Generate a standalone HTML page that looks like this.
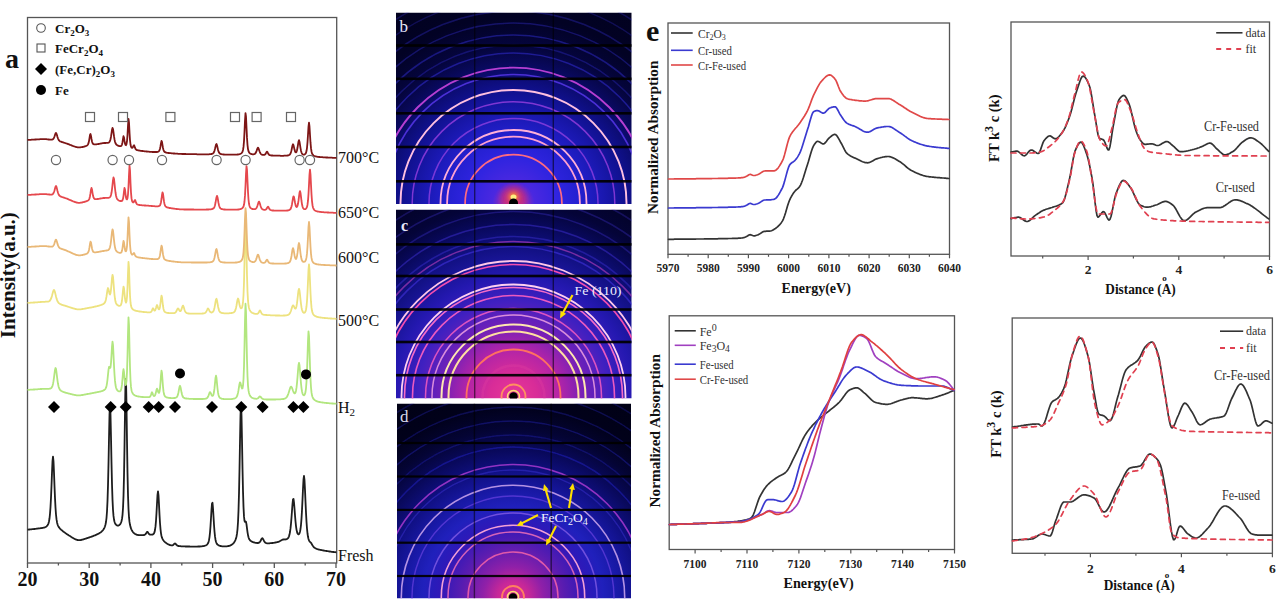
<!DOCTYPE html>
<html><head><meta charset="utf-8"><style>
html,body{margin:0;padding:0;background:#fff;width:1279px;height:600px;overflow:hidden}
svg{display:block}
.s{font-family:"Liberation Serif",serif;fill:#111}
.sb{font-family:"Liberation Serif",serif;font-weight:bold;fill:#111}
</style></head><body>
<svg width="1279" height="600" viewBox="0 0 1279 600">
<rect x="27.5" y="17.5" width="309.2" height="545.5" fill="none" stroke="#555" stroke-width="1.3"/>
<line x1="27.5" y1="563" x2="27.5" y2="568.0" stroke="#555" stroke-width="1.3"/>
<line x1="58.4" y1="563" x2="58.4" y2="565.5" stroke="#555" stroke-width="1.3"/>
<line x1="89.2" y1="563" x2="89.2" y2="568.0" stroke="#555" stroke-width="1.3"/>
<line x1="120.1" y1="563" x2="120.1" y2="565.5" stroke="#555" stroke-width="1.3"/>
<line x1="150.9" y1="563" x2="150.9" y2="568.0" stroke="#555" stroke-width="1.3"/>
<line x1="181.8" y1="563" x2="181.8" y2="565.5" stroke="#555" stroke-width="1.3"/>
<line x1="212.6" y1="563" x2="212.6" y2="568.0" stroke="#555" stroke-width="1.3"/>
<line x1="243.5" y1="563" x2="243.5" y2="565.5" stroke="#555" stroke-width="1.3"/>
<line x1="274.3" y1="563" x2="274.3" y2="568.0" stroke="#555" stroke-width="1.3"/>
<line x1="305.2" y1="563" x2="305.2" y2="565.5" stroke="#555" stroke-width="1.3"/>
<line x1="336.0" y1="563" x2="336.0" y2="568.0" stroke="#555" stroke-width="1.3"/>
<text x="27.5" y="586" class="sb" font-size="20" text-anchor="middle">20</text>
<text x="89.2" y="586" class="sb" font-size="20" text-anchor="middle">30</text>
<text x="150.9" y="586" class="sb" font-size="20" text-anchor="middle">40</text>
<text x="212.6" y="586" class="sb" font-size="20" text-anchor="middle">50</text>
<text x="274.3" y="586" class="sb" font-size="20" text-anchor="middle">60</text>
<text x="336.0" y="586" class="sb" font-size="20" text-anchor="middle">70</text>
<path d="M27.5,529.6 L28.0,529.6 L28.5,529.6 L29.0,529.5 L29.5,529.5 L30.0,529.4 L30.5,529.4 L31.0,529.4 L31.5,529.3 L32.0,529.2 L32.5,529.2 L33.0,529.1 L33.5,529.1 L34.0,529.0 L34.5,529.0 L35.0,528.9 L35.5,528.8 L36.0,528.8 L36.5,528.7 L37.0,528.6 L37.5,528.6 L38.0,528.5 L38.5,528.4 L39.0,528.4 L39.5,528.3 L40.0,528.3 L40.5,528.2 L41.0,528.1 L41.5,528.1 L42.0,528.0 L42.5,527.9 L43.0,527.8 L43.5,527.7 L44.0,527.6 L44.5,527.5 L45.0,527.3 L45.5,527.0 L46.0,526.8 L46.5,526.4 L47.0,525.9 L47.5,525.3 L48.0,524.5 L48.5,523.3 L49.0,521.4 L49.5,518.5 L50.0,513.9 L50.5,507.1 L51.0,497.7 L51.5,485.8 L52.0,472.6 L52.5,461.2 L53.0,456.6 L53.5,461.3 L54.0,472.8 L54.5,486.1 L55.0,498.1 L55.5,507.6 L56.0,514.5 L56.5,519.2 L57.0,522.2 L57.5,524.2 L58.0,525.6 L58.5,526.6 L59.0,527.4 L59.5,528.0 L60.0,528.6 L60.5,529.1 L61.0,529.6 L61.5,530.0 L62.0,530.4 L62.5,530.9 L63.0,531.3 L63.5,531.7 L64.0,532.0 L64.5,532.4 L65.0,532.8 L65.5,533.1 L66.0,533.5 L66.5,533.8 L67.0,534.2 L67.5,534.5 L68.0,534.8 L68.5,535.2 L69.0,535.5 L69.5,535.8 L70.0,536.1 L70.5,536.4 L71.0,536.8 L71.5,537.1 L72.0,537.4 L72.5,537.7 L73.0,538.0 L73.5,538.3 L74.0,538.6 L74.5,538.8 L75.0,539.1 L75.5,539.3 L76.0,539.6 L76.5,539.7 L77.0,539.9 L77.5,540.0 L78.0,540.1 L78.5,540.2 L79.0,540.2 L79.5,540.2 L80.0,540.1 L80.5,540.1 L81.0,540.0 L81.5,539.9 L82.0,539.7 L82.5,539.6 L83.0,539.5 L83.5,539.3 L84.0,539.1 L84.5,539.0 L85.0,538.8 L85.5,538.7 L86.0,538.5 L86.5,538.4 L87.0,538.2 L87.5,538.0 L88.0,537.9 L88.5,537.7 L89.0,537.5 L89.5,537.4 L90.0,537.2 L90.5,537.0 L91.0,536.8 L91.5,536.6 L92.0,536.5 L92.5,536.3 L93.0,536.1 L93.5,535.9 L94.0,535.7 L94.5,535.5 L95.0,535.3 L95.5,535.1 L96.0,534.9 L96.5,534.6 L97.0,534.4 L97.5,534.2 L98.0,533.9 L98.5,533.7 L99.0,533.4 L99.5,533.1 L100.0,532.8 L100.5,532.5 L101.0,532.1 L101.5,531.7 L102.0,531.2 L102.5,530.7 L103.0,530.1 L103.5,529.4 L104.0,528.6 L104.5,527.6 L105.0,526.3 L105.5,524.5 L106.0,522.0 L106.5,518.0 L107.0,511.5 L107.5,501.1 L108.0,485.4 L108.5,463.9 L109.0,438.2 L109.5,414.5 L110.0,404.2 L110.5,414.2 L111.0,437.6 L111.5,463.0 L112.0,484.2 L112.5,499.6 L113.0,509.7 L113.5,515.9 L114.0,519.5 L114.5,521.7 L115.0,523.1 L115.5,524.1 L116.0,524.7 L116.5,525.2 L117.0,525.4 L117.5,525.6 L118.0,525.6 L118.5,525.5 L119.0,525.2 L119.5,524.9 L120.0,524.4 L120.5,523.7 L121.0,522.6 L121.5,521.2 L122.0,518.9 L122.5,515.1 L123.0,508.3 L123.5,496.3 L124.0,476.3 L124.5,447.0 L125.0,411.4 L125.5,382.0 L126.0,378.9 L126.5,405.1 L127.0,441.3 L127.5,472.8 L128.0,495.1 L128.5,509.0 L129.0,517.2 L129.5,521.9 L130.0,524.8 L130.5,526.9 L131.0,528.4 L131.5,529.6 L132.0,530.6 L132.5,531.4 L133.0,532.1 L133.5,532.7 L134.0,533.1 L134.5,533.5 L135.0,533.9 L135.5,534.2 L136.0,534.4 L136.5,534.6 L137.0,534.8 L137.5,534.9 L138.0,535.0 L138.5,535.1 L139.0,535.1 L139.5,535.2 L140.0,535.2 L140.5,535.2 L141.0,535.2 L141.5,535.2 L142.0,535.2 L142.5,535.2 L143.0,535.1 L143.5,535.1 L144.0,535.0 L144.5,534.9 L145.0,534.6 L145.5,534.3 L146.0,533.6 L146.5,532.7 L147.0,531.9 L147.5,531.8 L148.0,532.5 L148.5,533.3 L149.0,534.0 L149.5,534.4 L150.0,534.6 L150.5,534.7 L151.0,534.7 L151.5,534.7 L152.0,534.7 L152.5,534.6 L153.0,534.4 L153.5,534.0 L154.0,533.4 L154.5,532.2 L155.0,530.0 L155.5,526.4 L156.0,520.8 L156.5,513.0 L157.0,503.5 L157.5,494.9 L158.0,491.3 L158.5,495.4 L159.0,504.6 L159.5,514.6 L160.0,523.0 L160.5,529.1 L161.0,533.3 L161.5,536.0 L162.0,537.7 L162.5,538.9 L163.0,539.8 L163.5,540.5 L164.0,541.1 L164.5,541.6 L165.0,542.1 L165.5,542.5 L166.0,542.9 L166.5,543.3 L167.0,543.6 L167.5,544.0 L168.0,544.2 L168.5,544.5 L169.0,544.7 L169.5,544.9 L170.0,545.1 L170.5,545.2 L171.0,545.3 L171.5,545.4 L172.0,545.4 L172.5,545.3 L173.0,545.1 L173.5,544.7 L174.0,544.2 L174.5,543.7 L175.0,543.5 L175.5,543.7 L176.0,544.3 L176.5,544.9 L177.0,545.3 L177.5,545.7 L178.0,545.9 L178.5,546.0 L179.0,546.1 L179.5,546.1 L180.0,546.2 L180.5,546.2 L181.0,546.3 L181.5,546.3 L182.0,546.3 L182.5,546.3 L183.0,546.4 L183.5,546.4 L184.0,546.4 L184.5,546.4 L185.0,546.4 L185.5,546.5 L186.0,546.5 L186.5,546.5 L187.0,546.5 L187.5,546.5 L188.0,546.5 L188.5,546.5 L189.0,546.5 L189.5,546.5 L190.0,546.6 L190.5,546.6 L191.0,546.6 L191.5,546.6 L192.0,546.6 L192.5,546.6 L193.0,546.6 L193.5,546.6 L194.0,546.6 L194.5,546.6 L195.0,546.6 L195.5,546.6 L196.0,546.6 L196.5,546.6 L197.0,546.6 L197.5,546.6 L198.0,546.5 L198.5,546.5 L199.0,546.5 L199.5,546.5 L200.0,546.5 L200.5,546.4 L201.0,546.4 L201.5,546.4 L202.0,546.3 L202.5,546.2 L203.0,546.2 L203.5,546.1 L204.0,546.0 L204.5,545.8 L205.0,545.7 L205.5,545.5 L206.0,545.3 L206.5,545.0 L207.0,544.6 L207.5,544.0 L208.0,543.3 L208.5,542.1 L209.0,540.2 L209.5,537.1 L210.0,532.6 L210.5,526.2 L211.0,518.2 L211.5,509.7 L212.0,503.5 L212.5,502.8 L213.0,508.2 L213.5,516.5 L214.0,524.7 L214.5,531.5 L215.0,536.4 L215.5,539.7 L216.0,541.8 L216.5,543.1 L217.0,544.0 L217.5,544.5 L218.0,544.9 L218.5,545.3 L219.0,545.5 L219.5,545.7 L220.0,545.9 L220.5,546.0 L221.0,546.1 L221.5,546.2 L222.0,546.3 L222.5,546.3 L223.0,546.3 L223.5,546.4 L224.0,546.4 L224.5,546.4 L225.0,546.4 L225.5,546.4 L226.0,546.4 L226.5,546.3 L227.0,546.3 L227.5,546.2 L228.0,546.1 L228.5,546.0 L229.0,545.9 L229.5,545.8 L230.0,545.6 L230.5,545.4 L231.0,545.1 L231.5,544.9 L232.0,544.5 L232.5,544.1 L233.0,543.7 L233.5,543.2 L234.0,542.6 L234.5,541.8 L235.0,540.9 L235.5,539.8 L236.0,538.4 L236.5,536.5 L237.0,533.7 L237.5,529.3 L238.0,522.2 L238.5,510.8 L239.0,493.5 L239.5,469.8 L240.0,441.5 L240.5,415.4 L241.0,404.0 L241.5,415.0 L242.0,440.5 L242.5,468.2 L243.0,491.0 L243.5,506.9 L244.0,516.4 L244.5,520.8 L245.0,521.9 L245.5,521.5 L246.0,521.8 L246.5,524.4 L247.0,528.3 L247.5,532.1 L248.0,535.1 L248.5,537.3 L249.0,538.7 L249.5,539.6 L250.0,540.3 L250.5,540.7 L251.0,541.1 L251.5,541.4 L252.0,541.7 L252.5,541.9 L253.0,542.1 L253.5,542.3 L254.0,542.4 L254.5,542.5 L255.0,542.7 L255.5,542.8 L256.0,542.9 L256.5,542.9 L257.0,543.0 L257.5,543.0 L258.0,543.0 L258.5,542.9 L259.0,542.7 L259.5,542.3 L260.0,541.8 L260.5,541.0 L261.0,540.0 L261.5,539.0 L262.0,538.3 L262.5,538.2 L263.0,538.9 L263.5,539.9 L264.0,540.9 L264.5,541.7 L265.0,542.3 L265.5,542.8 L266.0,543.0 L266.5,543.2 L267.0,543.3 L267.5,543.3 L268.0,543.3 L268.5,543.3 L269.0,543.3 L269.5,543.3 L270.0,543.2 L270.5,543.2 L271.0,543.1 L271.5,543.1 L272.0,543.0 L272.5,543.0 L273.0,542.9 L273.5,542.8 L274.0,542.8 L274.5,542.7 L275.0,542.6 L275.5,542.5 L276.0,542.4 L276.5,542.3 L277.0,542.2 L277.5,542.1 L278.0,541.9 L278.5,541.8 L279.0,541.6 L279.5,541.3 L280.0,541.1 L280.5,540.8 L281.0,540.5 L281.5,540.2 L282.0,539.9 L282.5,539.7 L283.0,539.5 L283.5,539.5 L284.0,539.4 L284.5,539.4 L285.0,539.5 L285.5,539.4 L286.0,539.4 L286.5,539.2 L287.0,539.0 L287.5,538.7 L288.0,538.2 L288.5,537.4 L289.0,536.3 L289.5,534.6 L290.0,532.0 L290.5,528.4 L291.0,523.6 L291.5,517.5 L292.0,510.7 L292.5,504.0 L293.0,499.4 L293.5,498.9 L294.0,502.5 L294.5,508.6 L295.0,515.3 L295.5,521.3 L296.0,526.1 L296.5,529.6 L297.0,531.9 L297.5,533.4 L298.0,534.1 L298.5,534.3 L299.0,534.1 L299.5,533.2 L300.0,531.7 L300.5,529.0 L301.0,524.8 L301.5,518.6 L302.0,510.2 L302.5,499.9 L303.0,488.7 L303.5,479.5 L304.0,476.0 L304.5,480.2 L305.0,490.1 L305.5,501.8 L306.0,512.8 L306.5,521.8 L307.0,528.6 L307.5,533.5 L308.0,536.8 L308.5,539.0 L309.0,540.4 L309.5,541.3 L310.0,541.9 L310.5,542.3 L311.0,542.8 L311.5,543.6 L312.0,544.5 L312.5,545.4 L313.0,546.1 L313.5,546.8 L314.0,547.3 L314.5,547.7 L315.0,548.0 L315.5,548.3 L316.0,548.6 L316.5,548.8 L317.0,549.0 L317.5,549.2 L318.0,549.3 L318.5,549.5 L319.0,549.6 L319.5,549.7 L320.0,549.8 L320.5,549.9 L321.0,550.0 L321.5,550.1 L322.0,550.2 L322.5,550.3 L323.0,550.4 L323.5,550.5 L324.0,550.6 L324.5,550.7 L325.0,550.8 L325.5,550.8 L326.0,550.9 L326.5,551.0 L327.0,551.1 L327.5,551.2 L328.0,551.2 L328.5,551.3 L329.0,551.4 L329.5,551.5 L330.0,551.5 L330.5,551.6 L331.0,551.7 L331.5,551.8 L332.0,551.8 L332.5,551.9 L333.0,552.0 L333.5,552.0 L334.0,552.1 L334.5,552.1 L335.0,552.2 L335.5,552.2 L336.0,552.3 L336.5,552.3" fill="none" stroke="#1e1e1e" stroke-width="1.8" stroke-linejoin="round"/>
<path d="M27.5,389.9 L28.0,389.8 L28.5,389.8 L29.0,389.8 L29.5,389.8 L30.0,389.7 L30.5,389.7 L31.0,389.7 L31.5,389.7 L32.0,389.6 L32.5,389.6 L33.0,389.6 L33.5,389.5 L34.0,389.5 L34.5,389.5 L35.0,389.4 L35.5,389.4 L36.0,389.4 L36.5,389.3 L37.0,389.3 L37.5,389.3 L38.0,389.2 L38.5,389.2 L39.0,389.1 L39.5,389.1 L40.0,389.1 L40.5,389.0 L41.0,389.0 L41.5,389.0 L42.0,388.9 L42.5,388.9 L43.0,388.9 L43.5,388.8 L44.0,388.8 L44.5,388.8 L45.0,388.8 L45.5,388.8 L46.0,388.8 L46.5,388.8 L47.0,388.8 L47.5,388.8 L48.0,388.8 L48.5,388.8 L49.0,388.8 L49.5,388.7 L50.0,388.6 L50.5,388.5 L51.0,388.2 L51.5,387.8 L52.0,387.0 L52.5,385.8 L53.0,383.9 L53.5,381.2 L54.0,377.6 L54.5,373.6 L55.0,369.9 L55.5,368.0 L56.0,369.0 L56.5,372.4 L57.0,376.6 L57.5,380.6 L58.0,383.8 L58.5,386.2 L59.0,387.9 L59.5,389.0 L60.0,389.8 L60.5,390.3 L61.0,390.7 L61.5,391.0 L62.0,391.3 L62.5,391.5 L63.0,391.8 L63.5,392.0 L64.0,392.1 L64.5,392.3 L65.0,392.5 L65.5,392.6 L66.0,392.8 L66.5,392.9 L67.0,393.0 L67.5,393.2 L68.0,393.3 L68.5,393.5 L69.0,393.6 L69.5,393.7 L70.0,393.8 L70.5,394.0 L71.0,394.1 L71.5,394.2 L72.0,394.3 L72.5,394.5 L73.0,394.6 L73.5,394.7 L74.0,394.8 L74.5,394.9 L75.0,395.0 L75.5,395.1 L76.0,395.2 L76.5,395.3 L77.0,395.3 L77.5,395.4 L78.0,395.4 L78.5,395.4 L79.0,395.4 L79.5,395.4 L80.0,395.3 L80.5,395.3 L81.0,395.2 L81.5,395.1 L82.0,395.0 L82.5,395.0 L83.0,394.9 L83.5,394.8 L84.0,394.7 L84.5,394.6 L85.0,394.5 L85.5,394.4 L86.0,394.3 L86.5,394.2 L87.0,394.1 L87.5,394.0 L88.0,393.9 L88.5,393.9 L89.0,393.8 L89.5,393.7 L90.0,393.6 L90.5,393.5 L91.0,393.4 L91.5,393.3 L92.0,393.2 L92.5,393.1 L93.0,393.0 L93.5,392.9 L94.0,392.8 L94.5,392.7 L95.0,392.6 L95.5,392.5 L96.0,392.4 L96.5,392.3 L97.0,392.2 L97.5,392.1 L98.0,392.0 L98.5,391.9 L99.0,391.8 L99.5,391.7 L100.0,391.6 L100.5,391.5 L101.0,391.3 L101.5,391.2 L102.0,391.0 L102.5,390.9 L103.0,390.7 L103.5,390.4 L104.0,390.2 L104.5,389.8 L105.0,389.4 L105.5,388.7 L106.0,387.7 L106.5,386.0 L107.0,383.3 L107.5,379.5 L108.0,374.7 L108.5,369.9 L109.0,366.9 L109.5,367.0 L110.0,368.0 L110.5,367.2 L111.0,363.0 L111.5,355.4 L112.0,346.6 L112.5,341.6 L113.0,344.9 L113.5,354.7 L114.0,365.5 L114.5,374.5 L115.0,380.9 L115.5,385.0 L116.0,387.5 L116.5,389.0 L117.0,389.9 L117.5,390.5 L118.0,390.9 L118.5,391.2 L119.0,391.4 L119.5,391.4 L120.0,391.3 L120.5,390.9 L121.0,389.9 L121.5,388.0 L122.0,384.4 L122.5,378.9 L123.0,372.5 L123.5,369.2 L124.0,372.0 L124.5,377.8 L125.0,382.6 L125.5,385.0 L126.0,384.7 L126.5,381.0 L127.0,372.0 L127.5,355.5 L128.0,333.2 L128.5,317.4 L129.0,325.3 L129.5,347.8 L130.0,367.8 L130.5,380.3 L131.0,386.9 L131.5,390.2 L132.0,392.0 L132.5,393.1 L133.0,393.8 L133.5,394.4 L134.0,394.8 L134.5,395.2 L135.0,395.5 L135.5,395.7 L136.0,395.9 L136.5,396.0 L137.0,396.2 L137.5,396.3 L138.0,396.4 L138.5,396.5 L139.0,396.6 L139.5,396.7 L140.0,396.7 L140.5,396.8 L141.0,396.9 L141.5,396.9 L142.0,397.0 L142.5,397.0 L143.0,397.0 L143.5,397.1 L144.0,397.1 L144.5,397.1 L145.0,397.2 L145.5,397.2 L146.0,397.2 L146.5,397.2 L147.0,397.2 L147.5,397.2 L148.0,397.2 L148.5,397.2 L149.0,397.1 L149.5,397.0 L150.0,396.7 L150.5,396.0 L151.0,394.8 L151.5,393.2 L152.0,392.2 L152.5,393.1 L153.0,394.6 L153.5,395.6 L154.0,396.0 L154.5,395.9 L155.0,395.3 L155.5,394.1 L156.0,392.1 L156.5,389.9 L157.0,388.6 L157.5,389.5 L158.0,391.4 L158.5,392.7 L159.0,392.9 L159.5,391.6 L160.0,388.3 L160.5,382.5 L161.0,375.4 L161.5,370.6 L162.0,373.0 L162.5,380.0 L163.0,386.8 L163.5,391.4 L164.0,394.1 L164.5,395.5 L165.0,396.3 L165.5,396.8 L166.0,397.1 L166.5,397.3 L167.0,397.5 L167.5,397.6 L168.0,397.7 L168.5,397.8 L169.0,397.9 L169.5,397.9 L170.0,398.0 L170.5,398.0 L171.0,398.1 L171.5,398.1 L172.0,398.1 L172.5,398.1 L173.0,398.1 L173.5,398.1 L174.0,398.0 L174.5,398.0 L175.0,397.9 L175.5,397.8 L176.0,397.6 L176.5,397.3 L177.0,396.8 L177.5,395.9 L178.0,394.4 L178.5,392.2 L179.0,389.5 L179.5,386.9 L180.0,385.8 L180.5,387.0 L181.0,389.6 L181.5,392.3 L182.0,394.5 L182.5,396.0 L183.0,397.0 L183.5,397.5 L184.0,397.9 L184.5,398.1 L185.0,398.3 L185.5,398.4 L186.0,398.5 L186.5,398.5 L187.0,398.6 L187.5,398.7 L188.0,398.7 L188.5,398.7 L189.0,398.8 L189.5,398.8 L190.0,398.8 L190.5,398.9 L191.0,398.9 L191.5,398.9 L192.0,398.9 L192.5,398.9 L193.0,398.9 L193.5,399.0 L194.0,399.0 L194.5,399.0 L195.0,399.0 L195.5,399.0 L196.0,399.0 L196.5,399.0 L197.0,399.0 L197.5,399.0 L198.0,399.0 L198.5,399.0 L199.0,399.0 L199.5,399.0 L200.0,399.0 L200.5,399.0 L201.0,399.0 L201.5,399.0 L202.0,399.0 L202.5,399.0 L203.0,399.0 L203.5,398.9 L204.0,398.9 L204.5,398.8 L205.0,398.8 L205.5,398.7 L206.0,398.6 L206.5,398.4 L207.0,398.1 L207.5,397.6 L208.0,396.8 L208.5,395.6 L209.0,394.2 L209.5,392.8 L210.0,392.1 L210.5,392.6 L211.0,393.7 L211.5,394.9 L212.0,395.7 L212.5,395.9 L213.0,395.6 L213.5,394.4 L214.0,392.0 L214.5,388.2 L215.0,383.1 L215.5,377.9 L216.0,375.6 L216.5,378.0 L217.0,383.3 L217.5,388.5 L218.0,392.4 L218.5,395.0 L219.0,396.5 L219.5,397.4 L220.0,397.9 L220.5,398.2 L221.0,398.4 L221.5,398.6 L222.0,398.8 L222.5,398.9 L223.0,398.9 L223.5,399.0 L224.0,399.1 L224.5,399.1 L225.0,399.2 L225.5,399.2 L226.0,399.2 L226.5,399.2 L227.0,399.2 L227.5,399.2 L228.0,399.2 L228.5,399.2 L229.0,399.2 L229.5,399.2 L230.0,399.2 L230.5,399.1 L231.0,399.1 L231.5,399.1 L232.0,399.0 L232.5,398.9 L233.0,398.8 L233.5,398.7 L234.0,398.6 L234.5,398.5 L235.0,398.3 L235.5,398.0 L236.0,397.6 L236.5,397.1 L237.0,396.2 L237.5,394.9 L238.0,392.9 L238.5,390.2 L239.0,387.0 L239.5,383.9 L240.0,382.3 L240.5,383.0 L241.0,385.1 L241.5,387.2 L242.0,388.5 L242.5,388.3 L243.0,385.7 L243.5,379.3 L244.0,366.6 L244.5,346.1 L245.0,320.6 L245.5,303.7 L246.0,311.9 L246.5,336.5 L247.0,360.1 L247.5,376.3 L248.0,385.6 L248.5,390.4 L249.0,393.0 L249.5,394.6 L250.0,395.6 L250.5,396.4 L251.0,396.9 L251.5,397.4 L252.0,397.7 L252.5,398.0 L253.0,398.2 L253.5,398.3 L254.0,398.5 L254.5,398.6 L255.0,398.7 L255.5,398.7 L256.0,398.8 L256.5,398.8 L257.0,398.7 L257.5,398.5 L258.0,398.2 L258.5,397.8 L259.0,397.2 L259.5,396.6 L260.0,396.4 L260.5,396.7 L261.0,397.3 L261.5,397.9 L262.0,398.5 L262.5,398.8 L263.0,399.1 L263.5,399.2 L264.0,399.3 L264.5,399.3 L265.0,399.4 L265.5,399.4 L266.0,399.4 L266.5,399.5 L267.0,399.5 L267.5,399.5 L268.0,399.5 L268.5,399.5 L269.0,399.5 L269.5,399.5 L270.0,399.5 L270.5,399.5 L271.0,399.5 L271.5,399.5 L272.0,399.5 L272.5,399.5 L273.0,399.5 L273.5,399.5 L274.0,399.5 L274.5,399.5 L275.0,399.5 L275.5,399.5 L276.0,399.4 L276.5,399.4 L277.0,399.4 L277.5,399.4 L278.0,399.4 L278.5,399.3 L279.0,399.3 L279.5,399.3 L280.0,399.3 L280.5,399.3 L281.0,399.2 L281.5,399.2 L282.0,399.2 L282.5,399.1 L283.0,399.0 L283.5,399.0 L284.0,398.9 L284.5,398.7 L285.0,398.5 L285.5,398.3 L286.0,397.9 L286.5,397.4 L287.0,396.7 L287.5,395.8 L288.0,394.7 L288.5,393.3 L289.0,391.7 L289.5,390.0 L290.0,388.4 L290.5,387.1 L291.0,386.6 L291.5,386.9 L292.0,387.9 L292.5,389.3 L293.0,390.7 L293.5,392.0 L294.0,392.9 L294.5,393.4 L295.0,393.4 L295.5,392.5 L296.0,390.7 L296.5,387.7 L297.0,383.1 L297.5,377.3 L298.0,370.7 L298.5,365.1 L299.0,362.8 L299.5,365.2 L300.0,370.9 L300.5,377.5 L301.0,383.5 L301.5,388.1 L302.0,391.4 L302.5,393.5 L303.0,394.7 L303.5,395.2 L304.0,395.3 L304.5,394.9 L305.0,393.9 L305.5,392.0 L306.0,388.3 L306.5,381.7 L307.0,371.1 L307.5,356.6 L308.0,340.8 L308.5,331.3 L309.0,335.9 L309.5,350.6 L310.0,366.4 L310.5,379.0 L311.0,387.3 L311.5,392.4 L312.0,395.3 L312.5,397.0 L313.0,398.1 L313.5,398.9 L314.0,399.5 L314.5,399.9 L315.0,400.3 L315.5,400.6 L316.0,400.9 L316.5,401.1 L317.0,401.3 L317.5,401.5 L318.0,401.6 L318.5,401.8 L319.0,401.9 L319.5,402.0 L320.0,402.1 L320.5,402.2 L321.0,402.3 L321.5,402.4 L322.0,402.4 L322.5,402.5 L323.0,402.6 L323.5,402.7 L324.0,402.7 L324.5,402.8 L325.0,402.8 L325.5,402.9 L326.0,402.9 L326.5,403.0 L327.0,403.0 L327.5,403.1 L328.0,403.1 L328.5,403.2 L329.0,403.2 L329.5,403.3 L330.0,403.3 L330.5,403.3 L331.0,403.4 L331.5,403.4 L332.0,403.5 L332.5,403.5 L333.0,403.5 L333.5,403.6 L334.0,403.6 L334.5,403.6 L335.0,403.7 L335.5,403.7 L336.0,403.7 L336.5,403.7" fill="none" stroke="#b2e67f" stroke-width="1.8" stroke-linejoin="round"/>
<path d="M27.5,302.9 L28.0,302.8 L28.5,302.8 L29.0,302.8 L29.5,302.8 L30.0,302.8 L30.5,302.7 L31.0,302.7 L31.5,302.7 L32.0,302.6 L32.5,302.6 L33.0,302.6 L33.5,302.5 L34.0,302.5 L34.5,302.5 L35.0,302.4 L35.5,302.4 L36.0,302.4 L36.5,302.3 L37.0,302.3 L37.5,302.3 L38.0,302.2 L38.5,302.2 L39.0,302.1 L39.5,302.1 L40.0,302.1 L40.5,302.0 L41.0,302.0 L41.5,301.9 L42.0,301.9 L42.5,301.9 L43.0,301.8 L43.5,301.8 L44.0,301.8 L44.5,301.8 L45.0,301.8 L45.5,301.7 L46.0,301.7 L46.5,301.7 L47.0,301.7 L47.5,301.7 L48.0,301.6 L48.5,301.5 L49.0,301.3 L49.5,301.0 L50.0,300.5 L50.5,299.8 L51.0,298.7 L51.5,297.4 L52.0,295.7 L52.5,293.8 L53.0,291.9 L53.5,290.5 L54.0,290.0 L54.5,290.7 L55.0,292.3 L55.5,294.4 L56.0,296.5 L56.5,298.4 L57.0,299.9 L57.5,301.2 L58.0,302.1 L58.5,302.8 L59.0,303.3 L59.5,303.6 L60.0,303.9 L60.5,304.2 L61.0,304.4 L61.5,304.6 L62.0,304.8 L62.5,305.0 L63.0,305.1 L63.5,305.3 L64.0,305.4 L64.5,305.6 L65.0,305.7 L65.5,305.9 L66.0,306.0 L66.5,306.2 L67.0,306.4 L67.5,306.5 L68.0,306.7 L68.5,306.8 L69.0,307.0 L69.5,307.2 L70.0,307.3 L70.5,307.5 L71.0,307.6 L71.5,307.8 L72.0,308.0 L72.5,308.1 L73.0,308.3 L73.5,308.4 L74.0,308.6 L74.5,308.7 L75.0,308.9 L75.5,309.0 L76.0,309.1 L76.5,309.2 L77.0,309.3 L77.5,309.3 L78.0,309.4 L78.5,309.4 L79.0,309.4 L79.5,309.4 L80.0,309.4 L80.5,309.3 L81.0,309.3 L81.5,309.2 L82.0,309.1 L82.5,309.0 L83.0,308.9 L83.5,308.9 L84.0,308.8 L84.5,308.7 L85.0,308.6 L85.5,308.5 L86.0,308.4 L86.5,308.3 L87.0,308.2 L87.5,308.1 L88.0,308.0 L88.5,307.9 L89.0,307.8 L89.5,307.7 L90.0,307.7 L90.5,307.6 L91.0,307.5 L91.5,307.4 L92.0,307.3 L92.5,307.2 L93.0,307.1 L93.5,307.0 L94.0,306.9 L94.5,306.7 L95.0,306.6 L95.5,306.5 L96.0,306.4 L96.5,306.3 L97.0,306.2 L97.5,306.0 L98.0,305.9 L98.5,305.8 L99.0,305.6 L99.5,305.5 L100.0,305.3 L100.5,305.2 L101.0,305.0 L101.5,304.8 L102.0,304.6 L102.5,304.4 L103.0,304.2 L103.5,303.9 L104.0,303.5 L104.5,303.0 L105.0,302.3 L105.5,301.1 L106.0,299.2 L106.5,296.4 L107.0,293.0 L107.5,289.7 L108.0,288.0 L108.5,289.1 L109.0,291.6 L109.5,293.8 L110.0,294.5 L110.5,293.1 L111.0,289.6 L111.5,284.1 L112.0,278.2 L112.5,274.8 L113.0,276.8 L113.5,282.7 L114.0,289.4 L114.5,295.0 L115.0,299.0 L115.5,301.6 L116.0,303.1 L116.5,304.1 L117.0,304.7 L117.5,305.1 L118.0,305.4 L118.5,305.6 L119.0,305.8 L119.5,305.8 L120.0,305.7 L120.5,305.5 L121.0,304.8 L121.5,303.3 L122.0,300.5 L122.5,296.0 L123.0,290.3 L123.5,286.6 L124.0,288.3 L124.5,293.6 L125.0,298.5 L125.5,301.5 L126.0,302.6 L126.5,301.5 L127.0,297.0 L127.5,287.5 L128.0,273.0 L128.5,261.8 L129.0,267.6 L129.5,283.0 L130.0,295.5 L130.5,302.5 L131.0,305.8 L131.5,307.5 L132.0,308.4 L132.5,309.0 L133.0,309.5 L133.5,309.8 L134.0,310.1 L134.5,310.3 L135.0,310.5 L135.5,310.6 L136.0,310.8 L136.5,310.9 L137.0,311.0 L137.5,311.1 L138.0,311.2 L138.5,311.3 L139.0,311.4 L139.5,311.5 L140.0,311.5 L140.5,311.6 L141.0,311.7 L141.5,311.7 L142.0,311.8 L142.5,311.9 L143.0,311.9 L143.5,312.0 L144.0,312.0 L144.5,312.1 L145.0,312.1 L145.5,312.2 L146.0,312.2 L146.5,312.2 L147.0,312.3 L147.5,312.3 L148.0,312.3 L148.5,312.3 L149.0,312.3 L149.5,312.3 L150.0,312.3 L150.5,312.2 L151.0,311.9 L151.5,311.4 L152.0,310.4 L152.5,309.1 L153.0,308.3 L153.5,308.9 L154.0,310.0 L154.5,310.7 L155.0,310.5 L155.5,309.6 L156.0,308.0 L156.5,306.1 L157.0,305.0 L157.5,305.9 L158.0,307.6 L158.5,309.0 L159.0,309.4 L159.5,308.8 L160.0,306.7 L160.5,303.1 L161.0,298.6 L161.5,295.6 L162.0,297.2 L162.5,301.7 L163.0,306.0 L163.5,308.9 L164.0,310.6 L164.5,311.5 L165.0,312.0 L165.5,312.3 L166.0,312.5 L166.5,312.7 L167.0,312.8 L167.5,312.9 L168.0,313.0 L168.5,313.0 L169.0,313.1 L169.5,313.1 L170.0,313.2 L170.5,313.2 L171.0,313.2 L171.5,313.2 L172.0,313.2 L172.5,313.2 L173.0,313.2 L173.5,313.1 L174.0,313.1 L174.5,313.0 L175.0,312.8 L175.5,312.4 L176.0,311.8 L176.5,311.0 L177.0,309.9 L177.5,308.9 L178.0,308.4 L178.5,308.8 L179.0,309.7 L179.5,310.5 L180.0,311.0 L180.5,311.0 L181.0,310.5 L181.5,309.3 L182.0,307.8 L182.5,306.3 L183.0,305.6 L183.5,306.4 L184.0,308.0 L184.5,309.7 L185.0,311.1 L185.5,312.0 L186.0,312.6 L186.5,312.9 L187.0,313.2 L187.5,313.3 L188.0,313.4 L188.5,313.5 L189.0,313.5 L189.5,313.6 L190.0,313.6 L190.5,313.6 L191.0,313.6 L191.5,313.7 L192.0,313.7 L192.5,313.7 L193.0,313.7 L193.5,313.7 L194.0,313.7 L194.5,313.7 L195.0,313.7 L195.5,313.7 L196.0,313.7 L196.5,313.7 L197.0,313.7 L197.5,313.7 L198.0,313.7 L198.5,313.7 L199.0,313.7 L199.5,313.7 L200.0,313.7 L200.5,313.6 L201.0,313.6 L201.5,313.6 L202.0,313.6 L202.5,313.5 L203.0,313.5 L203.5,313.4 L204.0,313.3 L204.5,313.2 L205.0,313.0 L205.5,312.6 L206.0,312.0 L206.5,311.1 L207.0,310.1 L207.5,309.0 L208.0,308.5 L208.5,308.9 L209.0,309.9 L209.5,310.9 L210.0,311.7 L210.5,312.1 L211.0,312.4 L211.5,312.5 L212.0,312.4 L212.5,312.1 L213.0,311.7 L213.5,310.9 L214.0,309.6 L214.5,307.7 L215.0,305.1 L215.5,302.0 L216.0,299.5 L216.5,298.8 L217.0,300.4 L217.5,303.3 L218.0,306.2 L218.5,308.6 L219.0,310.3 L219.5,311.4 L220.0,312.0 L220.5,312.5 L221.0,312.7 L221.5,312.9 L222.0,313.0 L222.5,313.1 L223.0,313.2 L223.5,313.2 L224.0,313.3 L224.5,313.3 L225.0,313.3 L225.5,313.3 L226.0,313.3 L226.5,313.3 L227.0,313.3 L227.5,313.3 L228.0,313.3 L228.5,313.3 L229.0,313.3 L229.5,313.2 L230.0,313.2 L230.5,313.1 L231.0,313.1 L231.5,313.0 L232.0,312.9 L232.5,312.8 L233.0,312.7 L233.5,312.5 L234.0,312.2 L234.5,311.7 L235.0,310.9 L235.5,309.7 L236.0,307.9 L236.5,305.5 L237.0,302.5 L237.5,299.8 L238.0,298.5 L238.5,299.5 L239.0,301.9 L239.5,304.5 L240.0,306.5 L240.5,307.8 L241.0,308.3 L241.5,308.2 L242.0,307.4 L242.5,305.6 L243.0,302.2 L243.5,295.3 L244.0,282.4 L244.5,262.0 L245.0,236.8 L245.5,220.1 L246.0,228.1 L246.5,252.3 L247.0,275.5 L247.5,291.5 L248.0,300.7 L248.5,305.5 L249.0,308.0 L249.5,309.6 L250.0,310.6 L250.5,311.3 L251.0,311.9 L251.5,312.3 L252.0,312.7 L252.5,313.0 L253.0,313.2 L253.5,313.4 L254.0,313.5 L254.5,313.7 L255.0,313.8 L255.5,313.9 L256.0,313.9 L256.5,313.9 L257.0,313.9 L257.5,313.8 L258.0,313.5 L258.5,312.9 L259.0,312.0 L259.5,311.0 L260.0,310.5 L260.5,311.1 L261.0,312.2 L261.5,313.2 L262.0,313.9 L262.5,314.3 L263.0,314.5 L263.5,314.7 L264.0,314.8 L264.5,314.8 L265.0,314.9 L265.5,314.9 L266.0,315.0 L266.5,315.0 L267.0,315.1 L267.5,315.1 L268.0,315.1 L268.5,315.2 L269.0,315.2 L269.5,315.2 L270.0,315.2 L270.5,315.3 L271.0,315.3 L271.5,315.3 L272.0,315.3 L272.5,315.4 L273.0,315.4 L273.5,315.4 L274.0,315.4 L274.5,315.4 L275.0,315.4 L275.5,315.5 L276.0,315.5 L276.5,315.5 L277.0,315.5 L277.5,315.5 L278.0,315.5 L278.5,315.5 L279.0,315.5 L279.5,315.5 L280.0,315.6 L280.5,315.6 L281.0,315.6 L281.5,315.6 L282.0,315.6 L282.5,315.6 L283.0,315.6 L283.5,315.5 L284.0,315.5 L284.5,315.5 L285.0,315.5 L285.5,315.4 L286.0,315.4 L286.5,315.3 L287.0,315.2 L287.5,315.1 L288.0,314.9 L288.5,314.7 L289.0,314.3 L289.5,313.8 L290.0,313.1 L290.5,312.0 L291.0,310.7 L291.5,309.1 L292.0,307.4 L292.5,306.0 L293.0,305.4 L293.5,305.6 L294.0,306.6 L294.5,307.7 L295.0,308.5 L295.5,308.7 L296.0,308.0 L296.5,306.2 L297.0,303.2 L297.5,299.1 L298.0,294.4 L298.5,290.4 L299.0,288.8 L299.5,290.5 L300.0,294.7 L300.5,299.6 L301.0,303.9 L301.5,307.4 L302.0,309.8 L302.5,311.3 L303.0,312.2 L303.5,312.7 L304.0,312.8 L304.5,312.7 L305.0,312.3 L305.5,311.4 L306.0,309.7 L306.5,306.5 L307.0,301.0 L307.5,292.5 L308.0,281.1 L308.5,269.6 L309.0,264.4 L309.5,269.8 L310.0,281.4 L310.5,293.0 L311.0,301.7 L311.5,307.4 L312.0,310.8 L312.5,312.7 L313.0,313.9 L313.5,314.6 L314.0,315.2 L314.5,315.6 L315.0,316.0 L315.5,316.2 L316.0,316.4 L316.5,316.6 L317.0,316.8 L317.5,316.9 L318.0,317.1 L318.5,317.2 L319.0,317.3 L319.5,317.4 L320.0,317.4 L320.5,317.5 L321.0,317.6 L321.5,317.7 L322.0,317.7 L322.5,317.8 L323.0,317.8 L323.5,317.9 L324.0,317.9 L324.5,318.0 L325.0,318.0 L325.5,318.1 L326.0,318.1 L326.5,318.2 L327.0,318.2 L327.5,318.2 L328.0,318.3 L328.5,318.3 L329.0,318.3 L329.5,318.4 L330.0,318.4 L330.5,318.5 L331.0,318.5 L331.5,318.5 L332.0,318.6 L332.5,318.6 L333.0,318.6 L333.5,318.7 L334.0,318.7 L334.5,318.7 L335.0,318.7 L335.5,318.8 L336.0,318.8 L336.5,318.8" fill="none" stroke="#ede27f" stroke-width="1.8" stroke-linejoin="round"/>
<path d="M27.5,246.9 L28.0,246.9 L28.5,246.9 L29.0,246.9 L29.5,246.8 L30.0,246.8 L30.5,246.8 L31.0,246.8 L31.5,246.7 L32.0,246.7 L32.5,246.7 L33.0,246.6 L33.5,246.6 L34.0,246.6 L34.5,246.6 L35.0,246.5 L35.5,246.5 L36.0,246.5 L36.5,246.4 L37.0,246.4 L37.5,246.4 L38.0,246.3 L38.5,246.3 L39.0,246.3 L39.5,246.2 L40.0,246.2 L40.5,246.2 L41.0,246.2 L41.5,246.1 L42.0,246.1 L42.5,246.1 L43.0,246.1 L43.5,246.1 L44.0,246.1 L44.5,246.1 L45.0,246.1 L45.5,246.1 L46.0,246.2 L46.5,246.2 L47.0,246.3 L47.5,246.3 L48.0,246.4 L48.5,246.5 L49.0,246.5 L49.5,246.6 L50.0,246.6 L50.5,246.7 L51.0,246.7 L51.5,246.7 L52.0,246.6 L52.5,246.5 L53.0,246.1 L53.5,245.5 L54.0,244.6 L54.5,243.3 L55.0,241.6 L55.5,240.2 L56.0,239.6 L56.5,240.4 L57.0,242.0 L57.5,243.9 L58.0,245.4 L58.5,246.5 L59.0,247.3 L59.5,247.8 L60.0,248.2 L60.5,248.5 L61.0,248.7 L61.5,248.9 L62.0,249.0 L62.5,249.2 L63.0,249.4 L63.5,249.5 L64.0,249.7 L64.5,249.9 L65.0,250.0 L65.5,250.2 L66.0,250.4 L66.5,250.6 L67.0,250.8 L67.5,251.1 L68.0,251.3 L68.5,251.5 L69.0,251.7 L69.5,252.0 L70.0,252.2 L70.5,252.4 L71.0,252.6 L71.5,252.9 L72.0,253.1 L72.5,253.3 L73.0,253.6 L73.5,253.8 L74.0,254.0 L74.5,254.2 L75.0,254.4 L75.5,254.6 L76.0,254.8 L76.5,254.9 L77.0,255.1 L77.5,255.2 L78.0,255.2 L78.5,255.3 L79.0,255.3 L79.5,255.3 L80.0,255.3 L80.5,255.3 L81.0,255.2 L81.5,255.1 L82.0,255.1 L82.5,255.0 L83.0,254.9 L83.5,254.7 L84.0,254.6 L84.5,254.5 L85.0,254.4 L85.5,254.2 L86.0,254.0 L86.5,253.8 L87.0,253.6 L87.5,253.2 L88.0,252.7 L88.5,251.7 L89.0,249.9 L89.5,247.2 L90.0,243.8 L90.5,241.6 L91.0,242.5 L91.5,245.5 L92.0,248.4 L92.5,250.4 L93.0,251.5 L93.5,252.0 L94.0,252.2 L94.5,252.3 L95.0,252.3 L95.5,252.3 L96.0,252.3 L96.5,252.2 L97.0,252.2 L97.5,252.1 L98.0,252.0 L98.5,251.9 L99.0,251.8 L99.5,251.7 L100.0,251.6 L100.5,251.5 L101.0,251.4 L101.5,251.3 L102.0,251.2 L102.5,251.1 L103.0,251.0 L103.5,251.0 L104.0,250.9 L104.5,250.8 L105.0,250.7 L105.5,250.7 L106.0,250.6 L106.5,250.5 L107.0,250.4 L107.5,250.3 L108.0,250.2 L108.5,249.9 L109.0,249.4 L109.5,248.6 L110.0,247.2 L110.5,244.9 L111.0,241.3 L111.5,236.7 L112.0,232.0 L112.5,229.3 L113.0,230.6 L113.5,235.1 L114.0,240.1 L114.5,244.3 L115.0,247.3 L115.5,249.3 L116.0,250.5 L116.5,251.2 L117.0,251.7 L117.5,252.0 L118.0,252.3 L118.5,252.5 L119.0,252.7 L119.5,252.8 L120.0,252.9 L120.5,252.8 L121.0,252.7 L121.5,252.1 L122.0,250.8 L122.5,248.1 L123.0,244.1 L123.5,240.9 L124.0,242.4 L124.5,246.5 L125.0,249.7 L125.5,251.2 L126.0,251.3 L126.5,249.9 L127.0,246.1 L127.5,238.3 L128.0,226.5 L128.5,217.4 L129.0,222.1 L129.5,234.5 L130.0,244.5 L130.5,250.1 L131.0,252.8 L131.5,254.0 L132.0,254.6 L132.5,254.7 L133.0,254.2 L133.5,253.4 L134.0,253.0 L134.5,253.9 L135.0,255.1 L135.5,256.0 L136.0,256.5 L136.5,256.8 L137.0,257.0 L137.5,257.2 L138.0,257.3 L138.5,257.4 L139.0,257.5 L139.5,257.6 L140.0,257.7 L140.5,257.7 L141.0,257.8 L141.5,257.9 L142.0,257.9 L142.5,258.0 L143.0,258.1 L143.5,258.1 L144.0,258.2 L144.5,258.2 L145.0,258.3 L145.5,258.3 L146.0,258.4 L146.5,258.4 L147.0,258.5 L147.5,258.6 L148.0,258.6 L148.5,258.7 L149.0,258.7 L149.5,258.8 L150.0,258.8 L150.5,258.9 L151.0,258.9 L151.5,259.0 L152.0,259.0 L152.5,259.0 L153.0,259.1 L153.5,259.1 L154.0,259.2 L154.5,259.2 L155.0,259.2 L155.5,259.2 L156.0,259.2 L156.5,259.2 L157.0,259.2 L157.5,259.1 L158.0,258.9 L158.5,258.7 L159.0,258.2 L159.5,257.1 L160.0,255.2 L160.5,252.0 L161.0,248.2 L161.5,245.6 L162.0,246.9 L162.5,250.7 L163.0,254.4 L163.5,256.9 L164.0,258.4 L164.5,259.2 L165.0,259.6 L165.5,259.9 L166.0,260.1 L166.5,260.3 L167.0,260.5 L167.5,260.6 L168.0,260.7 L168.5,260.8 L169.0,260.9 L169.5,261.0 L170.0,261.0 L170.5,261.1 L171.0,261.2 L171.5,261.3 L172.0,261.3 L172.5,261.4 L173.0,261.5 L173.5,261.5 L174.0,261.6 L174.5,261.6 L175.0,261.7 L175.5,261.8 L176.0,261.8 L176.5,261.9 L177.0,261.9 L177.5,262.0 L178.0,262.0 L178.5,262.1 L179.0,262.1 L179.5,262.2 L180.0,262.2 L180.5,262.2 L181.0,262.3 L181.5,262.3 L182.0,262.3 L182.5,262.3 L183.0,262.3 L183.5,262.4 L184.0,262.4 L184.5,262.4 L185.0,262.4 L185.5,262.4 L186.0,262.4 L186.5,262.4 L187.0,262.4 L187.5,262.4 L188.0,262.4 L188.5,262.4 L189.0,262.4 L189.5,262.4 L190.0,262.4 L190.5,262.4 L191.0,262.4 L191.5,262.5 L192.0,262.5 L192.5,262.5 L193.0,262.5 L193.5,262.5 L194.0,262.5 L194.5,262.5 L195.0,262.5 L195.5,262.5 L196.0,262.5 L196.5,262.5 L197.0,262.5 L197.5,262.5 L198.0,262.5 L198.5,262.5 L199.0,262.5 L199.5,262.5 L200.0,262.5 L200.5,262.5 L201.0,262.5 L201.5,262.5 L202.0,262.5 L202.5,262.5 L203.0,262.5 L203.5,262.5 L204.0,262.5 L204.5,262.5 L205.0,262.5 L205.5,262.5 L206.0,262.5 L206.5,262.5 L207.0,262.5 L207.5,262.4 L208.0,262.4 L208.5,262.4 L209.0,262.4 L209.5,262.3 L210.0,262.3 L210.5,262.2 L211.0,262.1 L211.5,262.0 L212.0,261.8 L212.5,261.6 L213.0,261.2 L213.5,260.6 L214.0,259.5 L214.5,257.7 L215.0,255.3 L215.5,252.3 L216.0,249.7 L216.5,249.0 L217.0,250.6 L217.5,253.5 L218.0,256.4 L218.5,258.5 L219.0,260.0 L219.5,260.9 L220.0,261.4 L220.5,261.8 L221.0,262.0 L221.5,262.1 L222.0,262.2 L222.5,262.3 L223.0,262.4 L223.5,262.4 L224.0,262.5 L224.5,262.5 L225.0,262.5 L225.5,262.6 L226.0,262.6 L226.5,262.6 L227.0,262.6 L227.5,262.6 L228.0,262.6 L228.5,262.7 L229.0,262.7 L229.5,262.7 L230.0,262.7 L230.5,262.7 L231.0,262.7 L231.5,262.7 L232.0,262.7 L232.5,262.7 L233.0,262.6 L233.5,262.6 L234.0,262.6 L234.5,262.6 L235.0,262.6 L235.5,262.5 L236.0,262.5 L236.5,262.5 L237.0,262.4 L237.5,262.3 L238.0,262.2 L238.5,262.1 L239.0,262.0 L239.5,261.8 L240.0,261.6 L240.5,261.4 L241.0,261.0 L241.5,260.5 L242.0,259.8 L242.5,258.6 L243.0,256.5 L243.5,252.3 L244.0,244.7 L244.5,232.8 L245.0,218.0 L245.5,208.2 L246.0,212.8 L246.5,226.9 L247.0,240.5 L247.5,249.8 L248.0,255.1 L248.5,257.9 L249.0,259.4 L249.5,260.3 L250.0,260.8 L250.5,261.2 L251.0,261.5 L251.5,261.7 L252.0,261.9 L252.5,262.0 L253.0,262.1 L253.5,262.1 L254.0,262.0 L254.5,261.8 L255.0,261.4 L255.5,260.8 L256.0,259.8 L256.5,258.4 L257.0,256.8 L257.5,255.2 L258.0,254.6 L258.5,255.3 L259.0,256.9 L259.5,258.6 L260.0,260.1 L260.5,261.1 L261.0,261.8 L261.5,262.3 L262.0,262.5 L262.5,262.7 L263.0,262.8 L263.5,262.8 L264.0,262.8 L264.5,262.7 L265.0,262.4 L265.5,261.9 L266.0,261.1 L266.5,260.1 L267.0,259.6 L267.5,260.2 L268.0,261.2 L268.5,262.1 L269.0,262.7 L269.5,263.0 L270.0,263.2 L270.5,263.3 L271.0,263.4 L271.5,263.4 L272.0,263.5 L272.5,263.5 L273.0,263.5 L273.5,263.5 L274.0,263.6 L274.5,263.6 L275.0,263.6 L275.5,263.6 L276.0,263.6 L276.5,263.6 L277.0,263.6 L277.5,263.6 L278.0,263.7 L278.5,263.7 L279.0,263.7 L279.5,263.7 L280.0,263.7 L280.5,263.7 L281.0,263.7 L281.5,263.7 L282.0,263.7 L282.5,263.6 L283.0,263.6 L283.5,263.6 L284.0,263.6 L284.5,263.6 L285.0,263.5 L285.5,263.5 L286.0,263.5 L286.5,263.4 L287.0,263.3 L287.5,263.2 L288.0,263.1 L288.5,262.9 L289.0,262.6 L289.5,262.2 L290.0,261.6 L290.5,260.4 L291.0,258.6 L291.5,256.0 L292.0,252.7 L292.5,249.5 L293.0,248.1 L293.5,249.3 L294.0,252.2 L294.5,255.2 L295.0,257.5 L295.5,258.7 L296.0,259.0 L296.5,258.1 L297.0,256.1 L297.5,252.9 L298.0,248.8 L298.5,244.8 L299.0,243.0 L299.5,244.9 L300.0,249.0 L300.5,253.3 L301.0,256.8 L301.5,259.1 L302.0,260.5 L302.5,261.3 L303.0,261.7 L303.5,261.9 L304.0,261.8 L304.5,261.7 L305.0,261.4 L305.5,260.7 L306.0,259.6 L306.5,257.4 L307.0,253.4 L307.5,246.6 L308.0,237.1 L308.5,226.9 L309.0,222.0 L309.5,227.0 L310.0,237.3 L310.5,246.9 L311.0,253.8 L311.5,257.9 L312.0,260.2 L312.5,261.5 L313.0,262.3 L313.5,262.8 L314.0,263.2 L314.5,263.5 L315.0,263.7 L315.5,263.9 L316.0,264.0 L316.5,264.1 L317.0,264.3 L317.5,264.3 L318.0,264.4 L318.5,264.5 L319.0,264.6 L319.5,264.6 L320.0,264.7 L320.5,264.7 L321.0,264.8 L321.5,264.8 L322.0,264.8 L322.5,264.9 L323.0,264.9 L323.5,264.9 L324.0,265.0 L324.5,265.0 L325.0,265.0 L325.5,265.1 L326.0,265.1 L326.5,265.1 L327.0,265.1 L327.5,265.2 L328.0,265.2 L328.5,265.2 L329.0,265.2 L329.5,265.2 L330.0,265.3 L330.5,265.3 L331.0,265.3 L331.5,265.3 L332.0,265.3 L332.5,265.4 L333.0,265.4 L333.5,265.4 L334.0,265.4 L334.5,265.4 L335.0,265.4 L335.5,265.5 L336.0,265.5 L336.5,265.5" fill="none" stroke="#e9b877" stroke-width="1.8" stroke-linejoin="round"/>
<path d="M27.5,194.9 L28.0,194.9 L28.5,194.9 L29.0,194.9 L29.5,194.8 L30.0,194.8 L30.5,194.8 L31.0,194.8 L31.5,194.7 L32.0,194.7 L32.5,194.7 L33.0,194.6 L33.5,194.6 L34.0,194.6 L34.5,194.6 L35.0,194.5 L35.5,194.5 L36.0,194.5 L36.5,194.4 L37.0,194.4 L37.5,194.4 L38.0,194.3 L38.5,194.3 L39.0,194.3 L39.5,194.2 L40.0,194.2 L40.5,194.2 L41.0,194.2 L41.5,194.1 L42.0,194.1 L42.5,194.1 L43.0,194.1 L43.5,194.1 L44.0,194.1 L44.5,194.1 L45.0,194.1 L45.5,194.1 L46.0,194.2 L46.5,194.2 L47.0,194.3 L47.5,194.3 L48.0,194.4 L48.5,194.4 L49.0,194.5 L49.5,194.5 L50.0,194.6 L50.5,194.6 L51.0,194.6 L51.5,194.6 L52.0,194.5 L52.5,194.3 L53.0,193.9 L53.5,193.1 L54.0,192.0 L54.5,190.4 L55.0,188.5 L55.5,186.7 L56.0,186.0 L56.5,186.9 L57.0,188.9 L57.5,191.0 L58.0,192.8 L58.5,194.1 L59.0,195.1 L59.5,195.7 L60.0,196.1 L60.5,196.4 L61.0,196.6 L61.5,196.8 L62.0,197.0 L62.5,197.2 L63.0,197.3 L63.5,197.5 L64.0,197.6 L64.5,197.8 L65.0,198.0 L65.5,198.2 L66.0,198.3 L66.5,198.5 L67.0,198.7 L67.5,198.9 L68.0,199.1 L68.5,199.3 L69.0,199.6 L69.5,199.8 L70.0,200.0 L70.5,200.2 L71.0,200.4 L71.5,200.6 L72.0,200.8 L72.5,201.0 L73.0,201.3 L73.5,201.5 L74.0,201.7 L74.5,201.9 L75.0,202.0 L75.5,202.2 L76.0,202.4 L76.5,202.5 L77.0,202.6 L77.5,202.7 L78.0,202.8 L78.5,202.8 L79.0,202.8 L79.5,202.8 L80.0,202.8 L80.5,202.7 L81.0,202.6 L81.5,202.6 L82.0,202.5 L82.5,202.4 L83.0,202.2 L83.5,202.1 L84.0,202.0 L84.5,201.9 L85.0,201.7 L85.5,201.6 L86.0,201.4 L86.5,201.2 L87.0,201.1 L87.5,200.8 L88.0,200.5 L88.5,200.1 L89.0,199.5 L89.5,198.3 L90.0,196.2 L90.5,193.2 L91.0,189.7 L91.5,187.9 L92.0,189.5 L92.5,192.8 L93.0,195.6 L93.5,197.4 L94.0,198.4 L94.5,198.9 L95.0,199.1 L95.5,199.1 L96.0,199.1 L96.5,199.1 L97.0,199.1 L97.5,199.0 L98.0,199.0 L98.5,198.9 L99.0,198.8 L99.5,198.7 L100.0,198.6 L100.5,198.5 L101.0,198.4 L101.5,198.4 L102.0,198.3 L102.5,198.2 L103.0,198.1 L103.5,198.0 L104.0,198.0 L104.5,198.0 L105.0,197.9 L105.5,197.9 L106.0,197.9 L106.5,197.9 L107.0,197.9 L107.5,197.9 L108.0,197.9 L108.5,197.8 L109.0,197.7 L109.5,197.5 L110.0,197.1 L110.5,196.4 L111.0,195.0 L111.5,192.8 L112.0,189.3 L112.5,184.8 L113.0,180.1 L113.5,177.5 L114.0,178.9 L114.5,183.3 L115.0,188.3 L115.5,192.5 L116.0,195.5 L116.5,197.5 L117.0,198.7 L117.5,199.4 L118.0,199.9 L118.5,200.3 L119.0,200.6 L119.5,200.8 L120.0,200.9 L120.5,201.0 L121.0,201.1 L121.5,201.0 L122.0,200.8 L122.5,200.2 L123.0,198.8 L123.5,195.8 L124.0,191.4 L124.5,187.9 L125.0,189.6 L125.5,194.1 L126.0,197.5 L126.5,199.2 L127.0,199.4 L127.5,198.1 L128.0,194.3 L128.5,186.5 L129.0,174.8 L129.5,165.7 L130.0,170.4 L130.5,182.7 L131.0,192.6 L131.5,198.2 L132.0,200.8 L132.5,201.9 L133.0,202.4 L133.5,202.4 L134.0,201.7 L134.5,200.6 L135.0,200.0 L135.5,201.0 L136.0,202.5 L136.5,203.5 L137.0,204.2 L137.5,204.5 L138.0,204.7 L138.5,204.8 L139.0,204.9 L139.5,205.0 L140.0,205.1 L140.5,205.1 L141.0,205.2 L141.5,205.2 L142.0,205.3 L142.5,205.3 L143.0,205.4 L143.5,205.4 L144.0,205.4 L144.5,205.5 L145.0,205.5 L145.5,205.5 L146.0,205.6 L146.5,205.6 L147.0,205.6 L147.5,205.7 L148.0,205.7 L148.5,205.7 L149.0,205.8 L149.5,205.8 L150.0,205.9 L150.5,205.9 L151.0,205.9 L151.5,206.0 L152.0,206.0 L152.5,206.1 L153.0,206.1 L153.5,206.2 L154.0,206.2 L154.5,206.2 L155.0,206.3 L155.5,206.3 L156.0,206.3 L156.5,206.3 L157.0,206.3 L157.5,206.3 L158.0,206.3 L158.5,206.2 L159.0,206.1 L159.5,205.8 L160.0,205.3 L160.5,204.2 L161.0,202.2 L161.5,199.0 L162.0,195.0 L162.5,192.4 L163.0,193.7 L163.5,197.6 L164.0,201.4 L164.5,204.0 L165.0,205.5 L165.5,206.3 L166.0,206.8 L166.5,207.1 L167.0,207.3 L167.5,207.5 L168.0,207.6 L168.5,207.7 L169.0,207.9 L169.5,208.0 L170.0,208.0 L170.5,208.1 L171.0,208.2 L171.5,208.3 L172.0,208.4 L172.5,208.4 L173.0,208.5 L173.5,208.6 L174.0,208.6 L174.5,208.7 L175.0,208.8 L175.5,208.8 L176.0,208.9 L176.5,209.0 L177.0,209.0 L177.5,209.1 L178.0,209.1 L178.5,209.2 L179.0,209.2 L179.5,209.3 L180.0,209.3 L180.5,209.3 L181.0,209.4 L181.5,209.4 L182.0,209.4 L182.5,209.4 L183.0,209.4 L183.5,209.4 L184.0,209.5 L184.5,209.5 L185.0,209.5 L185.5,209.5 L186.0,209.5 L186.5,209.5 L187.0,209.5 L187.5,209.5 L188.0,209.5 L188.5,209.5 L189.0,209.5 L189.5,209.5 L190.0,209.5 L190.5,209.5 L191.0,209.5 L191.5,209.5 L192.0,209.5 L192.5,209.5 L193.0,209.5 L193.5,209.5 L194.0,209.6 L194.5,209.6 L195.0,209.6 L195.5,209.6 L196.0,209.6 L196.5,209.6 L197.0,209.6 L197.5,209.6 L198.0,209.6 L198.5,209.6 L199.0,209.6 L199.5,209.6 L200.0,209.6 L200.5,209.6 L201.0,209.6 L201.5,209.6 L202.0,209.6 L202.5,209.6 L203.0,209.6 L203.5,209.6 L204.0,209.6 L204.5,209.6 L205.0,209.6 L205.5,209.6 L206.0,209.6 L206.5,209.5 L207.0,209.5 L207.5,209.5 L208.0,209.5 L208.5,209.5 L209.0,209.4 L209.5,209.4 L210.0,209.4 L210.5,209.3 L211.0,209.3 L211.5,209.2 L212.0,209.1 L212.5,208.9 L213.0,208.7 L213.5,208.3 L214.0,207.8 L214.5,206.8 L215.0,205.2 L215.5,202.8 L216.0,199.9 L216.5,197.2 L217.0,195.9 L217.5,197.2 L218.0,200.0 L218.5,202.9 L219.0,205.2 L219.5,206.8 L220.0,207.8 L220.5,208.4 L221.0,208.7 L221.5,209.0 L222.0,209.1 L222.5,209.2 L223.0,209.3 L223.5,209.4 L224.0,209.5 L224.5,209.5 L225.0,209.5 L225.5,209.6 L226.0,209.6 L226.5,209.6 L227.0,209.6 L227.5,209.7 L228.0,209.7 L228.5,209.7 L229.0,209.7 L229.5,209.7 L230.0,209.7 L230.5,209.7 L231.0,209.7 L231.5,209.7 L232.0,209.7 L232.5,209.7 L233.0,209.7 L233.5,209.7 L234.0,209.7 L234.5,209.7 L235.0,209.7 L235.5,209.7 L236.0,209.7 L236.5,209.7 L237.0,209.6 L237.5,209.6 L238.0,209.5 L238.5,209.5 L239.0,209.4 L239.5,209.3 L240.0,209.2 L240.5,209.1 L241.0,208.9 L241.5,208.7 L242.0,208.4 L242.5,208.0 L243.0,207.4 L243.5,206.5 L244.0,204.8 L244.5,201.5 L245.0,195.4 L245.5,185.8 L246.0,174.0 L246.5,166.1 L247.0,169.8 L247.5,181.2 L248.0,192.0 L248.5,199.5 L249.0,203.8 L249.5,206.0 L250.0,207.2 L250.5,207.9 L251.0,208.3 L251.5,208.6 L252.0,208.9 L252.5,209.0 L253.0,209.1 L253.5,209.2 L254.0,209.2 L254.5,209.2 L255.0,209.1 L255.5,208.9 L256.0,208.6 L256.5,207.9 L257.0,206.9 L257.5,205.5 L258.0,203.9 L258.5,202.3 L259.0,201.6 L259.5,202.4 L260.0,204.0 L260.5,205.7 L261.0,207.1 L261.5,208.2 L262.0,208.9 L262.5,209.3 L263.0,209.6 L263.5,209.7 L264.0,209.8 L264.5,209.8 L265.0,209.8 L265.5,209.7 L266.0,209.5 L266.5,208.9 L267.0,208.1 L267.5,207.1 L268.0,206.7 L268.5,207.2 L269.0,208.2 L269.5,209.1 L270.0,209.7 L270.5,210.0 L271.0,210.2 L271.5,210.3 L272.0,210.4 L272.5,210.5 L273.0,210.5 L273.5,210.5 L274.0,210.6 L274.5,210.6 L275.0,210.6 L275.5,210.6 L276.0,210.6 L276.5,210.6 L277.0,210.7 L277.5,210.7 L278.0,210.7 L278.5,210.7 L279.0,210.7 L279.5,210.7 L280.0,210.7 L280.5,210.7 L281.0,210.7 L281.5,210.7 L282.0,210.7 L282.5,210.7 L283.0,210.7 L283.5,210.7 L284.0,210.7 L284.5,210.7 L285.0,210.7 L285.5,210.6 L286.0,210.6 L286.5,210.6 L287.0,210.5 L287.5,210.5 L288.0,210.4 L288.5,210.3 L289.0,210.1 L289.5,209.9 L290.0,209.5 L290.5,209.0 L291.0,208.0 L291.5,206.5 L292.0,204.2 L292.5,201.2 L293.0,198.1 L293.5,196.3 L294.0,197.0 L294.5,199.6 L295.0,202.5 L295.5,204.9 L296.0,206.4 L296.5,207.0 L297.0,206.9 L297.5,205.9 L298.0,203.8 L298.5,200.7 L299.0,196.7 L299.5,192.8 L300.0,191.1 L300.5,192.9 L301.0,196.9 L301.5,201.0 L302.0,204.3 L302.5,206.5 L303.0,207.9 L303.5,208.6 L304.0,209.0 L304.5,209.1 L305.0,209.1 L305.5,209.0 L306.0,208.6 L306.5,208.0 L307.0,206.9 L307.5,204.7 L308.0,200.7 L308.5,194.0 L309.0,184.6 L309.5,174.5 L310.0,169.6 L310.5,174.6 L311.0,184.8 L311.5,194.3 L312.0,201.1 L312.5,205.2 L313.0,207.5 L313.5,208.8 L314.0,209.6 L314.5,210.1 L315.0,210.5 L315.5,210.8 L316.0,211.0 L316.5,211.2 L317.0,211.3 L317.5,211.5 L318.0,211.6 L318.5,211.7 L319.0,211.7 L319.5,211.8 L320.0,211.9 L320.5,211.9 L321.0,212.0 L321.5,212.1 L322.0,212.1 L322.5,212.1 L323.0,212.2 L323.5,212.2 L324.0,212.3 L324.5,212.3 L325.0,212.3 L325.5,212.4 L326.0,212.4 L326.5,212.4 L327.0,212.4 L327.5,212.5 L328.0,212.5 L328.5,212.5 L329.0,212.6 L329.5,212.6 L330.0,212.6 L330.5,212.6 L331.0,212.7 L331.5,212.7 L332.0,212.7 L332.5,212.7 L333.0,212.7 L333.5,212.8 L334.0,212.8 L334.5,212.8 L335.0,212.8 L335.5,212.8 L336.0,212.9 L336.5,212.9" fill="none" stroke="#e5484d" stroke-width="1.8" stroke-linejoin="round"/>
<path d="M27.5,139.9 L28.0,139.9 L28.5,139.9 L29.0,139.9 L29.5,139.8 L30.0,139.8 L30.5,139.8 L31.0,139.8 L31.5,139.7 L32.0,139.7 L32.5,139.7 L33.0,139.6 L33.5,139.6 L34.0,139.6 L34.5,139.6 L35.0,139.5 L35.5,139.5 L36.0,139.5 L36.5,139.4 L37.0,139.4 L37.5,139.4 L38.0,139.3 L38.5,139.3 L39.0,139.3 L39.5,139.3 L40.0,139.2 L40.5,139.2 L41.0,139.2 L41.5,139.1 L42.0,139.1 L42.5,139.1 L43.0,139.1 L43.5,139.1 L44.0,139.1 L44.5,139.1 L45.0,139.1 L45.5,139.2 L46.0,139.2 L46.5,139.2 L47.0,139.3 L47.5,139.4 L48.0,139.4 L48.5,139.5 L49.0,139.5 L49.5,139.6 L50.0,139.7 L50.5,139.7 L51.0,139.7 L51.5,139.7 L52.0,139.7 L52.5,139.5 L53.0,139.2 L53.5,138.6 L54.0,137.7 L54.5,136.5 L55.0,134.9 L55.5,133.5 L56.0,133.0 L56.5,133.7 L57.0,135.3 L57.5,137.1 L58.0,138.5 L58.5,139.6 L59.0,140.4 L59.5,140.9 L60.0,141.3 L60.5,141.5 L61.0,141.7 L61.5,141.9 L62.0,142.1 L62.5,142.2 L63.0,142.4 L63.5,142.5 L64.0,142.7 L64.5,142.8 L65.0,143.0 L65.5,143.2 L66.0,143.3 L66.5,143.5 L67.0,143.7 L67.5,143.9 L68.0,144.0 L68.5,144.2 L69.0,144.4 L69.5,144.6 L70.0,144.8 L70.5,145.0 L71.0,145.2 L71.5,145.4 L72.0,145.6 L72.5,145.8 L73.0,146.0 L73.5,146.2 L74.0,146.3 L74.5,146.5 L75.0,146.7 L75.5,146.8 L76.0,147.0 L76.5,147.1 L77.0,147.2 L77.5,147.3 L78.0,147.3 L78.5,147.4 L79.0,147.4 L79.5,147.4 L80.0,147.3 L80.5,147.3 L81.0,147.2 L81.5,147.2 L82.0,147.1 L82.5,147.0 L83.0,146.9 L83.5,146.8 L84.0,146.6 L84.5,146.5 L85.0,146.4 L85.5,146.2 L86.0,146.0 L86.5,145.8 L87.0,145.5 L87.5,145.1 L88.0,144.4 L88.5,143.2 L89.0,141.1 L89.5,138.2 L90.0,135.0 L90.5,134.0 L91.0,136.0 L91.5,139.0 L92.0,141.5 L92.5,143.0 L93.0,143.8 L93.5,144.2 L94.0,144.3 L94.5,144.4 L95.0,144.4 L95.5,144.4 L96.0,144.3 L96.5,144.3 L97.0,144.2 L97.5,144.2 L98.0,144.1 L98.5,144.0 L99.0,143.9 L99.5,143.8 L100.0,143.7 L100.5,143.6 L101.0,143.5 L101.5,143.4 L102.0,143.3 L102.5,143.2 L103.0,143.2 L103.5,143.1 L104.0,143.0 L104.5,143.0 L105.0,143.0 L105.5,143.0 L106.0,142.9 L106.5,142.9 L107.0,142.9 L107.5,142.9 L108.0,142.8 L108.5,142.7 L109.0,142.4 L109.5,141.9 L110.0,140.9 L110.5,139.2 L111.0,136.7 L111.5,133.3 L112.0,129.8 L112.5,127.9 L113.0,129.0 L113.5,132.3 L114.0,136.2 L114.5,139.4 L115.0,141.7 L115.5,143.2 L116.0,144.1 L116.5,144.7 L117.0,145.1 L117.5,145.4 L118.0,145.6 L118.5,145.8 L119.0,146.0 L119.5,146.1 L120.0,146.2 L120.5,146.1 L121.0,146.0 L121.5,145.6 L122.0,144.5 L122.5,142.2 L123.0,138.8 L123.5,136.2 L124.0,137.5 L124.5,141.0 L125.0,143.7 L125.5,145.0 L126.0,145.2 L126.5,144.2 L127.0,141.2 L127.5,135.1 L128.0,125.9 L128.5,118.8 L129.0,122.5 L129.5,132.2 L130.0,140.1 L130.5,144.5 L131.0,146.6 L131.5,147.5 L132.0,147.9 L132.5,147.7 L133.0,147.0 L133.5,145.9 L134.0,145.3 L134.5,146.2 L135.0,147.7 L135.5,148.9 L136.0,149.5 L136.5,149.9 L137.0,150.1 L137.5,150.2 L138.0,150.3 L138.5,150.4 L139.0,150.5 L139.5,150.6 L140.0,150.7 L140.5,150.8 L141.0,150.8 L141.5,150.9 L142.0,151.0 L142.5,151.0 L143.0,151.1 L143.5,151.2 L144.0,151.2 L144.5,151.3 L145.0,151.3 L145.5,151.4 L146.0,151.4 L146.5,151.5 L147.0,151.5 L147.5,151.6 L148.0,151.6 L148.5,151.7 L149.0,151.7 L149.5,151.8 L150.0,151.8 L150.5,151.8 L151.0,151.9 L151.5,151.9 L152.0,151.9 L152.5,152.0 L153.0,152.0 L153.5,152.0 L154.0,152.0 L154.5,152.0 L155.0,152.0 L155.5,152.0 L156.0,152.0 L156.5,152.0 L157.0,152.0 L157.5,151.9 L158.0,151.8 L158.5,151.5 L159.0,151.1 L159.5,150.3 L160.0,148.7 L160.5,146.2 L161.0,143.1 L161.5,141.0 L162.0,142.0 L162.5,145.1 L163.0,148.0 L163.5,150.0 L164.0,151.2 L164.5,151.8 L165.0,152.2 L165.5,152.4 L166.0,152.5 L166.5,152.7 L167.0,152.8 L167.5,152.8 L168.0,152.9 L168.5,153.0 L169.0,153.0 L169.5,153.1 L170.0,153.1 L170.5,153.2 L171.0,153.2 L171.5,153.3 L172.0,153.3 L172.5,153.4 L173.0,153.4 L173.5,153.5 L174.0,153.5 L174.5,153.5 L175.0,153.6 L175.5,153.6 L176.0,153.6 L176.5,153.7 L177.0,153.7 L177.5,153.7 L178.0,153.8 L178.5,153.8 L179.0,153.8 L179.5,153.9 L180.0,153.9 L180.5,153.9 L181.0,153.9 L181.5,153.9 L182.0,154.0 L182.5,154.0 L183.0,154.0 L183.5,154.0 L184.0,154.0 L184.5,154.0 L185.0,154.0 L185.5,154.0 L186.0,154.1 L186.5,154.1 L187.0,154.1 L187.5,154.1 L188.0,154.1 L188.5,154.1 L189.0,154.1 L189.5,154.1 L190.0,154.1 L190.5,154.1 L191.0,154.2 L191.5,154.2 L192.0,154.2 L192.5,154.2 L193.0,154.2 L193.5,154.2 L194.0,154.2 L194.5,154.2 L195.0,154.2 L195.5,154.2 L196.0,154.2 L196.5,154.2 L197.0,154.3 L197.5,154.3 L198.0,154.3 L198.5,154.3 L199.0,154.3 L199.5,154.3 L200.0,154.3 L200.5,154.3 L201.0,154.3 L201.5,154.3 L202.0,154.3 L202.5,154.3 L203.0,154.3 L203.5,154.3 L204.0,154.3 L204.5,154.3 L205.0,154.3 L205.5,154.3 L206.0,154.3 L206.5,154.3 L207.0,154.3 L207.5,154.3 L208.0,154.3 L208.5,154.3 L209.0,154.3 L209.5,154.2 L210.0,154.2 L210.5,154.2 L211.0,154.1 L211.5,154.0 L212.0,153.9 L212.5,153.7 L213.0,153.4 L213.5,152.9 L214.0,152.1 L214.5,150.7 L215.0,148.8 L215.5,146.6 L216.0,144.6 L216.5,144.0 L217.0,145.3 L217.5,147.5 L218.0,149.7 L218.5,151.4 L219.0,152.6 L219.5,153.3 L220.0,153.7 L220.5,153.9 L221.0,154.1 L221.5,154.2 L222.0,154.3 L222.5,154.4 L223.0,154.4 L223.5,154.5 L224.0,154.5 L224.5,154.6 L225.0,154.6 L225.5,154.6 L226.0,154.6 L226.5,154.7 L227.0,154.7 L227.5,154.7 L228.0,154.7 L228.5,154.7 L229.0,154.7 L229.5,154.7 L230.0,154.7 L230.5,154.7 L231.0,154.7 L231.5,154.7 L232.0,154.7 L232.5,154.7 L233.0,154.7 L233.5,154.7 L234.0,154.7 L234.5,154.7 L235.0,154.7 L235.5,154.7 L236.0,154.6 L236.5,154.6 L237.0,154.6 L237.5,154.5 L238.0,154.5 L238.5,154.4 L239.0,154.3 L239.5,154.2 L240.0,154.0 L240.5,153.8 L241.0,153.5 L241.5,153.1 L242.0,152.6 L242.5,151.7 L243.0,150.0 L243.5,146.9 L244.0,141.1 L244.5,131.9 L245.0,120.6 L245.5,113.1 L246.0,116.7 L246.5,127.5 L247.0,137.9 L247.5,145.0 L248.0,149.1 L248.5,151.2 L249.0,152.3 L249.5,153.0 L250.0,153.4 L250.5,153.7 L251.0,153.9 L251.5,154.1 L252.0,154.2 L252.5,154.3 L253.0,154.3 L253.5,154.3 L254.0,154.2 L254.5,154.1 L255.0,153.8 L255.5,153.2 L256.0,152.3 L256.5,151.1 L257.0,149.6 L257.5,148.3 L258.0,147.7 L258.5,148.3 L259.0,149.7 L259.5,151.2 L260.0,152.5 L260.5,153.4 L261.0,154.1 L261.5,154.4 L262.0,154.7 L262.5,154.8 L263.0,154.9 L263.5,154.9 L264.0,154.9 L264.5,154.8 L265.0,154.5 L265.5,154.0 L266.0,153.1 L266.5,152.2 L267.0,151.7 L267.5,152.2 L268.0,153.2 L268.5,154.1 L269.0,154.7 L269.5,155.1 L270.0,155.2 L270.5,155.3 L271.0,155.4 L271.5,155.5 L272.0,155.5 L272.5,155.5 L273.0,155.6 L273.5,155.6 L274.0,155.6 L274.5,155.6 L275.0,155.6 L275.5,155.7 L276.0,155.7 L276.5,155.7 L277.0,155.7 L277.5,155.7 L278.0,155.7 L278.5,155.7 L279.0,155.7 L279.5,155.7 L280.0,155.7 L280.5,155.8 L281.0,155.8 L281.5,155.8 L282.0,155.8 L282.5,155.8 L283.0,155.8 L283.5,155.8 L284.0,155.7 L284.5,155.7 L285.0,155.7 L285.5,155.7 L286.0,155.7 L286.5,155.6 L287.0,155.6 L287.5,155.5 L288.0,155.4 L288.5,155.3 L289.0,155.1 L289.5,154.8 L290.0,154.3 L290.5,153.5 L291.0,152.1 L291.5,150.2 L292.0,147.7 L292.5,145.4 L293.0,144.3 L293.5,145.2 L294.0,147.4 L294.5,149.6 L295.0,151.3 L295.5,152.2 L296.0,152.4 L296.5,151.8 L297.0,150.2 L297.5,147.8 L298.0,144.6 L298.5,141.6 L299.0,140.2 L299.5,141.7 L300.0,144.8 L300.5,148.1 L301.0,150.7 L301.5,152.5 L302.0,153.6 L302.5,154.2 L303.0,154.5 L303.5,154.6 L304.0,154.6 L304.5,154.5 L305.0,154.2 L305.5,153.7 L306.0,152.8 L306.5,151.1 L307.0,147.8 L307.5,142.4 L308.0,134.8 L308.5,126.6 L309.0,122.7 L309.5,126.7 L310.0,135.0 L310.5,142.7 L311.0,148.2 L311.5,151.5 L312.0,153.4 L312.5,154.4 L313.0,155.0 L313.5,155.5 L314.0,155.8 L314.5,156.0 L315.0,156.2 L315.5,156.3 L316.0,156.5 L316.5,156.6 L317.0,156.7 L317.5,156.8 L318.0,156.8 L318.5,156.9 L319.0,157.0 L319.5,157.0 L320.0,157.1 L320.5,157.1 L321.0,157.1 L321.5,157.2 L322.0,157.2 L322.5,157.2 L323.0,157.3 L323.5,157.3 L324.0,157.3 L324.5,157.4 L325.0,157.4 L325.5,157.4 L326.0,157.5 L326.5,157.5 L327.0,157.5 L327.5,157.5 L328.0,157.6 L328.5,157.6 L329.0,157.6 L329.5,157.6 L330.0,157.6 L330.5,157.7 L331.0,157.7 L331.5,157.7 L332.0,157.7 L332.5,157.8 L333.0,157.8 L333.5,157.8 L334.0,157.8 L334.5,157.8 L335.0,157.8 L335.5,157.9 L336.0,157.9 L336.5,157.9" fill="none" stroke="#7d1616" stroke-width="1.8" stroke-linejoin="round"/>
<circle cx="56.0" cy="160" r="4.6" fill="#fff" stroke="#666" stroke-width="1.2"/>
<circle cx="112.6" cy="160" r="4.6" fill="#fff" stroke="#666" stroke-width="1.2"/>
<circle cx="129.0" cy="160" r="4.6" fill="#fff" stroke="#666" stroke-width="1.2"/>
<circle cx="162.0" cy="160" r="4.6" fill="#fff" stroke="#666" stroke-width="1.2"/>
<circle cx="216.6" cy="160" r="4.6" fill="#fff" stroke="#666" stroke-width="1.2"/>
<circle cx="245.6" cy="160" r="4.6" fill="#fff" stroke="#666" stroke-width="1.2"/>
<circle cx="299.6" cy="160" r="4.6" fill="#fff" stroke="#666" stroke-width="1.2"/>
<circle cx="310.0" cy="160" r="4.6" fill="#fff" stroke="#666" stroke-width="1.2"/>
<rect x="85.5" y="112.5" width="9" height="9" fill="#fff" stroke="#666" stroke-width="1.2"/>
<rect x="118.5" y="112.5" width="9" height="9" fill="#fff" stroke="#666" stroke-width="1.2"/>
<rect x="165.9" y="112.5" width="9" height="9" fill="#fff" stroke="#666" stroke-width="1.2"/>
<rect x="230.5" y="112.5" width="9" height="9" fill="#fff" stroke="#666" stroke-width="1.2"/>
<rect x="252.1" y="112.5" width="9" height="9" fill="#fff" stroke="#666" stroke-width="1.2"/>
<rect x="286.5" y="112.5" width="9" height="9" fill="#fff" stroke="#666" stroke-width="1.2"/>
<path d="M54.0,401 L60.0,407 L54.0,413 L48.0,407 Z" fill="#000"/>
<path d="M110.7,401 L116.7,407 L110.7,413 L104.7,407 Z" fill="#000"/>
<path d="M125.7,401 L131.7,407 L125.7,413 L119.7,407 Z" fill="#000"/>
<path d="M148.7,401 L154.7,407 L148.7,413 L142.7,407 Z" fill="#000"/>
<path d="M158.7,401 L164.7,407 L158.7,413 L152.7,407 Z" fill="#000"/>
<path d="M175.0,401 L181.0,407 L175.0,413 L169.0,407 Z" fill="#000"/>
<path d="M212.0,401 L218.0,407 L212.0,413 L206.0,407 Z" fill="#000"/>
<path d="M241.3,401 L247.3,407 L241.3,413 L235.3,407 Z" fill="#000"/>
<path d="M262.6,401 L268.6,407 L262.6,413 L256.6,407 Z" fill="#000"/>
<path d="M293.4,401 L299.4,407 L293.4,413 L287.4,407 Z" fill="#000"/>
<path d="M303.4,401 L309.4,407 L303.4,413 L297.4,407 Z" fill="#000"/>
<circle cx="180" cy="373.5" r="5" fill="#000"/>
<circle cx="306" cy="374.4" r="5" fill="#000"/>
<circle cx="41" cy="28" r="4.3" fill="#fff" stroke="#555" stroke-width="1.1"/>
<rect x="37" y="44" width="8" height="8" fill="#fff" stroke="#555" stroke-width="1.1"/>
<path d="M41,63 L47,69 L41,75 L35,69 Z" fill="#000"/>
<circle cx="41" cy="90" r="5" fill="#000"/>
<text x="55" y="33" class="sb" font-size="13">Cr<tspan font-size="9" dy="3">2</tspan><tspan dy="-3">O</tspan><tspan font-size="9" dy="3">3</tspan></text>
<text x="55" y="53" class="sb" font-size="13">FeCr<tspan font-size="9" dy="3">2</tspan><tspan dy="-3">O</tspan><tspan font-size="9" dy="3">4</tspan></text>
<text x="55" y="74" class="sb" font-size="13">(Fe,Cr)<tspan font-size="9" dy="3">2</tspan><tspan dy="-3">O</tspan><tspan font-size="9" dy="3">3</tspan></text>
<text x="55" y="95" class="sb" font-size="13">Fe</text>
<text x="5" y="68" class="sb" font-size="28">a</text>
<text transform="translate(14.7,275.2) rotate(-90)" class="sb" font-size="21" text-anchor="middle">Intensity(a.u.)</text>
<text x="338" y="163" class="s" font-size="16">700°C</text>
<text x="338" y="218" class="s" font-size="16">650°C</text>
<text x="338" y="263" class="s" font-size="16">600°C</text>
<text x="338" y="326" class="s" font-size="16">500°C</text>
<text x="338" y="561" class="s" font-size="16">Fresh</text>
<text x="338" y="413" class="s" font-size="16">H<tspan font-size="11" dy="3">2</tspan></text>
<defs><filter id="blur1" x="-20%" y="-20%" width="140%" height="140%"><feGaussianBlur stdDeviation="0.55"/></filter><filter id="blur3" x="-50%" y="-50%" width="200%" height="200%"><feGaussianBlur stdDeviation="2.5"/></filter></defs>
<clipPath id="clipb"><rect x="396.0" y="12.5" width="235.7" height="191.5"/></clipPath>
<radialGradient id="bgb" gradientUnits="userSpaceOnUse" cx="513.5" cy="203.0" r="300"><stop offset="0.000" stop-color="#d03080"/><stop offset="0.030" stop-color="#a030b0"/><stop offset="0.070" stop-color="#4a28e0"/><stop offset="0.150" stop-color="#3024e0"/><stop offset="0.220" stop-color="#2420d0"/><stop offset="0.300" stop-color="#1a18b0"/><stop offset="0.380" stop-color="#10108c"/><stop offset="0.450" stop-color="#0a0a64"/><stop offset="0.520" stop-color="#05053e"/><stop offset="0.620" stop-color="#020224"/><stop offset="1.000" stop-color="#010116"/></radialGradient>
<g clip-path="url(#clipb)">
<rect x="396.0" y="12.5" width="235.7" height="191.5" fill="url(#bgb)"/>
<g filter="url(#blur1)">
<circle cx="513.5" cy="203.0" r="150.0" fill="none" stroke="#3a34f0" stroke-width="1.5" opacity="0.45"/>
<circle cx="513.5" cy="203.0" r="158.0" fill="none" stroke="#3a34f0" stroke-width="1.5" opacity="0.30"/>
<circle cx="513.5" cy="203.0" r="168.0" fill="none" stroke="#3a34f0" stroke-width="1.5" opacity="0.40"/>
<circle cx="513.5" cy="203.0" r="180.0" fill="none" stroke="#3a34f0" stroke-width="1.5" opacity="0.32"/>
<circle cx="513.5" cy="203.0" r="192.0" fill="none" stroke="#3a34f0" stroke-width="1.5" opacity="0.30"/>
<circle cx="513.5" cy="203.0" r="205.0" fill="none" stroke="#3a34f0" stroke-width="1.5" opacity="0.25"/>
<circle cx="513.5" cy="203.0" r="218.0" fill="none" stroke="#3a34f0" stroke-width="1.5" opacity="0.25"/>
<circle cx="513.5" cy="203.0" r="232.0" fill="none" stroke="#3a34f0" stroke-width="1.5" opacity="0.22"/>
<circle cx="513.5" cy="203.0" r="246.0" fill="none" stroke="#3a34f0" stroke-width="1.5" opacity="0.20"/>
<circle cx="513.5" cy="203.0" r="260.0" fill="none" stroke="#3a34f0" stroke-width="1.5" opacity="0.18"/>
<circle cx="513.5" cy="203.0" r="48.4" fill="none" stroke="#ff6a80" stroke-width="1.7" opacity="1.00"/>
<circle cx="513.5" cy="203.0" r="66.4" fill="none" stroke="#ffa0d0" stroke-width="1.8" opacity="1.00"/>
<circle cx="513.5" cy="203.0" r="73.0" fill="none" stroke="#ffb0d8" stroke-width="1.8" opacity="1.00"/>
<circle cx="513.5" cy="203.0" r="84.5" fill="none" stroke="#9040e0" stroke-width="1.5" opacity="0.80"/>
<circle cx="513.5" cy="203.0" r="101.3" fill="none" stroke="#9a3ee0" stroke-width="1.5" opacity="0.80"/>
<circle cx="513.5" cy="203.0" r="113.0" fill="none" stroke="#ffc0e0" stroke-width="1.9" opacity="1.00"/>
<circle cx="513.5" cy="203.0" r="128.5" fill="none" stroke="#5a38f0" stroke-width="1.6" opacity="0.80"/>
<circle cx="513.5" cy="203.0" r="135.4" fill="none" stroke="#c040d8" stroke-width="1.9" opacity="0.95"/>
</g>
<circle cx="513.5" cy="199.0" r="13" fill="#d02870" opacity="0.6" filter="url(#blur3)"/><circle cx="513.5" cy="197.0" r="5" fill="#ff9030" filter="url(#blur3)"/><ellipse cx="513.5" cy="197.0" rx="3" ry="2.5" fill="#fff080"/><circle cx="513.5" cy="203.0" r="4.5" fill="#000"/>
<rect x="396.0" y="44.2" width="235.7" height="2.6" fill="#000" opacity="0.92"/>
<rect x="396.0" y="77.5" width="235.7" height="2.6" fill="#000" opacity="0.92"/>
<rect x="396.0" y="112.0" width="235.7" height="2.6" fill="#000" opacity="0.92"/>
<rect x="396.0" y="145.7" width="235.7" height="2.6" fill="#000" opacity="0.92"/>
<rect x="396.0" y="180.0" width="235.7" height="2.6" fill="#000" opacity="0.92"/>
<rect x="474.0" y="12.5" width="1.4" height="191.5" fill="#000" opacity="0.55"/>
<rect x="552.6" y="12.5" width="1.4" height="191.5" fill="#000" opacity="0.55"/>
</g>
<text x="399.5" y="31.5" class="s" font-size="17" style="fill:#e8e8f8">b</text>
<clipPath id="clipc"><rect x="396.0" y="209.5" width="235.7" height="189.0"/></clipPath>
<radialGradient id="bgc" gradientUnits="userSpaceOnUse" cx="513.5" cy="396.5" r="300"><stop offset="0.000" stop-color="#e83898"/><stop offset="0.080" stop-color="#d82c98"/><stop offset="0.160" stop-color="#b024a8"/><stop offset="0.240" stop-color="#7020b8"/><stop offset="0.320" stop-color="#4020c0"/><stop offset="0.400" stop-color="#2418b0"/><stop offset="0.460" stop-color="#181494"/><stop offset="0.520" stop-color="#0e0e78"/><stop offset="0.580" stop-color="#080858"/><stop offset="0.640" stop-color="#040438"/><stop offset="0.750" stop-color="#020224"/><stop offset="1.000" stop-color="#010116"/></radialGradient>
<g clip-path="url(#clipc)">
<rect x="396.0" y="209.5" width="235.7" height="189.0" fill="url(#bgc)"/>
<g filter="url(#blur1)">
<circle cx="513.5" cy="396.5" r="150.0" fill="none" stroke="#4a38f0" stroke-width="1.6" opacity="0.50"/>
<circle cx="513.5" cy="396.5" r="160.0" fill="none" stroke="#4a38f0" stroke-width="1.6" opacity="0.35"/>
<circle cx="513.5" cy="396.5" r="172.0" fill="none" stroke="#4a38f0" stroke-width="1.6" opacity="0.40"/>
<circle cx="513.5" cy="396.5" r="185.0" fill="none" stroke="#4a38f0" stroke-width="1.6" opacity="0.30"/>
<circle cx="513.5" cy="396.5" r="198.0" fill="none" stroke="#4a38f0" stroke-width="1.6" opacity="0.28"/>
<circle cx="513.5" cy="396.5" r="212.0" fill="none" stroke="#4a38f0" stroke-width="1.6" opacity="0.25"/>
<circle cx="513.5" cy="396.5" r="226.0" fill="none" stroke="#4a38f0" stroke-width="1.6" opacity="0.22"/>
<circle cx="513.5" cy="396.5" r="240.0" fill="none" stroke="#4a38f0" stroke-width="1.6" opacity="0.20"/>
<circle cx="513.5" cy="396.5" r="254.0" fill="none" stroke="#4a38f0" stroke-width="1.6" opacity="0.18"/>
<circle cx="513.5" cy="396.5" r="268.0" fill="none" stroke="#4a38f0" stroke-width="1.6" opacity="0.16"/>
<circle cx="513.5" cy="396.5" r="31.0" fill="none" stroke="#e040a0" stroke-width="2.5" opacity="0.35"/>
<circle cx="513.5" cy="396.5" r="47.0" fill="none" stroke="#ff7060" stroke-width="1.8" opacity="1.00"/>
<circle cx="513.5" cy="396.5" r="65.0" fill="none" stroke="#ffe0a0" stroke-width="2.0" opacity="1.00"/>
<circle cx="513.5" cy="396.5" r="72.0" fill="none" stroke="#ffe8b0" stroke-width="2.0" opacity="1.00"/>
<circle cx="513.5" cy="396.5" r="81.5" fill="none" stroke="#f0a0e0" stroke-width="1.5" opacity="0.85"/>
<circle cx="513.5" cy="396.5" r="88.0" fill="none" stroke="#ff60c0" stroke-width="1.5" opacity="0.80"/>
<circle cx="513.5" cy="396.5" r="101.0" fill="none" stroke="#ff60c0" stroke-width="1.6" opacity="0.90"/>
<circle cx="513.5" cy="396.5" r="109.0" fill="none" stroke="#ff70c8" stroke-width="1.6" opacity="0.95"/>
<circle cx="513.5" cy="396.5" r="112.0" fill="none" stroke="#ffd0f0" stroke-width="1.8" opacity="1.00"/>
<circle cx="513.5" cy="396.5" r="132.0" fill="none" stroke="#ff50b0" stroke-width="1.7" opacity="0.95"/>
<circle cx="513.5" cy="396.5" r="135.5" fill="none" stroke="#ffc8e8" stroke-width="1.8" opacity="1.00"/>
<circle cx="513.5" cy="396.5" r="155.0" fill="none" stroke="#c040c0" stroke-width="1.5" opacity="0.60"/>
</g>
<circle cx="513.5" cy="396.5" r="12" fill="none" stroke="#ff9060" stroke-width="1.8" filter="url(#blur1)"/><circle cx="513.5" cy="396.5" r="6" fill="none" stroke="#ffe070" stroke-width="1.5" filter="url(#blur1)"/><circle cx="513.5" cy="396.5" r="4.2" fill="#000"/>
<rect x="396.0" y="243.1" width="235.7" height="2.6" fill="#000" opacity="0.92"/>
<rect x="396.0" y="274.7" width="235.7" height="2.6" fill="#000" opacity="0.92"/>
<rect x="396.0" y="308.2" width="235.7" height="2.6" fill="#000" opacity="0.92"/>
<rect x="396.0" y="340.7" width="235.7" height="2.6" fill="#000" opacity="0.92"/>
<rect x="396.0" y="373.9" width="235.7" height="2.6" fill="#000" opacity="0.92"/>
<rect x="474.0" y="209.5" width="1.4" height="189.0" fill="#000" opacity="0.55"/>
<rect x="552.6" y="209.5" width="1.4" height="189.0" fill="#000" opacity="0.55"/>
</g>
<text x="401" y="231" class="sb" font-size="16" style="fill:#e8e8f8">c</text><text x="574.5" y="294.5" class="s" font-size="13.5" textLength="47" lengthAdjust="spacingAndGlyphs" style="fill:#eeeeff">Fe (110)</text><line x1="572.5" y1="295.0" x2="562.6" y2="313.6" stroke="#ffe000" stroke-width="2.1"/><path d="M560.0,318.5 L566.1,313.8 L560.5,310.8 Z" fill="#ffe000"/>
<clipPath id="clipd"><rect x="397.0" y="403.5" width="234.0" height="195.0"/></clipPath>
<radialGradient id="bgd" gradientUnits="userSpaceOnUse" cx="513.0" cy="597.0" r="300"><stop offset="0.000" stop-color="#e03090"/><stop offset="0.050" stop-color="#c82898"/><stop offset="0.100" stop-color="#9020a8"/><stop offset="0.170" stop-color="#5a1cb0"/><stop offset="0.240" stop-color="#3018b8"/><stop offset="0.300" stop-color="#2020bc"/><stop offset="0.360" stop-color="#1818a4"/><stop offset="0.420" stop-color="#101084"/><stop offset="0.500" stop-color="#080856"/><stop offset="0.560" stop-color="#040434"/><stop offset="0.640" stop-color="#01011a"/><stop offset="1.000" stop-color="#00000a"/></radialGradient>
<g clip-path="url(#clipd)">
<rect x="397.0" y="403.5" width="234.0" height="195.0" fill="url(#bgd)"/>
<g filter="url(#blur1)">
<circle cx="513.0" cy="597.0" r="150.0" fill="none" stroke="#2a2ae0" stroke-width="1.5" opacity="0.40"/>
<circle cx="513.0" cy="597.0" r="162.0" fill="none" stroke="#2a2ae0" stroke-width="1.5" opacity="0.28"/>
<circle cx="513.0" cy="597.0" r="176.0" fill="none" stroke="#2a2ae0" stroke-width="1.5" opacity="0.32"/>
<circle cx="513.0" cy="597.0" r="190.0" fill="none" stroke="#2a2ae0" stroke-width="1.5" opacity="0.28"/>
<circle cx="513.0" cy="597.0" r="204.0" fill="none" stroke="#2a2ae0" stroke-width="1.5" opacity="0.28"/>
<circle cx="513.0" cy="597.0" r="218.0" fill="none" stroke="#2a2ae0" stroke-width="1.5" opacity="0.25"/>
<circle cx="513.0" cy="597.0" r="232.0" fill="none" stroke="#2a2ae0" stroke-width="1.5" opacity="0.22"/>
<circle cx="513.0" cy="597.0" r="246.0" fill="none" stroke="#2a2ae0" stroke-width="1.5" opacity="0.20"/>
<circle cx="513.0" cy="597.0" r="45.0" fill="none" stroke="#ff68a8" stroke-width="1.5" opacity="0.80"/>
<circle cx="513.0" cy="597.0" r="65.0" fill="none" stroke="#f070b8" stroke-width="1.5" opacity="0.85"/>
<circle cx="513.0" cy="597.0" r="71.7" fill="none" stroke="#ffa8d8" stroke-width="1.6" opacity="0.95"/>
<circle cx="513.0" cy="597.0" r="84.0" fill="none" stroke="#8a60e8" stroke-width="1.5" opacity="0.75"/>
<circle cx="513.0" cy="597.0" r="101.0" fill="none" stroke="#6a40e0" stroke-width="1.4" opacity="0.70"/>
<circle cx="513.0" cy="597.0" r="111.7" fill="none" stroke="#d0a8f0" stroke-width="1.6" opacity="0.85"/>
<circle cx="513.0" cy="597.0" r="132.5" fill="none" stroke="#a838d0" stroke-width="1.6" opacity="0.85"/>
<circle cx="513.0" cy="597.0" r="127.0" fill="none" stroke="#3a30d0" stroke-width="1.3" opacity="0.50"/>
</g>
<circle cx="513.0" cy="597.0" r="11" fill="none" stroke="#ff8060" stroke-width="1.8" filter="url(#blur1)"/><circle cx="513.0" cy="597.0" r="5.5" fill="none" stroke="#ffe070" stroke-width="1.6" filter="url(#blur1)"/><circle cx="513.0" cy="597.5" r="4.2" fill="#000"/>
<rect x="397.0" y="441.9" width="234.0" height="2.2" fill="#000" opacity="0.92"/>
<rect x="397.0" y="475.4" width="234.0" height="2.2" fill="#000" opacity="0.92"/>
<rect x="397.0" y="508.8" width="234.0" height="2.2" fill="#000" opacity="0.92"/>
<rect x="397.0" y="541.6" width="234.0" height="2.2" fill="#000" opacity="0.92"/>
<rect x="397.0" y="574.9" width="234.0" height="2.2" fill="#000" opacity="0.92"/>
<rect x="473.7" y="403.5" width="1.4" height="195.0" fill="#000" opacity="0.55"/>
<rect x="550.5" y="403.5" width="1.4" height="195.0" fill="#000" opacity="0.55"/>
</g>
<text x="400" y="422" class="s" font-size="17" style="fill:#d8d8e8">d</text><text x="541" y="521.5" class="s" font-size="13.5" style="fill:#f4f4ff">FeCr<tspan font-size="10" dy="3">2</tspan><tspan dy="-3">O</tspan><tspan font-size="10" dy="3">4</tspan></text><line x1="551.0" y1="508.0" x2="545.5" y2="489.0" stroke="#ffe000" stroke-width="2.1"/><path d="M544.0,484.0 L543.0,491.1 L548.6,489.4 Z" fill="#ffe000"/><line x1="569.0" y1="508.0" x2="572.2" y2="488.1" stroke="#ffe000" stroke-width="2.1"/><path d="M573.0,483.0 L569.1,489.0 L574.9,489.9 Z" fill="#ffe000"/><line x1="538.0" y1="515.0" x2="521.1" y2="523.6" stroke="#ffe000" stroke-width="2.1"/><path d="M516.5,526.0 L523.6,525.6 L521.0,520.4 Z" fill="#ffe000"/><line x1="556.0" y1="526.0" x2="548.4" y2="540.9" stroke="#ffe000" stroke-width="2.1"/><path d="M546.0,545.5 L551.6,541.1 L546.4,538.4 Z" fill="#ffe000"/>
<rect x="668.0" y="23.0" width="281.5" height="231.3" fill="none" stroke="#555" stroke-width="1.3"/>
<line x1="668.0" y1="254.3" x2="668.0" y2="258.3" stroke="#555" stroke-width="1.2"/>
<line x1="708.2" y1="254.3" x2="708.2" y2="258.3" stroke="#555" stroke-width="1.2"/>
<line x1="748.4" y1="254.3" x2="748.4" y2="258.3" stroke="#555" stroke-width="1.2"/>
<line x1="788.6" y1="254.3" x2="788.6" y2="258.3" stroke="#555" stroke-width="1.2"/>
<line x1="828.9" y1="254.3" x2="828.9" y2="258.3" stroke="#555" stroke-width="1.2"/>
<line x1="869.1" y1="254.3" x2="869.1" y2="258.3" stroke="#555" stroke-width="1.2"/>
<line x1="909.3" y1="254.3" x2="909.3" y2="258.3" stroke="#555" stroke-width="1.2"/>
<line x1="949.5" y1="254.3" x2="949.5" y2="258.3" stroke="#555" stroke-width="1.2"/>
<line x1="688.1" y1="254.3" x2="688.1" y2="256.8" stroke="#555" stroke-width="1.2"/>
<line x1="728.3" y1="254.3" x2="728.3" y2="256.8" stroke="#555" stroke-width="1.2"/>
<line x1="768.5" y1="254.3" x2="768.5" y2="256.8" stroke="#555" stroke-width="1.2"/>
<line x1="808.8" y1="254.3" x2="808.8" y2="256.8" stroke="#555" stroke-width="1.2"/>
<line x1="849.0" y1="254.3" x2="849.0" y2="256.8" stroke="#555" stroke-width="1.2"/>
<line x1="889.2" y1="254.3" x2="889.2" y2="256.8" stroke="#555" stroke-width="1.2"/>
<line x1="929.4" y1="254.3" x2="929.4" y2="256.8" stroke="#555" stroke-width="1.2"/>
<text x="668.0" y="272.0" class="sb" font-size="11.5" text-anchor="middle" style="fill:#222">5970</text>
<text x="708.2" y="272.0" class="sb" font-size="11.5" text-anchor="middle" style="fill:#222">5980</text>
<text x="748.4" y="272.0" class="sb" font-size="11.5" text-anchor="middle" style="fill:#222">5990</text>
<text x="788.6" y="272.0" class="sb" font-size="11.5" text-anchor="middle" style="fill:#222">6000</text>
<text x="828.9" y="272.0" class="sb" font-size="11.5" text-anchor="middle" style="fill:#222">6010</text>
<text x="869.1" y="272.0" class="sb" font-size="11.5" text-anchor="middle" style="fill:#222">6020</text>
<text x="909.3" y="272.0" class="sb" font-size="11.5" text-anchor="middle" style="fill:#222">6030</text>
<text x="949.5" y="272.0" class="sb" font-size="11.5" text-anchor="middle" style="fill:#222">6040</text>
<text x="816.2" y="292.5" class="sb" font-size="14" text-anchor="middle">Energy(eV)</text>
<text transform="translate(657.8,137.3) rotate(-90)" class="sb" font-size="15.3" text-anchor="middle">Normalized Absorption</text>
<text x="646" y="41" class="sb" font-size="30">e</text>
<line x1="671" y1="33.0" x2="692.7" y2="33.0" stroke="#333" stroke-width="1.6"/>
<line x1="671" y1="50.3" x2="692.7" y2="50.3" stroke="#3a3ad0" stroke-width="1.6"/>
<line x1="671" y1="65.0" x2="692.7" y2="65.0" stroke="#e04848" stroke-width="1.6"/>
<text x="698" y="37.5" class="s" font-size="11.5" style="fill:#333">Cr<tspan font-size="8" dy="2.5">2</tspan><tspan dy="-2.5">O</tspan><tspan font-size="8" dy="2.5">3</tspan></text>
<text x="698" y="54.5" class="s" font-size="11.5" textLength="34" lengthAdjust="spacingAndGlyphs" style="fill:#333">Cr-used</text>
<text x="698" y="69.5" class="s" font-size="11.5" textLength="48" lengthAdjust="spacingAndGlyphs" style="fill:#333">Cr-Fe-used</text>
<path d="M668.5,239.3 L669.5,239.3 L670.5,239.3 L671.5,239.3 L672.5,239.3 L673.5,239.3 L674.5,239.2 L675.5,239.2 L676.5,239.2 L677.5,239.2 L678.5,239.2 L679.5,239.2 L680.5,239.2 L681.5,239.2 L682.5,239.2 L683.5,239.2 L684.5,239.2 L685.5,239.1 L686.5,239.1 L687.5,239.1 L688.5,239.1 L689.5,239.1 L690.5,239.1 L691.5,239.1 L692.5,239.1 L693.5,239.1 L694.5,239.1 L695.5,239.1 L696.5,239.0 L697.5,239.0 L698.5,239.0 L699.5,239.0 L700.5,239.0 L701.5,239.0 L702.5,239.0 L703.5,239.0 L704.5,238.9 L705.5,238.9 L706.5,238.9 L707.5,238.9 L708.5,238.9 L709.5,238.9 L710.5,238.9 L711.5,238.9 L712.5,238.8 L713.5,238.8 L714.5,238.8 L715.5,238.8 L716.5,238.8 L717.5,238.8 L718.5,238.7 L719.5,238.7 L720.5,238.7 L721.5,238.7 L722.5,238.7 L723.5,238.6 L724.5,238.6 L725.5,238.6 L726.5,238.6 L727.5,238.6 L728.5,238.5 L729.5,238.5 L730.5,238.5 L731.5,238.5 L732.5,238.4 L733.5,238.4 L734.5,238.4 L735.5,238.4 L736.5,238.3 L737.5,238.3 L738.5,238.2 L739.5,238.2 L740.5,238.1 L741.5,238.0 L742.5,237.9 L743.5,237.7 L744.5,237.4 L745.5,237.0 L746.5,236.5 L747.5,236.0 L748.5,235.3 L749.5,234.8 L750.5,234.7 L751.5,235.0 L752.5,235.5 L753.5,235.8 L754.5,235.8 L755.5,235.6 L756.5,235.3 L757.5,235.0 L758.5,234.6 L759.5,234.1 L760.5,233.4 L761.5,232.7 L762.5,232.1 L763.5,231.6 L764.5,231.3 L765.5,231.3 L766.5,231.2 L767.5,231.2 L768.5,231.2 L769.5,231.1 L770.5,231.0 L771.5,230.7 L772.5,230.3 L773.5,229.7 L774.5,229.1 L775.5,228.5 L776.5,227.7 L777.5,226.9 L778.5,225.9 L779.5,224.9 L780.5,223.7 L781.5,222.4 L782.5,220.9 L783.5,218.8 L784.5,216.0 L785.5,212.9 L786.5,209.5 L787.5,206.1 L788.5,203.0 L789.5,200.3 L790.5,198.2 L791.5,196.3 L792.5,194.6 L793.5,193.0 L794.5,191.7 L795.5,190.5 L796.5,189.6 L797.5,188.8 L798.5,187.9 L799.5,186.7 L800.5,185.1 L801.5,182.8 L802.5,180.2 L803.5,177.2 L804.5,173.9 L805.5,170.7 L806.5,167.4 L807.5,164.4 L808.5,161.3 L809.5,157.8 L810.5,154.3 L811.5,151.0 L812.5,148.1 L813.5,145.9 L814.5,144.3 L815.5,142.9 L816.5,141.8 L817.5,141.3 L818.5,141.5 L819.5,142.0 L820.5,142.6 L821.5,143.3 L822.5,143.8 L823.5,143.9 L824.5,143.4 L825.5,142.5 L826.5,141.2 L827.5,139.8 L828.5,138.6 L829.5,137.6 L830.5,136.8 L831.5,136.0 L832.5,135.3 L833.5,134.8 L834.5,134.4 L835.5,134.5 L836.5,135.3 L837.5,136.7 L838.5,138.4 L839.5,140.2 L840.5,142.0 L841.5,143.7 L842.5,145.6 L843.5,147.6 L844.5,149.7 L845.5,151.5 L846.5,152.9 L847.5,153.8 L848.5,154.6 L849.5,155.3 L850.5,155.9 L851.5,156.4 L852.5,156.9 L853.5,157.4 L854.5,157.9 L855.5,158.3 L856.5,158.8 L857.5,159.3 L858.5,159.8 L859.5,160.3 L860.5,160.8 L861.5,161.3 L862.5,161.7 L863.5,162.0 L864.5,162.4 L865.5,162.6 L866.5,162.7 L867.5,162.8 L868.5,162.7 L869.5,162.4 L870.5,162.0 L871.5,161.5 L872.5,161.0 L873.5,160.4 L874.5,159.8 L875.5,159.3 L876.5,158.9 L877.5,158.6 L878.5,158.3 L879.5,158.0 L880.5,157.7 L881.5,157.5 L882.5,157.2 L883.5,157.0 L884.5,156.8 L885.5,156.7 L886.5,156.6 L887.5,156.5 L888.5,156.5 L889.5,156.6 L890.5,156.8 L891.5,157.2 L892.5,157.6 L893.5,158.0 L894.5,158.6 L895.5,159.1 L896.5,159.7 L897.5,160.3 L898.5,160.9 L899.5,161.5 L900.5,162.1 L901.5,162.8 L902.5,163.6 L903.5,164.4 L904.5,165.2 L905.5,166.1 L906.5,167.0 L907.5,167.8 L908.5,168.6 L909.5,169.3 L910.5,170.0 L911.5,170.6 L912.5,171.1 L913.5,171.6 L914.5,172.1 L915.5,172.5 L916.5,173.0 L917.5,173.4 L918.5,173.8 L919.5,174.2 L920.5,174.6 L921.5,174.9 L922.5,175.3 L923.5,175.6 L924.5,175.8 L925.5,176.1 L926.5,176.3 L927.5,176.5 L928.5,176.6 L929.5,176.8 L930.5,176.9 L931.5,177.0 L932.5,177.1 L933.5,177.2 L934.5,177.3 L935.5,177.4 L936.5,177.5 L937.5,177.6 L938.5,177.7 L939.5,177.7 L940.5,177.8 L941.5,177.9 L942.5,178.0 L943.5,178.0 L944.5,178.1 L945.5,178.2 L946.5,178.3 L947.5,178.4 L948.5,178.5 L949.0,178.5" fill="none" stroke="#333" stroke-width="1.7" stroke-linejoin="round" stroke-linecap="round" />
<path d="M668.5,208.0 L669.5,208.0 L670.5,208.0 L671.5,208.0 L672.5,208.0 L673.5,208.0 L674.5,207.9 L675.5,207.9 L676.5,207.9 L677.5,207.9 L678.5,207.9 L679.5,207.9 L680.5,207.9 L681.5,207.9 L682.5,207.9 L683.5,207.9 L684.5,207.9 L685.5,207.8 L686.5,207.8 L687.5,207.8 L688.5,207.8 L689.5,207.8 L690.5,207.8 L691.5,207.8 L692.5,207.8 L693.5,207.8 L694.5,207.8 L695.5,207.8 L696.5,207.7 L697.5,207.7 L698.5,207.7 L699.5,207.7 L700.5,207.7 L701.5,207.7 L702.5,207.7 L703.5,207.7 L704.5,207.6 L705.5,207.6 L706.5,207.6 L707.5,207.6 L708.5,207.6 L709.5,207.6 L710.5,207.6 L711.5,207.6 L712.5,207.5 L713.5,207.5 L714.5,207.5 L715.5,207.5 L716.5,207.5 L717.5,207.5 L718.5,207.4 L719.5,207.4 L720.5,207.4 L721.5,207.4 L722.5,207.4 L723.5,207.3 L724.5,207.3 L725.5,207.3 L726.5,207.3 L727.5,207.3 L728.5,207.2 L729.5,207.2 L730.5,207.2 L731.5,207.2 L732.5,207.1 L733.5,207.1 L734.5,207.1 L735.5,207.1 L736.5,207.0 L737.5,207.0 L738.5,206.9 L739.5,206.9 L740.5,206.8 L741.5,206.7 L742.5,206.6 L743.5,206.4 L744.5,206.1 L745.5,205.7 L746.5,205.2 L747.5,204.7 L748.5,204.0 L749.5,203.5 L750.5,203.4 L751.5,203.7 L752.5,204.2 L753.5,204.5 L754.5,204.5 L755.5,204.3 L756.5,204.0 L757.5,203.7 L758.5,203.3 L759.5,202.8 L760.5,202.1 L761.5,201.4 L762.5,200.8 L763.5,200.3 L764.5,200.0 L765.5,200.0 L766.5,199.9 L767.5,199.9 L768.5,199.9 L769.5,199.8 L770.5,199.8 L771.5,199.7 L772.5,199.5 L773.5,199.4 L774.5,199.1 L775.5,198.5 L776.5,197.6 L777.5,196.4 L778.5,194.9 L779.5,193.2 L780.5,191.4 L781.5,189.5 L782.5,187.6 L783.5,184.9 L784.5,181.6 L785.5,177.9 L786.5,174.1 L787.5,170.5 L788.5,167.4 L789.5,165.1 L790.5,163.9 L791.5,163.0 L792.5,162.3 L793.5,161.7 L794.5,160.9 L795.5,159.8 L796.5,158.6 L797.5,157.1 L798.5,155.4 L799.5,153.6 L800.5,151.4 L801.5,148.8 L802.5,145.8 L803.5,142.6 L804.5,139.3 L805.5,135.9 L806.5,132.7 L807.5,129.6 L808.5,126.4 L809.5,122.8 L810.5,119.2 L811.5,115.9 L812.5,113.3 L813.5,111.8 L814.5,111.3 L815.5,110.9 L816.5,110.7 L817.5,110.6 L818.5,110.8 L819.5,111.3 L820.5,111.9 L821.5,112.6 L822.5,113.1 L823.5,113.2 L824.5,112.8 L825.5,112.0 L826.5,110.9 L827.5,109.8 L828.5,108.8 L829.5,108.1 L830.5,107.8 L831.5,107.4 L832.5,107.2 L833.5,106.9 L834.5,106.8 L835.5,106.9 L836.5,107.9 L837.5,109.5 L838.5,111.4 L839.5,113.4 L840.5,115.1 L841.5,116.5 L842.5,118.0 L843.5,119.5 L844.5,120.8 L845.5,122.0 L846.5,122.9 L847.5,123.6 L848.5,124.1 L849.5,124.5 L850.5,124.9 L851.5,125.3 L852.5,125.6 L853.5,125.9 L854.5,126.3 L855.5,126.7 L856.5,127.2 L857.5,127.8 L858.5,128.3 L859.5,128.9 L860.5,129.5 L861.5,130.1 L862.5,130.7 L863.5,131.2 L864.5,131.6 L865.5,131.9 L866.5,132.1 L867.5,132.2 L868.5,132.1 L869.5,131.8 L870.5,131.4 L871.5,130.8 L872.5,130.2 L873.5,129.6 L874.5,129.0 L875.5,128.5 L876.5,128.1 L877.5,127.9 L878.5,127.7 L879.5,127.5 L880.5,127.3 L881.5,127.1 L882.5,127.0 L883.5,126.8 L884.5,126.7 L885.5,126.6 L886.5,126.5 L887.5,126.5 L888.5,126.5 L889.5,126.6 L890.5,126.9 L891.5,127.3 L892.5,127.8 L893.5,128.4 L894.5,129.1 L895.5,129.8 L896.5,130.4 L897.5,131.1 L898.5,131.8 L899.5,132.4 L900.5,133.0 L901.5,133.7 L902.5,134.4 L903.5,135.1 L904.5,135.9 L905.5,136.6 L906.5,137.3 L907.5,138.1 L908.5,138.8 L909.5,139.4 L910.5,140.0 L911.5,140.5 L912.5,141.0 L913.5,141.4 L914.5,141.9 L915.5,142.3 L916.5,142.7 L917.5,143.1 L918.5,143.5 L919.5,143.9 L920.5,144.2 L921.5,144.5 L922.5,144.8 L923.5,145.1 L924.5,145.4 L925.5,145.7 L926.5,145.9 L927.5,146.1 L928.5,146.2 L929.5,146.4 L930.5,146.5 L931.5,146.7 L932.5,146.8 L933.5,146.9 L934.5,147.1 L935.5,147.2 L936.5,147.3 L937.5,147.4 L938.5,147.5 L939.5,147.6 L940.5,147.7 L941.5,147.8 L942.5,147.9 L943.5,147.9 L944.5,148.0 L945.5,148.1 L946.5,148.2 L947.5,148.3 L948.5,148.4 L949.0,148.5" fill="none" stroke="#3a3ad0" stroke-width="1.7" stroke-linejoin="round" stroke-linecap="round" />
<path d="M668.5,179.0 L669.5,179.0 L670.5,179.0 L671.5,179.0 L672.5,179.0 L673.5,179.0 L674.5,178.9 L675.5,178.9 L676.5,178.9 L677.5,178.9 L678.5,178.9 L679.5,178.9 L680.5,178.9 L681.5,178.9 L682.5,178.9 L683.5,178.9 L684.5,178.9 L685.5,178.8 L686.5,178.8 L687.5,178.8 L688.5,178.8 L689.5,178.8 L690.5,178.8 L691.5,178.8 L692.5,178.8 L693.5,178.8 L694.5,178.8 L695.5,178.8 L696.5,178.7 L697.5,178.7 L698.5,178.7 L699.5,178.7 L700.5,178.7 L701.5,178.7 L702.5,178.7 L703.5,178.7 L704.5,178.6 L705.5,178.6 L706.5,178.6 L707.5,178.6 L708.5,178.6 L709.5,178.6 L710.5,178.6 L711.5,178.6 L712.5,178.5 L713.5,178.5 L714.5,178.5 L715.5,178.5 L716.5,178.5 L717.5,178.5 L718.5,178.4 L719.5,178.4 L720.5,178.4 L721.5,178.4 L722.5,178.4 L723.5,178.3 L724.5,178.3 L725.5,178.3 L726.5,178.3 L727.5,178.3 L728.5,178.2 L729.5,178.2 L730.5,178.2 L731.5,178.2 L732.5,178.1 L733.5,178.1 L734.5,178.1 L735.5,178.1 L736.5,178.0 L737.5,178.0 L738.5,177.9 L739.5,177.9 L740.5,177.8 L741.5,177.7 L742.5,177.6 L743.5,177.4 L744.5,177.1 L745.5,176.7 L746.5,176.2 L747.5,175.7 L748.5,175.0 L749.5,174.5 L750.5,174.4 L751.5,174.7 L752.5,175.2 L753.5,175.5 L754.5,175.5 L755.5,175.3 L756.5,175.0 L757.5,174.7 L758.5,174.3 L759.5,173.8 L760.5,173.1 L761.5,172.4 L762.5,171.8 L763.5,171.3 L764.5,171.0 L765.5,170.9 L766.5,170.9 L767.5,170.8 L768.5,170.8 L769.5,170.8 L770.5,170.8 L771.5,170.8 L772.5,170.8 L773.5,170.8 L774.5,170.8 L775.5,170.4 L776.5,169.7 L777.5,168.7 L778.5,167.4 L779.5,165.9 L780.5,164.2 L781.5,162.5 L782.5,160.7 L783.5,158.2 L784.5,154.9 L785.5,151.2 L786.5,147.2 L787.5,143.4 L788.5,139.9 L789.5,137.1 L790.5,135.1 L791.5,133.4 L792.5,132.0 L793.5,130.7 L794.5,129.5 L795.5,128.3 L796.5,127.2 L797.5,126.0 L798.5,124.8 L799.5,123.4 L800.5,122.0 L801.5,120.5 L802.5,119.1 L803.5,117.5 L804.5,116.0 L805.5,114.3 L806.5,112.5 L807.5,110.6 L808.5,108.4 L809.5,105.9 L810.5,103.2 L811.5,100.4 L812.5,97.8 L813.5,95.4 L814.5,93.4 L815.5,91.3 L816.5,89.3 L817.5,87.4 L818.5,85.6 L819.5,83.9 L820.5,82.4 L821.5,81.2 L822.5,80.1 L823.5,79.0 L824.5,78.0 L825.5,77.0 L826.5,76.2 L827.5,75.5 L828.5,75.1 L829.5,74.9 L830.5,75.1 L831.5,75.6 L832.5,76.4 L833.5,77.3 L834.5,78.4 L835.5,79.7 L836.5,81.6 L837.5,84.1 L838.5,86.8 L839.5,89.3 L840.5,91.3 L841.5,92.8 L842.5,94.2 L843.5,95.6 L844.5,96.7 L845.5,97.7 L846.5,98.4 L847.5,98.8 L848.5,99.1 L849.5,99.3 L850.5,99.5 L851.5,99.7 L852.5,99.9 L853.5,100.0 L854.5,100.1 L855.5,100.3 L856.5,100.4 L857.5,100.5 L858.5,100.6 L859.5,100.8 L860.5,100.9 L861.5,100.9 L862.5,101.0 L863.5,101.1 L864.5,101.1 L865.5,101.1 L866.5,101.0 L867.5,100.8 L868.5,100.6 L869.5,100.3 L870.5,100.0 L871.5,99.7 L872.5,99.4 L873.5,99.1 L874.5,98.9 L875.5,98.7 L876.5,98.6 L877.5,98.6 L878.5,98.6 L879.5,98.6 L880.5,98.6 L881.5,98.6 L882.5,98.6 L883.5,98.6 L884.5,98.6 L885.5,98.6 L886.5,98.6 L887.5,98.6 L888.5,98.6 L889.5,98.7 L890.5,99.0 L891.5,99.4 L892.5,100.0 L893.5,100.5 L894.5,101.2 L895.5,101.9 L896.5,102.6 L897.5,103.2 L898.5,103.9 L899.5,104.5 L900.5,105.1 L901.5,105.7 L902.5,106.3 L903.5,107.0 L904.5,107.7 L905.5,108.3 L906.5,109.0 L907.5,109.7 L908.5,110.3 L909.5,110.9 L910.5,111.5 L911.5,112.0 L912.5,112.5 L913.5,113.0 L914.5,113.5 L915.5,114.0 L916.5,114.5 L917.5,115.0 L918.5,115.5 L919.5,116.0 L920.5,116.5 L921.5,116.9 L922.5,117.3 L923.5,117.6 L924.5,117.9 L925.5,118.2 L926.5,118.3 L927.5,118.5 L928.5,118.6 L929.5,118.6 L930.5,118.7 L931.5,118.8 L932.5,118.8 L933.5,118.9 L934.5,118.9 L935.5,119.0 L936.5,119.0 L937.5,119.1 L938.5,119.1 L939.5,119.1 L940.5,119.2 L941.5,119.2 L942.5,119.3 L943.5,119.3 L944.5,119.3 L945.5,119.4 L946.5,119.4 L947.5,119.4 L948.5,119.5 L949.0,119.5" fill="none" stroke="#e04848" stroke-width="1.7" stroke-linejoin="round" stroke-linecap="round" />
<rect x="669.2" y="315.8" width="285.3" height="233.7" fill="none" stroke="#555" stroke-width="1.3"/>
<line x1="695.1" y1="549.5" x2="695.1" y2="553.5" stroke="#555" stroke-width="1.2"/>
<line x1="747.0" y1="549.5" x2="747.0" y2="553.5" stroke="#555" stroke-width="1.2"/>
<line x1="798.9" y1="549.5" x2="798.9" y2="553.5" stroke="#555" stroke-width="1.2"/>
<line x1="850.8" y1="549.5" x2="850.8" y2="553.5" stroke="#555" stroke-width="1.2"/>
<line x1="902.6" y1="549.5" x2="902.6" y2="553.5" stroke="#555" stroke-width="1.2"/>
<line x1="954.5" y1="549.5" x2="954.5" y2="553.5" stroke="#555" stroke-width="1.2"/>
<line x1="721.1" y1="549.5" x2="721.1" y2="552.0" stroke="#555" stroke-width="1.2"/>
<line x1="772.9" y1="549.5" x2="772.9" y2="552.0" stroke="#555" stroke-width="1.2"/>
<line x1="824.8" y1="549.5" x2="824.8" y2="552.0" stroke="#555" stroke-width="1.2"/>
<line x1="876.7" y1="549.5" x2="876.7" y2="552.0" stroke="#555" stroke-width="1.2"/>
<line x1="928.6" y1="549.5" x2="928.6" y2="552.0" stroke="#555" stroke-width="1.2"/>
<text x="695.1" y="568.3" class="sb" font-size="11.5" text-anchor="middle" style="fill:#222">7100</text>
<text x="747.0" y="568.3" class="sb" font-size="11.5" text-anchor="middle" style="fill:#222">7110</text>
<text x="798.9" y="568.3" class="sb" font-size="11.5" text-anchor="middle" style="fill:#222">7120</text>
<text x="850.8" y="568.3" class="sb" font-size="11.5" text-anchor="middle" style="fill:#222">7130</text>
<text x="902.6" y="568.3" class="sb" font-size="11.5" text-anchor="middle" style="fill:#222">7140</text>
<text x="954.5" y="568.3" class="sb" font-size="11.5" text-anchor="middle" style="fill:#222">7150</text>
<text x="818.6" y="587.5" class="sb" font-size="14.2" text-anchor="middle">Energy(eV)</text>
<text transform="translate(659.6,430.8) rotate(-90)" class="sb" font-size="15.3" text-anchor="middle">Normalized Absorption</text>
<line x1="674.7" y1="330.8" x2="695.8" y2="330.8" stroke="#333" stroke-width="1.6"/>
<line x1="674.7" y1="345.3" x2="695.8" y2="345.3" stroke="#a040c0" stroke-width="1.6"/>
<line x1="674.7" y1="364.2" x2="695.8" y2="364.2" stroke="#3a3ad0" stroke-width="1.6"/>
<line x1="674.7" y1="379.2" x2="695.8" y2="379.2" stroke="#e04848" stroke-width="1.6"/>
<text x="699.7" y="335.5" class="s" font-size="12" style="fill:#333">Fe<tspan font-size="10" dy="-5">0</tspan></text>
<text x="699.7" y="349.5" class="s" font-size="12" style="fill:#333">Fe<tspan font-size="9.5" dy="2">3</tspan><tspan dy="-2">O</tspan><tspan font-size="9.5" dy="2">4</tspan></text>
<text x="699.7" y="368.5" class="s" font-size="12" textLength="34" lengthAdjust="spacingAndGlyphs" style="fill:#333">Fe-used</text>
<text x="699.7" y="383.5" class="s" font-size="12" textLength="48.6" lengthAdjust="spacingAndGlyphs" style="fill:#333">Cr-Fe-used</text>
<path d="M669.5,524.5 L670.5,524.5 L671.5,524.4 L672.5,524.4 L673.5,524.4 L674.5,524.3 L675.5,524.3 L676.5,524.3 L677.5,524.2 L678.5,524.2 L679.5,524.2 L680.5,524.1 L681.5,524.1 L682.5,524.1 L683.5,524.1 L684.5,524.0 L685.5,524.0 L686.5,524.0 L687.5,523.9 L688.5,523.9 L689.5,523.9 L690.5,523.8 L691.5,523.8 L692.5,523.8 L693.5,523.7 L694.5,523.7 L695.5,523.7 L696.5,523.6 L697.5,523.6 L698.5,523.6 L699.5,523.5 L700.5,523.5 L701.5,523.4 L702.5,523.4 L703.5,523.4 L704.5,523.3 L705.5,523.3 L706.5,523.3 L707.5,523.2 L708.5,523.2 L709.5,523.2 L710.5,523.1 L711.5,523.1 L712.5,523.1 L713.5,523.0 L714.5,523.0 L715.5,523.0 L716.5,522.9 L717.5,522.9 L718.5,522.8 L719.5,522.8 L720.5,522.7 L721.5,522.7 L722.5,522.6 L723.5,522.6 L724.5,522.5 L725.5,522.5 L726.5,522.4 L727.5,522.3 L728.5,522.3 L729.5,522.2 L730.5,522.1 L731.5,522.0 L732.5,521.9 L733.5,521.8 L734.5,521.7 L735.5,521.6 L736.5,521.5 L737.5,521.4 L738.5,521.2 L739.5,521.1 L740.5,520.9 L741.5,520.8 L742.5,520.6 L743.5,520.4 L744.5,520.2 L745.5,520.0 L746.5,519.7 L747.5,519.4 L748.5,519.1 L749.5,518.7 L750.5,518.2 L751.5,517.6 L752.5,516.3 L753.5,514.3 L754.5,511.7 L755.5,508.8 L756.5,505.8 L757.5,502.8 L758.5,499.9 L759.5,497.4 L760.5,495.5 L761.5,493.7 L762.5,492.0 L763.5,490.3 L764.5,488.8 L765.5,487.4 L766.5,486.1 L767.5,485.0 L768.5,484.0 L769.5,483.1 L770.5,482.2 L771.5,481.4 L772.5,480.6 L773.5,479.9 L774.5,479.2 L775.5,478.5 L776.5,477.8 L777.5,477.2 L778.5,476.6 L779.5,476.1 L780.5,475.6 L781.5,475.1 L782.5,474.5 L783.5,473.9 L784.5,473.3 L785.5,472.5 L786.5,471.5 L787.5,470.2 L788.5,468.6 L789.5,466.8 L790.5,464.9 L791.5,462.8 L792.5,460.7 L793.5,458.7 L794.5,456.7 L795.5,454.7 L796.5,452.7 L797.5,450.6 L798.5,448.5 L799.5,446.3 L800.5,444.1 L801.5,442.0 L802.5,439.9 L803.5,438.0 L804.5,436.1 L805.5,434.5 L806.5,433.0 L807.5,431.6 L808.5,430.2 L809.5,428.9 L810.5,427.7 L811.5,426.6 L812.5,425.4 L813.5,424.3 L814.5,423.3 L815.5,422.3 L816.5,421.3 L817.5,420.3 L818.5,419.4 L819.5,418.5 L820.5,417.7 L821.5,416.9 L822.5,416.1 L823.5,415.3 L824.5,414.5 L825.5,413.7 L826.5,412.9 L827.5,412.1 L828.5,411.3 L829.5,410.5 L830.5,409.7 L831.5,408.9 L832.5,408.1 L833.5,407.3 L834.5,406.5 L835.5,405.7 L836.5,404.8 L837.5,403.9 L838.5,403.0 L839.5,402.0 L840.5,400.8 L841.5,399.6 L842.5,398.2 L843.5,396.8 L844.5,395.4 L845.5,394.0 L846.5,392.7 L847.5,391.6 L848.5,390.7 L849.5,390.0 L850.5,389.5 L851.5,389.1 L852.5,388.7 L853.5,388.3 L854.5,388.1 L855.5,387.9 L856.5,387.8 L857.5,387.9 L858.5,388.3 L859.5,388.9 L860.5,389.7 L861.5,390.5 L862.5,391.4 L863.5,392.3 L864.5,393.1 L865.5,393.9 L866.5,394.8 L867.5,395.8 L868.5,396.8 L869.5,397.8 L870.5,398.8 L871.5,399.8 L872.5,400.7 L873.5,401.4 L874.5,402.0 L875.5,402.4 L876.5,402.7 L877.5,403.0 L878.5,403.2 L879.5,403.4 L880.5,403.6 L881.5,403.8 L882.5,404.0 L883.5,404.1 L884.5,404.2 L885.5,404.3 L886.5,404.3 L887.5,404.3 L888.5,404.2 L889.5,404.0 L890.5,403.8 L891.5,403.5 L892.5,403.1 L893.5,402.8 L894.5,402.4 L895.5,402.0 L896.5,401.6 L897.5,401.2 L898.5,400.9 L899.5,400.5 L900.5,400.2 L901.5,400.0 L902.5,399.7 L903.5,399.4 L904.5,399.1 L905.5,398.9 L906.5,398.6 L907.5,398.4 L908.5,398.1 L909.5,398.0 L910.5,397.8 L911.5,397.7 L912.5,397.7 L913.5,397.7 L914.5,397.8 L915.5,397.8 L916.5,397.9 L917.5,398.0 L918.5,398.1 L919.5,398.2 L920.5,398.3 L921.5,398.4 L922.5,398.6 L923.5,398.6 L924.5,398.7 L925.5,398.8 L926.5,398.8 L927.5,398.8 L928.5,398.7 L929.5,398.6 L930.5,398.5 L931.5,398.3 L932.5,398.1 L933.5,397.8 L934.5,397.5 L935.5,397.2 L936.5,396.9 L937.5,396.6 L938.5,396.2 L939.5,395.9 L940.5,395.6 L941.5,395.3 L942.5,394.9 L943.5,394.6 L944.5,394.3 L945.5,393.9 L946.5,393.5 L947.5,393.1 L948.5,392.7 L949.5,392.2 L950.5,391.8 L951.5,391.4 L952.5,391.0 L953.5,390.6 L954.0,390.4" fill="none" stroke="#333" stroke-width="1.7" stroke-linejoin="round" stroke-linecap="round" />
<path d="M669.5,524.5 L670.5,524.5 L671.5,524.4 L672.5,524.4 L673.5,524.4 L674.5,524.3 L675.5,524.3 L676.5,524.3 L677.5,524.2 L678.5,524.2 L679.5,524.2 L680.5,524.1 L681.5,524.1 L682.5,524.1 L683.5,524.1 L684.5,524.0 L685.5,524.0 L686.5,524.0 L687.5,523.9 L688.5,523.9 L689.5,523.9 L690.5,523.8 L691.5,523.8 L692.5,523.8 L693.5,523.7 L694.5,523.7 L695.5,523.7 L696.5,523.6 L697.5,523.6 L698.5,523.6 L699.5,523.5 L700.5,523.5 L701.5,523.4 L702.5,523.4 L703.5,523.4 L704.5,523.3 L705.5,523.3 L706.5,523.3 L707.5,523.2 L708.5,523.2 L709.5,523.1 L710.5,523.1 L711.5,523.1 L712.5,523.0 L713.5,523.0 L714.5,523.0 L715.5,522.9 L716.5,522.9 L717.5,522.8 L718.5,522.8 L719.5,522.7 L720.5,522.7 L721.5,522.7 L722.5,522.6 L723.5,522.6 L724.5,522.5 L725.5,522.5 L726.5,522.4 L727.5,522.4 L728.5,522.3 L729.5,522.3 L730.5,522.3 L731.5,522.2 L732.5,522.2 L733.5,522.1 L734.5,522.1 L735.5,522.0 L736.5,522.0 L737.5,521.9 L738.5,521.8 L739.5,521.7 L740.5,521.7 L741.5,521.5 L742.5,521.4 L743.5,521.2 L744.5,521.0 L745.5,520.7 L746.5,520.4 L747.5,520.1 L748.5,519.8 L749.5,519.5 L750.5,519.1 L751.5,518.8 L752.5,518.4 L753.5,518.0 L754.5,517.6 L755.5,517.2 L756.5,516.7 L757.5,516.3 L758.5,515.9 L759.5,515.5 L760.5,515.0 L761.5,514.6 L762.5,514.2 L763.5,513.6 L764.5,512.9 L765.5,512.3 L766.5,511.6 L767.5,511.1 L768.5,510.8 L769.5,510.7 L770.5,510.8 L771.5,511.1 L772.5,511.4 L773.5,511.8 L774.5,512.1 L775.5,512.4 L776.5,512.5 L777.5,512.5 L778.5,512.5 L779.5,512.5 L780.5,512.5 L781.5,512.5 L782.5,512.5 L783.5,512.5 L784.5,512.5 L785.5,512.5 L786.5,512.5 L787.5,512.5 L788.5,512.4 L789.5,512.1 L790.5,511.6 L791.5,510.9 L792.5,510.0 L793.5,509.0 L794.5,507.9 L795.5,506.8 L796.5,505.6 L797.5,504.2 L798.5,502.4 L799.5,500.1 L800.5,497.6 L801.5,494.8 L802.5,491.8 L803.5,488.7 L804.5,485.7 L805.5,482.7 L806.5,479.9 L807.5,477.1 L808.5,474.2 L809.5,471.3 L810.5,468.3 L811.5,465.2 L812.5,462.0 L813.5,458.6 L814.5,455.0 L815.5,451.1 L816.5,447.0 L817.5,442.9 L818.5,438.7 L819.5,434.6 L820.5,430.8 L821.5,427.0 L822.5,423.2 L823.5,419.5 L824.5,415.8 L825.5,412.3 L826.5,408.9 L827.5,405.8 L828.5,402.9 L829.5,400.3 L830.5,397.8 L831.5,395.4 L832.5,393.2 L833.5,391.0 L834.5,388.9 L835.5,386.7 L836.5,384.5 L837.5,382.3 L838.5,379.9 L839.5,377.4 L840.5,374.8 L841.5,372.0 L842.5,369.1 L843.5,366.1 L844.5,363.2 L845.5,360.3 L846.5,357.6 L847.5,354.9 L848.5,352.5 L849.5,350.3 L850.5,348.3 L851.5,346.3 L852.5,344.2 L853.5,342.2 L854.5,340.3 L855.5,338.6 L856.5,337.2 L857.5,336.2 L858.5,335.5 L859.5,335.4 L860.5,335.5 L861.5,335.8 L862.5,336.1 L863.5,336.6 L864.5,337.1 L865.5,337.7 L866.5,338.3 L867.5,339.3 L868.5,341.0 L869.5,343.1 L870.5,345.5 L871.5,348.1 L872.5,350.7 L873.5,353.0 L874.5,355.0 L875.5,356.5 L876.5,357.5 L877.5,358.3 L878.5,359.1 L879.5,359.8 L880.5,360.4 L881.5,361.0 L882.5,361.6 L883.5,362.1 L884.5,362.7 L885.5,363.3 L886.5,363.9 L887.5,364.5 L888.5,365.2 L889.5,365.9 L890.5,366.5 L891.5,367.2 L892.5,367.9 L893.5,368.6 L894.5,369.3 L895.5,369.9 L896.5,370.5 L897.5,371.2 L898.5,371.7 L899.5,372.3 L900.5,372.8 L901.5,373.3 L902.5,373.8 L903.5,374.3 L904.5,374.8 L905.5,375.3 L906.5,375.8 L907.5,376.3 L908.5,376.7 L909.5,377.2 L910.5,377.6 L911.5,377.9 L912.5,378.2 L913.5,378.4 L914.5,378.6 L915.5,378.7 L916.5,378.7 L917.5,378.7 L918.5,378.6 L919.5,378.5 L920.5,378.4 L921.5,378.3 L922.5,378.2 L923.5,378.0 L924.5,377.9 L925.5,377.7 L926.5,377.5 L927.5,377.4 L928.5,377.3 L929.5,377.1 L930.5,377.0 L931.5,376.9 L932.5,376.9 L933.5,376.8 L934.5,376.8 L935.5,376.9 L936.5,377.0 L937.5,377.2 L938.5,377.5 L939.5,377.8 L940.5,378.2 L941.5,378.6 L942.5,379.0 L943.5,379.5 L944.5,380.0 L945.5,380.6 L946.5,381.2 L947.5,382.1 L948.5,383.1 L949.5,384.3 L950.5,385.5 L951.5,386.7 L952.5,388.0 L953.5,389.2 L954.0,389.7" fill="none" stroke="#a040c0" stroke-width="1.7" stroke-linejoin="round" stroke-linecap="round" />
<path d="M669.5,524.5 L670.5,524.5 L671.5,524.4 L672.5,524.4 L673.5,524.4 L674.5,524.3 L675.5,524.3 L676.5,524.3 L677.5,524.2 L678.5,524.2 L679.5,524.2 L680.5,524.1 L681.5,524.1 L682.5,524.1 L683.5,524.1 L684.5,524.0 L685.5,524.0 L686.5,524.0 L687.5,523.9 L688.5,523.9 L689.5,523.9 L690.5,523.8 L691.5,523.8 L692.5,523.8 L693.5,523.7 L694.5,523.7 L695.5,523.7 L696.5,523.6 L697.5,523.6 L698.5,523.6 L699.5,523.5 L700.5,523.5 L701.5,523.4 L702.5,523.4 L703.5,523.4 L704.5,523.3 L705.5,523.3 L706.5,523.3 L707.5,523.2 L708.5,523.2 L709.5,523.1 L710.5,523.1 L711.5,523.1 L712.5,523.0 L713.5,523.0 L714.5,523.0 L715.5,522.9 L716.5,522.9 L717.5,522.8 L718.5,522.8 L719.5,522.7 L720.5,522.7 L721.5,522.7 L722.5,522.6 L723.5,522.6 L724.5,522.5 L725.5,522.5 L726.5,522.4 L727.5,522.4 L728.5,522.4 L729.5,522.3 L730.5,522.3 L731.5,522.2 L732.5,522.2 L733.5,522.1 L734.5,522.1 L735.5,522.0 L736.5,522.0 L737.5,521.9 L738.5,521.8 L739.5,521.7 L740.5,521.6 L741.5,521.5 L742.5,521.4 L743.5,521.2 L744.5,520.9 L745.5,520.7 L746.5,520.4 L747.5,520.0 L748.5,519.7 L749.5,519.3 L750.5,518.8 L751.5,518.4 L752.5,517.9 L753.5,517.3 L754.5,516.8 L755.5,516.2 L756.5,515.6 L757.5,514.9 L758.5,514.2 L759.5,513.1 L760.5,511.4 L761.5,509.4 L762.5,507.2 L763.5,504.9 L764.5,502.9 L765.5,501.2 L766.5,500.1 L767.5,499.7 L768.5,499.7 L769.5,499.7 L770.5,499.7 L771.5,499.7 L772.5,499.7 L773.5,499.7 L774.5,499.8 L775.5,500.0 L776.5,500.3 L777.5,500.6 L778.5,500.9 L779.5,501.1 L780.5,501.3 L781.5,501.5 L782.5,501.5 L783.5,501.2 L784.5,500.7 L785.5,499.9 L786.5,498.9 L787.5,497.7 L788.5,496.4 L789.5,495.0 L790.5,493.5 L791.5,492.0 L792.5,489.9 L793.5,487.3 L794.5,484.2 L795.5,480.7 L796.5,477.0 L797.5,473.3 L798.5,469.6 L799.5,466.1 L800.5,463.0 L801.5,460.1 L802.5,457.2 L803.5,454.4 L804.5,451.6 L805.5,448.8 L806.5,446.2 L807.5,443.5 L808.5,440.9 L809.5,438.4 L810.5,436.0 L811.5,433.7 L812.5,431.4 L813.5,429.3 L814.5,427.1 L815.5,425.0 L816.5,423.0 L817.5,421.0 L818.5,419.1 L819.5,417.2 L820.5,415.3 L821.5,413.5 L822.5,411.7 L823.5,410.0 L824.5,408.3 L825.5,406.6 L826.5,405.0 L827.5,403.4 L828.5,401.8 L829.5,400.3 L830.5,398.8 L831.5,397.3 L832.5,395.8 L833.5,394.2 L834.5,392.7 L835.5,391.2 L836.5,389.6 L837.5,388.0 L838.5,386.3 L839.5,384.7 L840.5,383.0 L841.5,381.4 L842.5,379.9 L843.5,378.4 L844.5,377.1 L845.5,375.9 L846.5,374.8 L847.5,373.7 L848.5,372.7 L849.5,371.6 L850.5,370.6 L851.5,369.6 L852.5,368.8 L853.5,368.1 L854.5,367.5 L855.5,367.1 L856.5,367.0 L857.5,367.0 L858.5,367.2 L859.5,367.4 L860.5,367.7 L861.5,368.1 L862.5,368.5 L863.5,369.0 L864.5,369.4 L865.5,369.9 L866.5,370.4 L867.5,370.9 L868.5,371.4 L869.5,371.9 L870.5,372.5 L871.5,373.1 L872.5,373.8 L873.5,374.5 L874.5,375.2 L875.5,375.9 L876.5,376.7 L877.5,377.4 L878.5,378.1 L879.5,378.7 L880.5,379.3 L881.5,379.8 L882.5,380.3 L883.5,380.7 L884.5,381.1 L885.5,381.4 L886.5,381.8 L887.5,382.1 L888.5,382.5 L889.5,382.8 L890.5,383.1 L891.5,383.4 L892.5,383.7 L893.5,384.0 L894.5,384.2 L895.5,384.5 L896.5,384.7 L897.5,384.9 L898.5,385.0 L899.5,385.1 L900.5,385.2 L901.5,385.3 L902.5,385.4 L903.5,385.4 L904.5,385.5 L905.5,385.5 L906.5,385.6 L907.5,385.6 L908.5,385.7 L909.5,385.7 L910.5,385.7 L911.5,385.8 L912.5,385.8 L913.5,385.8 L914.5,385.9 L915.5,385.9 L916.5,385.9 L917.5,385.9 L918.5,386.0 L919.5,386.0 L920.5,386.0 L921.5,386.0 L922.5,386.0 L923.5,386.0 L924.5,386.0 L925.5,386.0 L926.5,386.0 L927.5,386.0 L928.5,386.0 L929.5,386.0 L930.5,386.0 L931.5,386.0 L932.5,386.0 L933.5,386.0 L934.5,386.0 L935.5,386.0 L936.5,386.0 L937.5,386.0 L938.5,386.0 L939.5,386.0 L940.5,386.0 L941.5,386.0 L942.5,386.0 L943.5,386.2 L944.5,386.4 L945.5,386.7 L946.5,387.1 L947.5,387.5 L948.5,387.9 L949.5,388.4 L950.5,388.9 L951.5,389.4 L952.5,389.8 L953.5,390.2 L954.0,390.4" fill="none" stroke="#3a3ad0" stroke-width="1.7" stroke-linejoin="round" stroke-linecap="round" />
<path d="M669.5,524.5 L670.5,524.5 L671.5,524.4 L672.5,524.4 L673.5,524.4 L674.5,524.3 L675.5,524.3 L676.5,524.3 L677.5,524.2 L678.5,524.2 L679.5,524.2 L680.5,524.1 L681.5,524.1 L682.5,524.1 L683.5,524.1 L684.5,524.0 L685.5,524.0 L686.5,524.0 L687.5,523.9 L688.5,523.9 L689.5,523.9 L690.5,523.8 L691.5,523.8 L692.5,523.8 L693.5,523.7 L694.5,523.7 L695.5,523.7 L696.5,523.6 L697.5,523.6 L698.5,523.6 L699.5,523.5 L700.5,523.5 L701.5,523.4 L702.5,523.4 L703.5,523.4 L704.5,523.3 L705.5,523.3 L706.5,523.2 L707.5,523.2 L708.5,523.1 L709.5,523.1 L710.5,523.0 L711.5,523.0 L712.5,522.9 L713.5,522.9 L714.5,522.8 L715.5,522.8 L716.5,522.7 L717.5,522.7 L718.5,522.7 L719.5,522.6 L720.5,522.6 L721.5,522.6 L722.5,522.5 L723.5,522.5 L724.5,522.5 L725.5,522.5 L726.5,522.5 L727.5,522.5 L728.5,522.5 L729.5,522.5 L730.5,522.5 L731.5,522.5 L732.5,522.5 L733.5,522.4 L734.5,522.4 L735.5,522.4 L736.5,522.4 L737.5,522.4 L738.5,522.4 L739.5,522.4 L740.5,522.4 L741.5,522.3 L742.5,522.2 L743.5,522.0 L744.5,521.8 L745.5,521.5 L746.5,521.2 L747.5,520.9 L748.5,520.5 L749.5,520.1 L750.5,519.7 L751.5,519.2 L752.5,518.8 L753.5,518.3 L754.5,517.8 L755.5,517.3 L756.5,516.8 L757.5,516.4 L758.5,515.9 L759.5,515.4 L760.5,515.0 L761.5,514.6 L762.5,514.2 L763.5,513.7 L764.5,513.2 L765.5,512.6 L766.5,512.1 L767.5,511.7 L768.5,511.5 L769.5,511.4 L770.5,511.6 L771.5,512.0 L772.5,512.6 L773.5,513.2 L774.5,513.8 L775.5,514.2 L776.5,514.4 L777.5,514.4 L778.5,514.3 L779.5,514.1 L780.5,513.8 L781.5,513.5 L782.5,513.1 L783.5,512.7 L784.5,512.3 L785.5,511.5 L786.5,510.6 L787.5,509.4 L788.5,508.0 L789.5,506.4 L790.5,504.7 L791.5,502.9 L792.5,501.0 L793.5,499.0 L794.5,497.0 L795.5,495.0 L796.5,492.6 L797.5,490.0 L798.5,487.1 L799.5,484.0 L800.5,480.8 L801.5,477.5 L802.5,474.2 L803.5,470.8 L804.5,467.6 L805.5,464.5 L806.5,461.5 L807.5,458.6 L808.5,455.6 L809.5,452.7 L810.5,449.8 L811.5,446.8 L812.5,443.9 L813.5,441.0 L814.5,438.2 L815.5,435.4 L816.5,432.6 L817.5,429.8 L818.5,427.1 L819.5,424.4 L820.5,421.8 L821.5,419.3 L822.5,416.8 L823.5,414.3 L824.5,411.8 L825.5,409.4 L826.5,406.9 L827.5,404.5 L828.5,402.0 L829.5,399.5 L830.5,397.1 L831.5,394.6 L832.5,392.1 L833.5,389.6 L834.5,387.1 L835.5,384.7 L836.5,382.2 L837.5,379.7 L838.5,377.2 L839.5,374.6 L840.5,372.1 L841.5,369.4 L842.5,366.6 L843.5,363.5 L844.5,360.4 L845.5,357.2 L846.5,354.2 L847.5,351.2 L848.5,348.5 L849.5,346.1 L850.5,344.0 L851.5,342.4 L852.5,341.2 L853.5,340.0 L854.5,338.9 L855.5,337.8 L856.5,336.9 L857.5,336.1 L858.5,335.4 L859.5,335.0 L860.5,334.7 L861.5,334.7 L862.5,334.9 L863.5,335.3 L864.5,335.9 L865.5,336.6 L866.5,337.3 L867.5,338.2 L868.5,339.0 L869.5,339.9 L870.5,340.8 L871.5,341.6 L872.5,342.4 L873.5,343.1 L874.5,343.9 L875.5,344.8 L876.5,345.6 L877.5,346.4 L878.5,347.3 L879.5,348.2 L880.5,349.1 L881.5,350.0 L882.5,350.9 L883.5,351.8 L884.5,352.7 L885.5,353.7 L886.5,354.6 L887.5,355.6 L888.5,356.6 L889.5,357.6 L890.5,358.6 L891.5,359.7 L892.5,360.8 L893.5,361.9 L894.5,363.0 L895.5,364.1 L896.5,365.1 L897.5,366.1 L898.5,367.1 L899.5,368.0 L900.5,368.9 L901.5,369.7 L902.5,370.4 L903.5,371.2 L904.5,371.9 L905.5,372.6 L906.5,373.3 L907.5,374.0 L908.5,374.7 L909.5,375.3 L910.5,375.9 L911.5,376.5 L912.5,377.0 L913.5,377.6 L914.5,378.0 L915.5,378.5 L916.5,378.9 L917.5,379.3 L918.5,379.7 L919.5,380.0 L920.5,380.3 L921.5,380.7 L922.5,381.0 L923.5,381.3 L924.5,381.5 L925.5,381.8 L926.5,382.1 L927.5,382.3 L928.5,382.6 L929.5,382.9 L930.5,383.1 L931.5,383.4 L932.5,383.7 L933.5,383.9 L934.5,384.2 L935.5,384.5 L936.5,384.8 L937.5,385.1 L938.5,385.4 L939.5,385.7 L940.5,385.9 L941.5,386.2 L942.5,386.5 L943.5,386.8 L944.5,387.1 L945.5,387.3 L946.5,387.6 L947.5,387.9 L948.5,388.2 L949.5,388.4 L950.5,388.7 L951.5,389.0 L952.5,389.3 L953.5,389.6 L954.0,389.7" fill="none" stroke="#e04040" stroke-width="1.7" stroke-linejoin="round" stroke-linecap="round" />
<rect x="1011.0" y="22.0" width="258.5" height="234.0" fill="none" stroke="#555" stroke-width="1.3"/>
<line x1="1088.1" y1="256.0" x2="1088.1" y2="260.0" stroke="#555" stroke-width="1.2"/>
<line x1="1178.8" y1="256.0" x2="1178.8" y2="260.0" stroke="#555" stroke-width="1.2"/>
<line x1="1269.5" y1="256.0" x2="1269.5" y2="260.0" stroke="#555" stroke-width="1.2"/>
<line x1="1042.7" y1="256.0" x2="1042.7" y2="258.5" stroke="#555" stroke-width="1.2"/>
<line x1="1133.4" y1="256.0" x2="1133.4" y2="258.5" stroke="#555" stroke-width="1.2"/>
<line x1="1224.1" y1="256.0" x2="1224.1" y2="258.5" stroke="#555" stroke-width="1.2"/>
<text x="1088.1" y="274.1" class="sb" font-size="13.5" text-anchor="middle" style="fill:#222">2</text>
<text x="1178.8" y="274.1" class="sb" font-size="13.5" text-anchor="middle" style="fill:#222">4</text>
<text x="1269.5" y="274.1" class="sb" font-size="13.5" text-anchor="middle" style="fill:#222">6</text>
<text x="1105.3" y="294.2" class="sb" font-size="15" textLength="70.4" lengthAdjust="spacingAndGlyphs">Distance (A)</text>
<text x="1164.4" y="281" class="sb" font-size="9" text-anchor="middle">o</text>
<text transform="translate(999.2,128.2) rotate(-90)" class="sb" font-size="14.5" text-anchor="middle">FT k<tspan font-size="12" dy="-6">3</tspan><tspan dy="6"> c (k)</tspan></text>
<line x1="1216.2" y1="32.8" x2="1242.5" y2="32.8" stroke="#333" stroke-width="1.6"/>
<line x1="1216.2" y1="49" x2="1242.5" y2="49" stroke="#e04050" stroke-width="1.8" stroke-dasharray="5,5"/>
<text x="1245.5" y="36.8" class="s" font-size="12" style="fill:#333">data</text>
<text x="1245.5" y="53" class="s" font-size="12" style="fill:#333">fit</text>
<text x="1204" y="130.8" class="s" font-size="14" textLength="55" lengthAdjust="spacingAndGlyphs" style="fill:#333">Cr-Fe-used</text>
<text x="1215.8" y="192" class="s" font-size="14" textLength="39" lengthAdjust="spacingAndGlyphs" style="fill:#333">Cr-used</text>
<path d="M1011.0,152.0 L1012.0,151.8 L1013.0,151.7 L1014.0,151.5 L1015.0,151.3 L1016.0,151.2 L1017.0,151.2 L1018.0,151.4 L1019.0,152.1 L1020.0,152.9 L1021.0,153.9 L1022.0,154.8 L1023.0,155.5 L1024.0,155.8 L1025.0,155.6 L1026.0,154.8 L1027.0,153.8 L1028.0,152.5 L1029.0,151.4 L1030.0,150.5 L1031.0,150.0 L1032.0,150.1 L1033.0,150.6 L1034.0,151.2 L1035.0,151.9 L1036.0,152.6 L1037.0,153.2 L1038.0,153.5 L1039.0,153.1 L1040.0,151.2 L1041.0,148.4 L1042.0,145.4 L1043.0,142.6 L1044.0,140.7 L1045.0,139.5 L1046.0,138.3 L1047.0,137.3 L1048.0,136.5 L1049.0,136.0 L1050.0,135.9 L1051.0,136.3 L1052.0,137.0 L1053.0,137.7 L1054.0,138.4 L1055.0,138.8 L1056.0,138.7 L1057.0,138.2 L1058.0,137.5 L1059.0,136.5 L1060.0,135.3 L1061.0,134.0 L1062.0,132.7 L1063.0,131.4 L1064.0,129.7 L1065.0,127.8 L1066.0,125.6 L1067.0,123.2 L1068.0,120.7 L1069.0,118.1 L1070.0,115.3 L1071.0,111.9 L1072.0,108.2 L1073.0,104.2 L1074.0,100.3 L1075.0,96.4 L1076.0,93.0 L1077.0,90.0 L1078.0,87.0 L1079.0,83.9 L1080.0,81.0 L1081.0,78.5 L1082.0,76.8 L1083.0,76.1 L1084.0,76.4 L1085.0,77.2 L1086.0,78.6 L1087.0,80.4 L1088.0,82.5 L1089.0,84.8 L1090.0,87.7 L1091.0,92.3 L1092.0,98.1 L1093.0,104.5 L1094.0,110.9 L1095.0,116.7 L1096.0,122.6 L1097.0,129.0 L1098.0,134.5 L1099.0,137.7 L1100.0,138.4 L1101.0,138.9 L1102.0,139.2 L1103.0,139.6 L1104.0,140.5 L1105.0,142.6 L1106.0,145.3 L1107.0,148.0 L1108.0,149.8 L1109.0,149.8 L1110.0,146.4 L1111.0,140.6 L1112.0,133.7 L1113.0,127.3 L1114.0,122.1 L1115.0,116.7 L1116.0,111.1 L1117.0,106.1 L1118.0,102.1 L1119.0,99.7 L1120.0,98.3 L1121.0,97.1 L1122.0,96.2 L1123.0,95.6 L1124.0,95.4 L1125.0,96.0 L1126.0,97.4 L1127.0,99.3 L1128.0,101.6 L1129.0,103.9 L1130.0,106.7 L1131.0,110.4 L1132.0,114.7 L1133.0,119.2 L1134.0,123.6 L1135.0,127.6 L1136.0,130.8 L1137.0,133.5 L1138.0,135.9 L1139.0,138.0 L1140.0,139.6 L1141.0,141.0 L1142.0,142.3 L1143.0,143.4 L1144.0,144.1 L1145.0,144.3 L1146.0,144.3 L1147.0,144.2 L1148.0,144.1 L1149.0,144.0 L1150.0,143.9 L1151.0,143.8 L1152.0,143.8 L1153.0,144.0 L1154.0,144.4 L1155.0,144.8 L1156.0,145.2 L1157.0,145.5 L1158.0,145.5 L1159.0,145.2 L1160.0,144.8 L1161.0,144.2 L1162.0,143.6 L1163.0,143.0 L1164.0,142.4 L1165.0,141.9 L1166.0,141.6 L1167.0,141.5 L1168.0,141.8 L1169.0,142.4 L1170.0,143.2 L1171.0,144.2 L1172.0,145.0 L1173.0,145.8 L1174.0,146.7 L1175.0,147.6 L1176.0,148.7 L1177.0,149.6 L1178.0,150.5 L1179.0,151.2 L1180.0,151.6 L1181.0,151.7 L1182.0,151.7 L1183.0,151.6 L1184.0,151.5 L1185.0,151.3 L1186.0,151.2 L1187.0,151.0 L1188.0,150.8 L1189.0,150.5 L1190.0,150.3 L1191.0,150.0 L1192.0,149.8 L1193.0,149.5 L1194.0,149.3 L1195.0,149.0 L1196.0,148.7 L1197.0,148.4 L1198.0,148.0 L1199.0,147.7 L1200.0,147.3 L1201.0,146.9 L1202.0,146.5 L1203.0,146.1 L1204.0,145.5 L1205.0,145.0 L1206.0,144.4 L1207.0,143.9 L1208.0,143.5 L1209.0,143.2 L1210.0,143.1 L1211.0,143.3 L1212.0,144.0 L1213.0,144.8 L1214.0,145.9 L1215.0,147.0 L1216.0,148.1 L1217.0,149.0 L1218.0,149.8 L1219.0,150.8 L1220.0,151.8 L1221.0,152.7 L1222.0,153.5 L1223.0,154.2 L1224.0,154.6 L1225.0,154.8 L1226.0,154.7 L1227.0,154.5 L1228.0,154.1 L1229.0,153.7 L1230.0,153.2 L1231.0,152.6 L1232.0,152.0 L1233.0,151.4 L1234.0,150.8 L1235.0,149.9 L1236.0,148.9 L1237.0,147.8 L1238.0,146.6 L1239.0,145.5 L1240.0,144.4 L1241.0,143.3 L1242.0,142.4 L1243.0,141.7 L1244.0,141.0 L1245.0,140.3 L1246.0,139.6 L1247.0,139.0 L1248.0,138.5 L1249.0,138.1 L1250.0,137.9 L1251.0,137.8 L1252.0,138.0 L1253.0,138.3 L1254.0,138.8 L1255.0,139.3 L1256.0,140.0 L1257.0,140.7 L1258.0,141.4 L1259.0,142.1 L1260.0,142.8 L1261.0,143.6 L1262.0,144.5 L1263.0,145.5 L1264.0,146.5 L1265.0,147.5 L1266.0,148.6 L1267.0,149.6 L1268.0,150.6 L1268.7,151.3" fill="none" stroke="#333" stroke-width="1.7" stroke-linejoin="round" stroke-linecap="round" />
<path d="M1011.0,153.0 L1012.0,153.0 L1013.0,153.0 L1014.0,153.0 L1015.0,153.0 L1016.0,153.0 L1017.0,153.0 L1018.0,153.0 L1019.0,153.0 L1020.0,153.0 L1021.0,153.0 L1022.0,153.0 L1023.0,153.0 L1024.0,153.0 L1025.0,153.0 L1026.0,153.0 L1027.0,153.0 L1028.0,153.0 L1029.0,153.0 L1030.0,153.0 L1031.0,153.0 L1032.0,153.0 L1033.0,152.9 L1034.0,152.8 L1035.0,152.7 L1036.0,152.6 L1037.0,152.5 L1038.0,152.3 L1039.0,152.2 L1040.0,152.0 L1041.0,151.8 L1042.0,151.4 L1043.0,150.9 L1044.0,150.4 L1045.0,149.7 L1046.0,149.0 L1047.0,148.3 L1048.0,147.5 L1049.0,146.8 L1050.0,146.0 L1051.0,145.2 L1052.0,144.4 L1053.0,143.6 L1054.0,142.7 L1055.0,141.8 L1056.0,140.7 L1057.0,139.7 L1058.0,138.5 L1059.0,137.3 L1060.0,136.0 L1061.0,134.6 L1062.0,133.0 L1063.0,131.2 L1064.0,129.3 L1065.0,127.2 L1066.0,125.0 L1067.0,122.6 L1068.0,120.0 L1069.0,117.0 L1070.0,113.4 L1071.0,109.4 L1072.0,105.2 L1073.0,100.9 L1074.0,96.8 L1075.0,93.0 L1076.0,89.1 L1077.0,84.7 L1078.0,80.4 L1079.0,76.6 L1080.0,73.6 L1081.0,72.1 L1082.0,72.0 L1083.0,72.7 L1084.0,73.9 L1085.0,75.5 L1086.0,77.5 L1087.0,79.7 L1088.0,82.0 L1089.0,85.2 L1090.0,89.7 L1091.0,95.2 L1092.0,101.0 L1093.0,106.8 L1094.0,112.0 L1095.0,117.2 L1096.0,122.8 L1097.0,128.4 L1098.0,133.5 L1099.0,137.5 L1100.0,140.0 L1101.0,141.5 L1102.0,142.9 L1103.0,144.1 L1104.0,145.0 L1105.0,145.7 L1106.0,146.0 L1107.0,145.5 L1108.0,143.4 L1109.0,140.1 L1110.0,136.1 L1111.0,131.9 L1112.0,128.0 L1113.0,123.8 L1114.0,118.7 L1115.0,113.5 L1116.0,108.7 L1117.0,105.0 L1118.0,103.0 L1119.0,102.2 L1120.0,101.4 L1121.0,100.8 L1122.0,100.3 L1123.0,99.9 L1124.0,99.7 L1125.0,99.7 L1126.0,100.5 L1127.0,102.1 L1128.0,104.3 L1129.0,106.8 L1130.0,109.5 L1131.0,112.0 L1132.0,114.7 L1133.0,117.7 L1134.0,121.0 L1135.0,124.5 L1136.0,127.9 L1137.0,131.1 L1138.0,134.0 L1139.0,136.7 L1140.0,139.5 L1141.0,142.2 L1142.0,144.6 L1143.0,146.6 L1144.0,148.0 L1145.0,149.0 L1146.0,149.9 L1147.0,150.6 L1148.0,151.2 L1149.0,151.6 L1150.0,151.9 L1151.0,152.1 L1152.0,152.3 L1153.0,152.5 L1154.0,152.6 L1155.0,152.8 L1156.0,152.9 L1157.0,153.0 L1158.0,153.1 L1159.0,153.2 L1160.0,153.3 L1161.0,153.4 L1162.0,153.5 L1163.0,153.6 L1164.0,153.7 L1165.0,153.8 L1166.0,153.9 L1167.0,154.0 L1168.0,154.1 L1169.0,154.2 L1170.0,154.3 L1171.0,154.4 L1172.0,154.5 L1173.0,154.6 L1174.0,154.7 L1175.0,154.8 L1176.0,154.9 L1177.0,155.0 L1178.0,155.1 L1179.0,155.2 L1180.0,155.2 L1181.0,155.3 L1182.0,155.3 L1183.0,155.4 L1184.0,155.4 L1185.0,155.5 L1186.0,155.5 L1187.0,155.5 L1188.0,155.5 L1189.0,155.5 L1190.0,155.5 L1191.0,155.6 L1192.0,155.6 L1193.0,155.6 L1194.0,155.6 L1195.0,155.6 L1196.0,155.6 L1197.0,155.6 L1198.0,155.6 L1199.0,155.6 L1200.0,155.7 L1201.0,155.7 L1202.0,155.7 L1203.0,155.7 L1204.0,155.7 L1205.0,155.7 L1206.0,155.7 L1207.0,155.7 L1208.0,155.7 L1209.0,155.7 L1210.0,155.7 L1211.0,155.7 L1212.0,155.7 L1213.0,155.8 L1214.0,155.8 L1215.0,155.8 L1216.0,155.8 L1217.0,155.8 L1218.0,155.8 L1219.0,155.8 L1220.0,155.8 L1221.0,155.8 L1222.0,155.8 L1223.0,155.8 L1224.0,155.8 L1225.0,155.8 L1226.0,155.8 L1227.0,155.8 L1228.0,155.8 L1229.0,155.8 L1230.0,155.8 L1231.0,155.8 L1232.0,155.8 L1233.0,155.8 L1234.0,155.9 L1235.0,155.9 L1236.0,155.9 L1237.0,155.9 L1238.0,155.9 L1239.0,155.9 L1240.0,155.9 L1241.0,155.9 L1242.0,155.9 L1243.0,155.9 L1244.0,155.9 L1245.0,155.9 L1246.0,155.9 L1247.0,155.9 L1248.0,155.9 L1249.0,155.9 L1250.0,155.9 L1251.0,155.9 L1252.0,155.9 L1253.0,155.9 L1254.0,155.9 L1255.0,155.9 L1256.0,155.9 L1257.0,155.9 L1258.0,155.9 L1259.0,155.9 L1260.0,156.0 L1261.0,156.0 L1262.0,156.0 L1263.0,156.0 L1264.0,156.0 L1265.0,156.0 L1266.0,156.0 L1267.0,156.0 L1268.0,156.0 L1268.7,156.0" fill="none" stroke="#e04050" stroke-width="1.7" stroke-linejoin="round" stroke-linecap="round" stroke-dasharray="5,4.5" stroke-linecap="butt"/>
<path d="M1011.0,218.6 L1012.0,218.4 L1013.0,218.2 L1014.0,217.9 L1015.0,217.7 L1016.0,217.5 L1017.0,217.3 L1018.0,217.2 L1019.0,217.2 L1020.0,217.6 L1021.0,218.1 L1022.0,218.8 L1023.0,219.5 L1024.0,220.3 L1025.0,220.9 L1026.0,221.3 L1027.0,221.5 L1028.0,221.3 L1029.0,220.9 L1030.0,220.2 L1031.0,219.3 L1032.0,218.3 L1033.0,217.3 L1034.0,216.4 L1035.0,215.6 L1036.0,214.9 L1037.0,214.2 L1038.0,213.5 L1039.0,212.9 L1040.0,212.2 L1041.0,211.6 L1042.0,211.1 L1043.0,210.6 L1044.0,210.1 L1045.0,209.7 L1046.0,209.3 L1047.0,209.0 L1048.0,208.7 L1049.0,208.4 L1050.0,208.1 L1051.0,207.8 L1052.0,207.5 L1053.0,207.1 L1054.0,206.8 L1055.0,206.5 L1056.0,206.2 L1057.0,205.9 L1058.0,205.5 L1059.0,205.1 L1060.0,204.6 L1061.0,204.1 L1062.0,203.4 L1063.0,202.4 L1064.0,200.4 L1065.0,197.4 L1066.0,193.8 L1067.0,189.7 L1068.0,185.4 L1069.0,181.1 L1070.0,176.8 L1071.0,171.5 L1072.0,165.7 L1073.0,159.9 L1074.0,154.9 L1075.0,151.2 L1076.0,148.9 L1077.0,146.7 L1078.0,144.8 L1079.0,143.4 L1080.0,142.4 L1081.0,142.2 L1082.0,142.9 L1083.0,144.5 L1084.0,146.7 L1085.0,149.3 L1086.0,152.1 L1087.0,155.0 L1088.0,158.5 L1089.0,162.7 L1090.0,167.5 L1091.0,172.6 L1092.0,177.9 L1093.0,184.3 L1094.0,192.8 L1095.0,201.9 L1096.0,210.0 L1097.0,215.6 L1098.0,217.2 L1099.0,216.6 L1100.0,215.3 L1101.0,213.9 L1102.0,212.6 L1103.0,211.7 L1104.0,211.8 L1105.0,213.1 L1106.0,215.1 L1107.0,217.3 L1108.0,219.1 L1109.0,220.1 L1110.0,219.3 L1111.0,216.5 L1112.0,212.2 L1113.0,207.2 L1114.0,202.0 L1115.0,197.2 L1116.0,193.6 L1117.0,191.1 L1118.0,188.6 L1119.0,186.2 L1120.0,184.1 L1121.0,182.3 L1122.0,181.0 L1123.0,180.4 L1124.0,180.5 L1125.0,181.0 L1126.0,181.9 L1127.0,183.0 L1128.0,184.3 L1129.0,185.6 L1130.0,187.0 L1131.0,188.3 L1132.0,190.1 L1133.0,192.1 L1134.0,194.3 L1135.0,196.6 L1136.0,198.9 L1137.0,200.9 L1138.0,202.7 L1139.0,204.1 L1140.0,204.9 L1141.0,205.4 L1142.0,205.9 L1143.0,206.3 L1144.0,206.7 L1145.0,207.0 L1146.0,207.1 L1147.0,207.2 L1148.0,207.2 L1149.0,207.0 L1150.0,206.8 L1151.0,206.6 L1152.0,206.3 L1153.0,206.0 L1154.0,205.6 L1155.0,205.3 L1156.0,205.0 L1157.0,204.7 L1158.0,204.3 L1159.0,203.8 L1160.0,203.3 L1161.0,202.8 L1162.0,202.3 L1163.0,201.9 L1164.0,201.6 L1165.0,201.4 L1166.0,201.4 L1167.0,201.6 L1168.0,202.0 L1169.0,202.5 L1170.0,203.1 L1171.0,203.8 L1172.0,204.5 L1173.0,205.2 L1174.0,206.3 L1175.0,207.7 L1176.0,209.3 L1177.0,211.1 L1178.0,213.0 L1179.0,214.8 L1180.0,216.6 L1181.0,218.1 L1182.0,219.4 L1183.0,220.2 L1184.0,220.7 L1185.0,220.6 L1186.0,220.3 L1187.0,219.7 L1188.0,219.0 L1189.0,218.1 L1190.0,217.2 L1191.0,216.1 L1192.0,215.1 L1193.0,214.1 L1194.0,213.3 L1195.0,212.5 L1196.0,211.9 L1197.0,211.4 L1198.0,210.9 L1199.0,210.4 L1200.0,209.9 L1201.0,209.4 L1202.0,209.0 L1203.0,208.6 L1204.0,208.3 L1205.0,208.0 L1206.0,207.8 L1207.0,207.7 L1208.0,207.7 L1209.0,207.7 L1210.0,207.7 L1211.0,207.7 L1212.0,207.7 L1213.0,207.7 L1214.0,207.7 L1215.0,207.7 L1216.0,207.7 L1217.0,207.7 L1218.0,207.7 L1219.0,207.7 L1220.0,207.7 L1221.0,207.5 L1222.0,207.1 L1223.0,206.7 L1224.0,206.1 L1225.0,205.5 L1226.0,204.8 L1227.0,204.1 L1228.0,203.4 L1229.0,202.6 L1230.0,202.0 L1231.0,201.3 L1232.0,200.8 L1233.0,200.3 L1234.0,200.0 L1235.0,199.8 L1236.0,199.8 L1237.0,199.9 L1238.0,200.1 L1239.0,200.3 L1240.0,200.6 L1241.0,201.0 L1242.0,201.4 L1243.0,201.8 L1244.0,202.2 L1245.0,202.7 L1246.0,203.2 L1247.0,203.6 L1248.0,204.1 L1249.0,204.6 L1250.0,205.1 L1251.0,205.7 L1252.0,206.3 L1253.0,207.0 L1254.0,207.7 L1255.0,208.4 L1256.0,209.1 L1257.0,209.9 L1258.0,210.6 L1259.0,211.4 L1260.0,212.2 L1261.0,213.0 L1262.0,213.8 L1263.0,214.6 L1264.0,215.4 L1265.0,216.1 L1266.0,216.9 L1267.0,217.7 L1268.0,218.4 L1268.7,218.9" fill="none" stroke="#333" stroke-width="1.7" stroke-linejoin="round" stroke-linecap="round" />
<path d="M1011.0,218.0 L1012.0,218.1 L1013.0,218.1 L1014.0,218.2 L1015.0,218.3 L1016.0,218.4 L1017.0,218.5 L1018.0,218.5 L1019.0,218.6 L1020.0,218.7 L1021.0,218.8 L1022.0,218.8 L1023.0,218.9 L1024.0,218.9 L1025.0,219.0 L1026.0,219.0 L1027.0,219.0 L1028.0,219.0 L1029.0,219.0 L1030.0,218.9 L1031.0,218.9 L1032.0,218.8 L1033.0,218.7 L1034.0,218.6 L1035.0,218.5 L1036.0,218.4 L1037.0,218.2 L1038.0,218.1 L1039.0,217.9 L1040.0,217.8 L1041.0,217.6 L1042.0,217.4 L1043.0,217.2 L1044.0,217.0 L1045.0,216.7 L1046.0,216.4 L1047.0,215.9 L1048.0,215.3 L1049.0,214.7 L1050.0,214.0 L1051.0,213.2 L1052.0,212.4 L1053.0,211.6 L1054.0,210.8 L1055.0,210.0 L1056.0,209.2 L1057.0,208.4 L1058.0,207.5 L1059.0,206.6 L1060.0,205.5 L1061.0,204.4 L1062.0,203.1 L1063.0,201.7 L1064.0,200.0 L1065.0,197.7 L1066.0,194.6 L1067.0,190.9 L1068.0,186.8 L1069.0,182.4 L1070.0,178.0 L1071.0,173.0 L1072.0,167.1 L1073.0,161.1 L1074.0,155.8 L1075.0,152.0 L1076.0,149.2 L1077.0,146.6 L1078.0,144.2 L1079.0,142.4 L1080.0,141.3 L1081.0,141.0 L1082.0,141.6 L1083.0,142.8 L1084.0,144.6 L1085.0,146.8 L1086.0,149.3 L1087.0,152.0 L1088.0,155.8 L1089.0,161.1 L1090.0,167.4 L1091.0,173.9 L1092.0,180.0 L1093.0,186.4 L1094.0,193.8 L1095.0,201.2 L1096.0,207.7 L1097.0,212.3 L1098.0,214.0 L1099.0,214.0 L1100.0,214.0 L1101.0,214.0 L1102.0,214.0 L1103.0,214.0 L1104.0,214.0 L1105.0,214.0 L1106.0,214.0 L1107.0,214.0 L1108.0,214.0 L1109.0,214.0 L1110.0,214.0 L1111.0,213.1 L1112.0,210.6 L1113.0,207.0 L1114.0,202.8 L1115.0,198.6 L1116.0,194.9 L1117.0,192.0 L1118.0,189.7 L1119.0,187.3 L1120.0,185.1 L1121.0,183.1 L1122.0,181.7 L1123.0,181.0 L1124.0,181.1 L1125.0,181.5 L1126.0,182.2 L1127.0,183.2 L1128.0,184.3 L1129.0,185.5 L1130.0,186.7 L1131.0,188.0 L1132.0,189.5 L1133.0,191.3 L1134.0,193.5 L1135.0,195.8 L1136.0,198.1 L1137.0,200.4 L1138.0,202.6 L1139.0,204.5 L1140.0,206.0 L1141.0,207.3 L1142.0,208.6 L1143.0,209.8 L1144.0,211.1 L1145.0,212.3 L1146.0,213.4 L1147.0,214.5 L1148.0,215.4 L1149.0,216.3 L1150.0,217.1 L1151.0,217.8 L1152.0,218.3 L1153.0,218.7 L1154.0,218.9 L1155.0,219.0 L1156.0,219.2 L1157.0,219.3 L1158.0,219.4 L1159.0,219.6 L1160.0,219.7 L1161.0,219.8 L1162.0,219.9 L1163.0,220.0 L1164.0,220.1 L1165.0,220.2 L1166.0,220.2 L1167.0,220.3 L1168.0,220.4 L1169.0,220.5 L1170.0,220.5 L1171.0,220.6 L1172.0,220.6 L1173.0,220.7 L1174.0,220.8 L1175.0,220.8 L1176.0,220.8 L1177.0,220.9 L1178.0,220.9 L1179.0,221.0 L1180.0,221.0 L1181.0,221.0 L1182.0,221.1 L1183.0,221.1 L1184.0,221.1 L1185.0,221.2 L1186.0,221.2 L1187.0,221.2 L1188.0,221.2 L1189.0,221.3 L1190.0,221.3 L1191.0,221.3 L1192.0,221.3 L1193.0,221.4 L1194.0,221.4 L1195.0,221.4 L1196.0,221.4 L1197.0,221.4 L1198.0,221.5 L1199.0,221.5 L1200.0,221.5 L1201.0,221.5 L1202.0,221.5 L1203.0,221.6 L1204.0,221.6 L1205.0,221.6 L1206.0,221.6 L1207.0,221.6 L1208.0,221.7 L1209.0,221.7 L1210.0,221.7 L1211.0,221.7 L1212.0,221.7 L1213.0,221.7 L1214.0,221.7 L1215.0,221.8 L1216.0,221.8 L1217.0,221.8 L1218.0,221.8 L1219.0,221.8 L1220.0,221.8 L1221.0,221.8 L1222.0,221.9 L1223.0,221.9 L1224.0,221.9 L1225.0,221.9 L1226.0,221.9 L1227.0,221.9 L1228.0,221.9 L1229.0,221.9 L1230.0,222.0 L1231.0,222.0 L1232.0,222.0 L1233.0,222.0 L1234.0,222.0 L1235.0,222.0 L1236.0,222.0 L1237.0,222.0 L1238.0,222.0 L1239.0,222.0 L1240.0,222.1 L1241.0,222.1 L1242.0,222.1 L1243.0,222.1 L1244.0,222.1 L1245.0,222.1 L1246.0,222.1 L1247.0,222.1 L1248.0,222.1 L1249.0,222.2 L1250.0,222.2 L1251.0,222.2 L1252.0,222.2 L1253.0,222.2 L1254.0,222.2 L1255.0,222.2 L1256.0,222.2 L1257.0,222.2 L1258.0,222.3 L1259.0,222.3 L1260.0,222.3 L1261.0,222.3 L1262.0,222.3 L1263.0,222.3 L1264.0,222.3 L1265.0,222.3 L1266.0,222.4 L1267.0,222.4 L1268.0,222.4 L1268.7,222.4" fill="none" stroke="#e04050" stroke-width="1.7" stroke-linejoin="round" stroke-linecap="round" stroke-dasharray="5,4.5" stroke-linecap="butt"/>
<rect x="1012.2" y="318.0" width="260.2" height="235.3" fill="none" stroke="#555" stroke-width="1.3"/>
<line x1="1090.4" y1="553.3" x2="1090.4" y2="557.3" stroke="#555" stroke-width="1.2"/>
<line x1="1181.4" y1="553.3" x2="1181.4" y2="557.3" stroke="#555" stroke-width="1.2"/>
<line x1="1272.4" y1="553.3" x2="1272.4" y2="557.3" stroke="#555" stroke-width="1.2"/>
<line x1="1045.0" y1="553.3" x2="1045.0" y2="555.8" stroke="#555" stroke-width="1.2"/>
<line x1="1135.9" y1="553.3" x2="1135.9" y2="555.8" stroke="#555" stroke-width="1.2"/>
<line x1="1226.9" y1="553.3" x2="1226.9" y2="555.8" stroke="#555" stroke-width="1.2"/>
<text x="1090.4" y="572.5" class="sb" font-size="13.5" text-anchor="middle" style="fill:#222">2</text>
<text x="1181.4" y="572.5" class="sb" font-size="13.5" text-anchor="middle" style="fill:#222">4</text>
<text x="1272.4" y="572.5" class="sb" font-size="13.5" text-anchor="middle" style="fill:#222">6</text>
<text x="1103.7" y="590.1" class="sb" font-size="15" textLength="71" lengthAdjust="spacingAndGlyphs">Distance (A)</text>
<text x="1167" y="577.5" class="sb" font-size="9" text-anchor="middle">o</text>
<text transform="translate(1001,424) rotate(-90)" class="sb" font-size="14.5" text-anchor="middle">FT k<tspan font-size="12" dy="-6">3</tspan><tspan dy="6"> c (k)</tspan></text>
<line x1="1220" y1="331.2" x2="1243.2" y2="331.2" stroke="#333" stroke-width="1.6"/>
<line x1="1220" y1="348" x2="1243.2" y2="348" stroke="#e04050" stroke-width="1.8" stroke-dasharray="5,5"/>
<text x="1246" y="335.2" class="s" font-size="12" style="fill:#333">data</text>
<text x="1246" y="352" class="s" font-size="12" style="fill:#333">fit</text>
<text x="1214" y="380" class="s" font-size="14" textLength="56" lengthAdjust="spacingAndGlyphs" style="fill:#333">Cr-Fe-used</text>
<text x="1222" y="500" class="s" font-size="14" textLength="38" lengthAdjust="spacingAndGlyphs" style="fill:#333">Fe-used</text>
<path d="M1012.5,427.0 L1013.5,426.9 L1014.5,426.7 L1015.5,426.6 L1016.5,426.5 L1017.5,426.3 L1018.5,426.2 L1019.5,426.0 L1020.5,425.9 L1021.5,425.7 L1022.5,425.5 L1023.5,425.4 L1024.5,425.2 L1025.5,425.1 L1026.5,424.9 L1027.5,424.8 L1028.5,424.7 L1029.5,424.6 L1030.5,424.4 L1031.5,424.3 L1032.5,424.2 L1033.5,424.2 L1034.5,424.1 L1035.5,424.1 L1036.5,424.0 L1037.5,424.0 L1038.5,424.1 L1039.5,424.6 L1040.5,425.4 L1041.5,425.9 L1042.5,425.8 L1043.5,424.7 L1044.5,422.7 L1045.5,420.0 L1046.5,416.9 L1047.5,413.6 L1048.5,410.2 L1049.5,407.2 L1050.5,404.5 L1051.5,402.6 L1052.5,401.5 L1053.5,400.8 L1054.5,400.2 L1055.5,399.7 L1056.5,399.1 L1057.5,398.4 L1058.5,397.5 L1059.5,396.3 L1060.5,394.8 L1061.5,393.1 L1062.5,391.2 L1063.5,389.1 L1064.5,386.7 L1065.5,383.4 L1066.5,379.4 L1067.5,374.8 L1068.5,370.1 L1069.5,365.5 L1070.5,361.2 L1071.5,357.5 L1072.5,354.6 L1073.5,351.7 L1074.5,348.7 L1075.5,345.9 L1076.5,343.3 L1077.5,341.1 L1078.5,339.4 L1079.5,338.3 L1080.5,338.0 L1081.5,338.6 L1082.5,339.9 L1083.5,342.0 L1084.5,344.5 L1085.5,347.5 L1086.5,350.8 L1087.5,354.3 L1088.5,358.0 L1089.5,363.1 L1090.5,369.3 L1091.5,376.2 L1092.5,383.0 L1093.5,389.3 L1094.5,394.7 L1095.5,400.5 L1096.5,406.2 L1097.5,410.9 L1098.5,413.7 L1099.5,414.4 L1100.5,414.9 L1101.5,415.2 L1102.5,415.4 L1103.5,415.8 L1104.5,416.3 L1105.5,417.2 L1106.5,418.2 L1107.5,419.3 L1108.5,420.2 L1109.5,420.7 L1110.5,420.6 L1111.5,419.2 L1112.5,416.8 L1113.5,413.4 L1114.5,409.6 L1115.5,405.5 L1116.5,401.4 L1117.5,397.7 L1118.5,394.4 L1119.5,390.8 L1120.5,387.0 L1121.5,383.1 L1122.5,379.4 L1123.5,376.0 L1124.5,373.0 L1125.5,370.8 L1126.5,369.3 L1127.5,368.2 L1128.5,367.2 L1129.5,366.4 L1130.5,365.6 L1131.5,365.0 L1132.5,364.4 L1133.5,363.7 L1134.5,363.1 L1135.5,362.4 L1136.5,361.5 L1137.5,360.6 L1138.5,359.4 L1139.5,357.8 L1140.5,355.9 L1141.5,353.8 L1142.5,351.7 L1143.5,349.7 L1144.5,348.0 L1145.5,346.5 L1146.5,345.5 L1147.5,344.6 L1148.5,343.7 L1149.5,342.9 L1150.5,342.4 L1151.5,342.0 L1152.5,342.1 L1153.5,343.0 L1154.5,344.7 L1155.5,347.0 L1156.5,349.6 L1157.5,352.5 L1158.5,355.7 L1159.5,360.3 L1160.5,366.1 L1161.5,372.5 L1162.5,379.0 L1163.5,385.2 L1164.5,390.8 L1165.5,397.0 L1166.5,403.6 L1167.5,410.2 L1168.5,416.3 L1169.5,421.6 L1170.5,425.5 L1171.5,427.7 L1172.5,427.8 L1173.5,426.7 L1174.5,424.7 L1175.5,422.2 L1176.5,419.5 L1177.5,417.1 L1178.5,415.0 L1179.5,412.6 L1180.5,410.1 L1181.5,407.7 L1182.5,405.6 L1183.5,404.0 L1184.5,403.2 L1185.5,403.3 L1186.5,404.0 L1187.5,405.1 L1188.5,406.5 L1189.5,408.1 L1190.5,409.7 L1191.5,411.3 L1192.5,412.8 L1193.5,414.6 L1194.5,416.6 L1195.5,418.7 L1196.5,420.8 L1197.5,422.6 L1198.5,423.9 L1199.5,424.7 L1200.5,424.8 L1201.5,424.5 L1202.5,424.1 L1203.5,423.5 L1204.5,422.8 L1205.5,422.0 L1206.5,421.3 L1207.5,420.5 L1208.5,419.9 L1209.5,419.4 L1210.5,419.0 L1211.5,418.8 L1212.5,418.5 L1213.5,418.3 L1214.5,418.2 L1215.5,418.0 L1216.5,417.9 L1217.5,417.7 L1218.5,417.6 L1219.5,417.4 L1220.5,417.2 L1221.5,416.9 L1222.5,416.6 L1223.5,416.2 L1224.5,415.7 L1225.5,414.3 L1226.5,412.3 L1227.5,409.8 L1228.5,407.0 L1229.5,404.1 L1230.5,401.4 L1231.5,399.0 L1232.5,397.0 L1233.5,395.0 L1234.5,392.9 L1235.5,390.7 L1236.5,388.8 L1237.5,387.0 L1238.5,385.5 L1239.5,384.5 L1240.5,384.0 L1241.5,384.2 L1242.5,384.9 L1243.5,386.0 L1244.5,387.7 L1245.5,389.6 L1246.5,391.7 L1247.5,394.1 L1248.5,396.5 L1249.5,398.8 L1250.5,401.3 L1251.5,404.7 L1252.5,408.7 L1253.5,413.1 L1254.5,417.4 L1255.5,421.2 L1256.5,424.1 L1257.5,425.8 L1258.5,425.9 L1259.5,425.5 L1260.5,424.8 L1261.5,423.9 L1262.5,422.9 L1263.5,422.0 L1264.5,421.3 L1265.5,420.9 L1266.5,420.8 L1267.5,421.1 L1268.5,421.5 L1269.5,422.0 L1270.5,422.5 L1271.5,423.0 L1272.0,423.2" fill="none" stroke="#333" stroke-width="1.7" stroke-linejoin="round" stroke-linecap="round" />
<path d="M1012.5,428.0 L1013.5,427.9 L1014.5,427.9 L1015.5,427.8 L1016.5,427.7 L1017.5,427.7 L1018.5,427.6 L1019.5,427.6 L1020.5,427.5 L1021.5,427.5 L1022.5,427.4 L1023.5,427.4 L1024.5,427.3 L1025.5,427.3 L1026.5,427.2 L1027.5,427.2 L1028.5,427.1 L1029.5,427.1 L1030.5,427.0 L1031.5,426.9 L1032.5,426.8 L1033.5,426.8 L1034.5,426.7 L1035.5,426.6 L1036.5,426.5 L1037.5,426.3 L1038.5,426.2 L1039.5,426.1 L1040.5,425.9 L1041.5,425.7 L1042.5,425.3 L1043.5,424.8 L1044.5,424.3 L1045.5,423.7 L1046.5,423.0 L1047.5,422.2 L1048.5,421.4 L1049.5,420.5 L1050.5,419.5 L1051.5,418.1 L1052.5,416.3 L1053.5,414.3 L1054.5,412.1 L1055.5,409.8 L1056.5,407.4 L1057.5,405.1 L1058.5,402.9 L1059.5,400.8 L1060.5,398.7 L1061.5,396.6 L1062.5,394.4 L1063.5,392.0 L1064.5,389.4 L1065.5,386.5 L1066.5,383.2 L1067.5,378.9 L1068.5,373.9 L1069.5,368.4 L1070.5,363.0 L1071.5,357.9 L1072.5,353.7 L1073.5,350.4 L1074.5,347.3 L1075.5,344.2 L1076.5,341.3 L1077.5,338.9 L1078.5,337.1 L1079.5,336.1 L1080.5,336.1 L1081.5,337.0 L1082.5,338.6 L1083.5,340.9 L1084.5,343.7 L1085.5,347.0 L1086.5,350.5 L1087.5,354.1 L1088.5,358.2 L1089.5,364.2 L1090.5,371.8 L1091.5,380.2 L1092.5,388.7 L1093.5,396.4 L1094.5,402.7 L1095.5,407.0 L1096.5,411.1 L1097.5,414.9 L1098.5,418.4 L1099.5,421.3 L1100.5,423.5 L1101.5,424.6 L1102.5,424.8 L1103.5,424.6 L1104.5,424.2 L1105.5,423.6 L1106.5,422.9 L1107.5,422.2 L1108.5,421.3 L1109.5,420.4 L1110.5,419.5 L1111.5,418.3 L1112.5,416.8 L1113.5,415.1 L1114.5,413.2 L1115.5,411.2 L1116.5,409.1 L1117.5,407.0 L1118.5,404.9 L1119.5,402.5 L1120.5,399.9 L1121.5,397.1 L1122.5,394.1 L1123.5,391.2 L1124.5,388.4 L1125.5,385.6 L1126.5,383.2 L1127.5,381.0 L1128.5,379.1 L1129.5,377.5 L1130.5,376.1 L1131.5,374.8 L1132.5,373.5 L1133.5,372.3 L1134.5,371.1 L1135.5,369.8 L1136.5,368.4 L1137.5,366.8 L1138.5,365.1 L1139.5,362.9 L1140.5,360.5 L1141.5,357.9 L1142.5,355.3 L1143.5,352.8 L1144.5,350.6 L1145.5,348.7 L1146.5,347.3 L1147.5,345.9 L1148.5,344.6 L1149.5,343.4 L1150.5,342.6 L1151.5,342.1 L1152.5,342.2 L1153.5,343.3 L1154.5,345.3 L1155.5,348.0 L1156.5,351.1 L1157.5,354.4 L1158.5,357.8 L1159.5,362.4 L1160.5,367.9 L1161.5,374.0 L1162.5,380.4 L1163.5,386.6 L1164.5,392.4 L1165.5,397.6 L1166.5,403.1 L1167.5,408.7 L1168.5,414.2 L1169.5,419.1 L1170.5,423.0 L1171.5,425.4 L1172.5,426.3 L1173.5,427.0 L1174.5,427.5 L1175.5,428.1 L1176.5,428.5 L1177.5,429.0 L1178.5,429.4 L1179.5,429.7 L1180.5,430.0 L1181.5,430.3 L1182.5,430.5 L1183.5,430.7 L1184.5,430.9 L1185.5,431.0 L1186.5,431.1 L1187.5,431.2 L1188.5,431.2 L1189.5,431.3 L1190.5,431.3 L1191.5,431.4 L1192.5,431.4 L1193.5,431.4 L1194.5,431.5 L1195.5,431.5 L1196.5,431.5 L1197.5,431.6 L1198.5,431.6 L1199.5,431.6 L1200.5,431.7 L1201.5,431.7 L1202.5,431.7 L1203.5,431.7 L1204.5,431.7 L1205.5,431.8 L1206.5,431.8 L1207.5,431.8 L1208.5,431.8 L1209.5,431.8 L1210.5,431.8 L1211.5,431.9 L1212.5,431.9 L1213.5,431.9 L1214.5,431.9 L1215.5,431.9 L1216.5,431.9 L1217.5,432.0 L1218.5,432.0 L1219.5,432.0 L1220.5,432.0 L1221.5,432.0 L1222.5,432.0 L1223.5,432.1 L1224.5,432.1 L1225.5,432.1 L1226.5,432.1 L1227.5,432.1 L1228.5,432.2 L1229.5,432.2 L1230.5,432.2 L1231.5,432.2 L1232.5,432.2 L1233.5,432.2 L1234.5,432.3 L1235.5,432.3 L1236.5,432.3 L1237.5,432.3 L1238.5,432.3 L1239.5,432.3 L1240.5,432.3 L1241.5,432.4 L1242.5,432.4 L1243.5,432.4 L1244.5,432.4 L1245.5,432.4 L1246.5,432.4 L1247.5,432.4 L1248.5,432.5 L1249.5,432.5 L1250.5,432.5 L1251.5,432.5 L1252.5,432.5 L1253.5,432.5 L1254.5,432.5 L1255.5,432.6 L1256.5,432.6 L1257.5,432.6 L1258.5,432.6 L1259.5,432.6 L1260.5,432.6 L1261.5,432.6 L1262.5,432.7 L1263.5,432.7 L1264.5,432.7 L1265.5,432.7 L1266.5,432.7 L1267.5,432.7 L1268.5,432.7 L1269.5,432.8 L1270.5,432.8 L1271.5,432.8 L1272.0,432.8" fill="none" stroke="#e04050" stroke-width="1.7" stroke-linejoin="round" stroke-linecap="round" stroke-dasharray="5,4.5" stroke-linecap="butt"/>
<path d="M1012.5,540.0 L1013.5,540.0 L1014.5,539.9 L1015.5,539.9 L1016.5,539.8 L1017.5,539.8 L1018.5,539.8 L1019.5,539.7 L1020.5,539.7 L1021.5,539.7 L1022.5,539.6 L1023.5,539.6 L1024.5,539.5 L1025.5,539.5 L1026.5,539.4 L1027.5,539.4 L1028.5,539.3 L1029.5,539.2 L1030.5,539.1 L1031.5,539.0 L1032.5,538.9 L1033.5,538.6 L1034.5,538.1 L1035.5,537.4 L1036.5,536.7 L1037.5,536.0 L1038.5,535.3 L1039.5,534.7 L1040.5,534.3 L1041.5,534.0 L1042.5,534.0 L1043.5,534.2 L1044.5,534.5 L1045.5,534.8 L1046.5,535.2 L1047.5,535.5 L1048.5,535.8 L1049.5,536.0 L1050.5,535.8 L1051.5,534.2 L1052.5,531.5 L1053.5,528.1 L1054.5,524.6 L1055.5,521.3 L1056.5,518.7 L1057.5,515.9 L1058.5,512.9 L1059.5,510.0 L1060.5,507.2 L1061.5,504.9 L1062.5,503.1 L1063.5,502.1 L1064.5,502.0 L1065.5,502.0 L1066.5,502.0 L1067.5,502.0 L1068.5,502.0 L1069.5,502.0 L1070.5,502.0 L1071.5,501.8 L1072.5,501.4 L1073.5,500.9 L1074.5,500.2 L1075.5,499.5 L1076.5,498.8 L1077.5,498.0 L1078.5,497.3 L1079.5,496.6 L1080.5,495.9 L1081.5,495.4 L1082.5,495.0 L1083.5,494.8 L1084.5,494.8 L1085.5,494.9 L1086.5,495.1 L1087.5,495.3 L1088.5,495.6 L1089.5,495.9 L1090.5,496.3 L1091.5,496.8 L1092.5,497.2 L1093.5,497.7 L1094.5,498.3 L1095.5,499.4 L1096.5,500.9 L1097.5,502.7 L1098.5,504.7 L1099.5,506.6 L1100.5,508.5 L1101.5,510.1 L1102.5,511.2 L1103.5,511.9 L1104.5,511.9 L1105.5,511.5 L1106.5,510.6 L1107.5,509.4 L1108.5,507.8 L1109.5,506.0 L1110.5,504.0 L1111.5,501.9 L1112.5,499.6 L1113.5,497.3 L1114.5,495.1 L1115.5,492.9 L1116.5,490.8 L1117.5,488.9 L1118.5,487.1 L1119.5,485.3 L1120.5,483.3 L1121.5,481.2 L1122.5,479.1 L1123.5,477.0 L1124.5,475.0 L1125.5,473.2 L1126.5,471.5 L1127.5,470.1 L1128.5,469.0 L1129.5,468.2 L1130.5,467.8 L1131.5,467.6 L1132.5,467.4 L1133.5,467.2 L1134.5,467.1 L1135.5,466.9 L1136.5,466.8 L1137.5,466.6 L1138.5,466.4 L1139.5,466.2 L1140.5,465.8 L1141.5,464.9 L1142.5,463.6 L1143.5,462.1 L1144.5,460.4 L1145.5,458.7 L1146.5,457.1 L1147.5,455.7 L1148.5,454.7 L1149.5,454.1 L1150.5,454.0 L1151.5,454.4 L1152.5,454.9 L1153.5,455.7 L1154.5,456.6 L1155.5,457.5 L1156.5,458.5 L1157.5,459.7 L1158.5,461.1 L1159.5,463.0 L1160.5,465.3 L1161.5,468.8 L1162.5,473.2 L1163.5,478.4 L1164.5,483.8 L1165.5,489.3 L1166.5,494.8 L1167.5,501.6 L1168.5,509.3 L1169.5,517.3 L1170.5,525.0 L1171.5,531.7 L1172.5,536.8 L1173.5,539.6 L1174.5,539.7 L1175.5,537.8 L1176.5,534.7 L1177.5,531.3 L1178.5,528.2 L1179.5,526.3 L1180.5,526.1 L1181.5,526.6 L1182.5,527.5 L1183.5,528.7 L1184.5,530.0 L1185.5,531.4 L1186.5,532.6 L1187.5,533.6 L1188.5,534.3 L1189.5,535.0 L1190.5,535.7 L1191.5,536.4 L1192.5,536.9 L1193.5,537.4 L1194.5,537.8 L1195.5,538.0 L1196.5,538.0 L1197.5,537.7 L1198.5,537.3 L1199.5,536.7 L1200.5,535.9 L1201.5,535.0 L1202.5,534.0 L1203.5,532.9 L1204.5,531.8 L1205.5,530.7 L1206.5,529.6 L1207.5,528.5 L1208.5,527.5 L1209.5,526.3 L1210.5,524.9 L1211.5,523.3 L1212.5,521.7 L1213.5,520.0 L1214.5,518.2 L1215.5,516.4 L1216.5,514.7 L1217.5,513.0 L1218.5,511.5 L1219.5,510.0 L1220.5,508.8 L1221.5,507.7 L1222.5,506.9 L1223.5,506.3 L1224.5,506.0 L1225.5,506.0 L1226.5,506.2 L1227.5,506.6 L1228.5,507.1 L1229.5,507.7 L1230.5,508.5 L1231.5,509.3 L1232.5,510.2 L1233.5,511.2 L1234.5,512.2 L1235.5,513.2 L1236.5,514.3 L1237.5,515.4 L1238.5,516.5 L1239.5,517.5 L1240.5,518.5 L1241.5,519.8 L1242.5,521.3 L1243.5,522.9 L1244.5,524.6 L1245.5,526.3 L1246.5,528.0 L1247.5,529.5 L1248.5,531.0 L1249.5,532.2 L1250.5,533.2 L1251.5,533.8 L1252.5,534.1 L1253.5,534.4 L1254.5,534.6 L1255.5,534.8 L1256.5,534.9 L1257.5,535.1 L1258.5,535.1 L1259.5,535.2 L1260.5,535.2 L1261.5,535.2 L1262.5,535.2 L1263.5,535.2 L1264.5,535.2 L1265.5,535.2 L1266.5,535.2 L1267.5,535.2 L1268.5,535.2 L1269.5,535.2 L1270.5,535.2 L1271.5,535.2 L1272.0,535.2" fill="none" stroke="#333" stroke-width="1.7" stroke-linejoin="round" stroke-linecap="round" />
<path d="M1012.5,541.0 L1013.5,540.8 L1014.5,540.7 L1015.5,540.5 L1016.5,540.4 L1017.5,540.2 L1018.5,540.1 L1019.5,539.9 L1020.5,539.8 L1021.5,539.6 L1022.5,539.5 L1023.5,539.3 L1024.5,539.1 L1025.5,538.9 L1026.5,538.8 L1027.5,538.6 L1028.5,538.3 L1029.5,538.1 L1030.5,537.9 L1031.5,537.6 L1032.5,537.3 L1033.5,537.0 L1034.5,536.7 L1035.5,536.3 L1036.5,535.9 L1037.5,535.5 L1038.5,535.1 L1039.5,534.7 L1040.5,534.2 L1041.5,533.8 L1042.5,533.3 L1043.5,532.8 L1044.5,532.3 L1045.5,531.7 L1046.5,531.2 L1047.5,530.6 L1048.5,530.0 L1049.5,529.3 L1050.5,528.7 L1051.5,527.9 L1052.5,527.2 L1053.5,526.3 L1054.5,525.4 L1055.5,524.5 L1056.5,523.5 L1057.5,522.2 L1058.5,520.7 L1059.5,519.1 L1060.5,517.3 L1061.5,515.4 L1062.5,513.5 L1063.5,511.4 L1064.5,509.4 L1065.5,507.5 L1066.5,505.6 L1067.5,503.8 L1068.5,502.1 L1069.5,500.7 L1070.5,499.4 L1071.5,498.0 L1072.5,496.7 L1073.5,495.3 L1074.5,494.0 L1075.5,492.7 L1076.5,491.4 L1077.5,490.2 L1078.5,489.1 L1079.5,488.2 L1080.5,487.4 L1081.5,486.7 L1082.5,486.3 L1083.5,486.0 L1084.5,486.0 L1085.5,486.3 L1086.5,486.7 L1087.5,487.4 L1088.5,488.2 L1089.5,489.1 L1090.5,490.1 L1091.5,491.2 L1092.5,492.3 L1093.5,493.4 L1094.5,494.6 L1095.5,496.3 L1096.5,498.3 L1097.5,500.7 L1098.5,503.2 L1099.5,505.9 L1100.5,508.5 L1101.5,510.9 L1102.5,513.1 L1103.5,514.9 L1104.5,516.2 L1105.5,516.9 L1106.5,516.9 L1107.5,516.2 L1108.5,515.0 L1109.5,513.2 L1110.5,511.0 L1111.5,508.6 L1112.5,505.9 L1113.5,503.2 L1114.5,500.4 L1115.5,497.7 L1116.5,495.2 L1117.5,493.0 L1118.5,491.1 L1119.5,489.1 L1120.5,487.0 L1121.5,484.9 L1122.5,482.8 L1123.5,480.7 L1124.5,478.8 L1125.5,477.0 L1126.5,475.4 L1127.5,474.0 L1128.5,473.0 L1129.5,472.2 L1130.5,471.8 L1131.5,471.6 L1132.5,471.4 L1133.5,471.2 L1134.5,471.1 L1135.5,470.9 L1136.5,470.8 L1137.5,470.6 L1138.5,470.4 L1139.5,470.2 L1140.5,469.7 L1141.5,468.6 L1142.5,467.0 L1143.5,465.0 L1144.5,462.7 L1145.5,460.4 L1146.5,458.2 L1147.5,456.3 L1148.5,454.9 L1149.5,454.1 L1150.5,454.0 L1151.5,454.3 L1152.5,454.8 L1153.5,455.6 L1154.5,456.5 L1155.5,457.5 L1156.5,458.7 L1157.5,460.7 L1158.5,463.5 L1159.5,467.0 L1160.5,471.0 L1161.5,475.5 L1162.5,480.4 L1163.5,485.4 L1164.5,490.5 L1165.5,495.5 L1166.5,500.7 L1167.5,507.5 L1168.5,515.1 L1169.5,522.6 L1170.5,528.9 L1171.5,533.1 L1172.5,534.5 L1173.5,535.3 L1174.5,536.0 L1175.5,536.6 L1176.5,537.1 L1177.5,537.5 L1178.5,537.8 L1179.5,538.0 L1180.5,538.0 L1181.5,538.1 L1182.5,538.1 L1183.5,538.2 L1184.5,538.2 L1185.5,538.3 L1186.5,538.3 L1187.5,538.4 L1188.5,538.4 L1189.5,538.5 L1190.5,538.5 L1191.5,538.6 L1192.5,538.6 L1193.5,538.6 L1194.5,538.7 L1195.5,538.7 L1196.5,538.7 L1197.5,538.8 L1198.5,538.8 L1199.5,538.8 L1200.5,538.9 L1201.5,538.9 L1202.5,538.9 L1203.5,539.0 L1204.5,539.0 L1205.5,539.0 L1206.5,539.0 L1207.5,539.1 L1208.5,539.1 L1209.5,539.1 L1210.5,539.1 L1211.5,539.2 L1212.5,539.2 L1213.5,539.2 L1214.5,539.2 L1215.5,539.2 L1216.5,539.2 L1217.5,539.3 L1218.5,539.3 L1219.5,539.3 L1220.5,539.3 L1221.5,539.3 L1222.5,539.3 L1223.5,539.4 L1224.5,539.4 L1225.5,539.4 L1226.5,539.4 L1227.5,539.4 L1228.5,539.4 L1229.5,539.4 L1230.5,539.5 L1231.5,539.5 L1232.5,539.5 L1233.5,539.5 L1234.5,539.5 L1235.5,539.5 L1236.5,539.5 L1237.5,539.5 L1238.5,539.5 L1239.5,539.5 L1240.5,539.6 L1241.5,539.6 L1242.5,539.6 L1243.5,539.6 L1244.5,539.6 L1245.5,539.6 L1246.5,539.6 L1247.5,539.6 L1248.5,539.6 L1249.5,539.7 L1250.5,539.7 L1251.5,539.7 L1252.5,539.7 L1253.5,539.7 L1254.5,539.7 L1255.5,539.7 L1256.5,539.7 L1257.5,539.8 L1258.5,539.8 L1259.5,539.8 L1260.5,539.8 L1261.5,539.8 L1262.5,539.8 L1263.5,539.8 L1264.5,539.9 L1265.5,539.9 L1266.5,539.9 L1267.5,539.9 L1268.5,539.9 L1269.5,539.9 L1270.5,540.0 L1271.5,540.0 L1272.0,540.0" fill="none" stroke="#e04050" stroke-width="1.7" stroke-linejoin="round" stroke-linecap="round" stroke-dasharray="5,4.5" stroke-linecap="butt"/>
</svg></body></html>
